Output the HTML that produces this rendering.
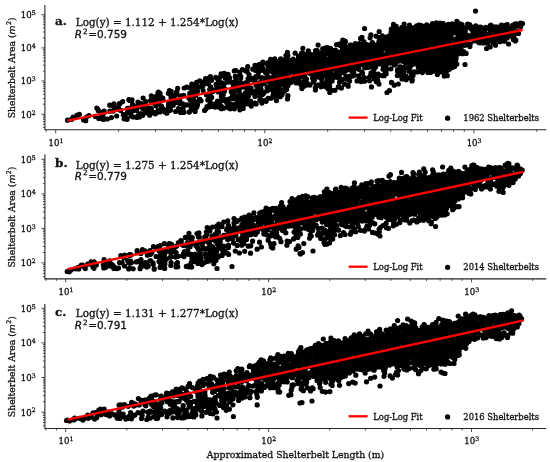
<!DOCTYPE html>
<html><head><meta charset="utf-8"><title>Shelterbelt scatter</title><style>
html,body{margin:0;padding:0;background:#fff;width:550px;height:462px;overflow:hidden}
svg{display:block;filter:blur(0.35px)}
text{font-family:"DejaVu Serif","Liberation Serif",serif;fill:#111;stroke:#111;stroke-width:0.3px}
.tk{font-size:8.6px}
.sup{font-size:6.2px}
.yl{font-size:9.25px}
.mi{font-family:"DejaVu Sans",sans-serif;font-style:italic}
.ysup{font-size:6.3px;font-family:"DejaVu Sans",sans-serif}
.pl{font-size:11.9px;font-weight:bold;stroke-width:0.35px}
.eq{font-size:10.4px}
.r2{font-size:10.5px;font-family:"DejaVu Sans",sans-serif}
.rsup{font-size:7.3px}
.lg{font-size:8.4px}
.xl{font-size:9.3px}
</style></head><body>
<svg width="550" height="462" viewBox="0 0 550 462">
<rect width="550" height="462" fill="#fff"/>
<g><path d="M71.4 119.4h0M73.1 117.1h0M73.7 117.7h0M73.9 117.4h0M76.9 115.4h0M79.4 114.3h0M83.7 120.0h0M83.5 119.4h0M85.7 120.7h0M86.5 117.0h0M89.0 115.6h0M95.3 116.5h0M96.8 108.1h0M98.0 109.4h0M98.4 110.8h0M98.8 118.4h0M101.5 115.2h0M101.9 112.3h0M101.8 118.4h0M102.6 116.9h0M103.3 117.5h0M103.7 113.3h0M103.4 119.4h0M104.2 111.2h0M107.4 119.0h0M109.7 105.2h0M109.9 111.2h0M111.5 117.6h0M113.2 111.1h0M113.0 106.0h0M113.6 106.5h0M113.9 103.8h0M115.5 108.2h0M115.3 108.0h0M116.6 109.4h0M116.7 116.0h0M118.4 107.2h0M119.2 104.0h0M119.5 103.7h0M120.1 103.5h0M120.7 110.4h0M122.7 101.5h0M123.3 114.7h0M124.1 118.8h0M125.5 114.3h0M127.0 118.6h0M127.1 119.3h0M127.5 108.3h0M127.5 112.3h0M128.9 99.7h0M129.8 100.4h0M130.5 107.9h0M130.8 113.2h0M131.1 115.9h0M132.1 110.0h0M132.0 99.9h0M132.6 104.6h0M133.1 116.9h0M133.4 110.6h0M134.6 109.0h0M136.8 110.4h0M136.9 117.5h0M137.5 105.9h0M138.0 115.7h0M138.0 102.2h0M139.0 116.6h0M139.5 117.0h0M140.4 113.9h0M140.7 106.4h0M141.1 103.7h0M141.0 113.9h0M142.7 115.3h0M142.7 108.6h0M143.1 98.1h0M143.6 105.2h0M143.8 109.0h0M145.0 113.0h0M145.9 111.0h0M146.0 112.6h0M145.8 101.6h0M146.9 106.8h0M148.6 110.5h0M149.6 115.2h0M150.7 100.4h0M151.0 108.3h0M151.4 109.2h0M151.3 95.8h0M153.0 97.8h0M152.9 102.9h0M152.8 112.9h0M153.9 112.4h0M155.2 100.6h0M155.1 96.9h0M155.4 113.8h0M156.0 105.8h0M155.9 105.8h0M156.6 112.5h0M157.4 111.5h0M157.9 92.9h0M158.2 93.4h0M158.4 110.3h0M158.5 92.0h0M158.7 104.1h0M158.6 94.8h0M159.2 98.4h0M159.3 95.9h0M160.0 111.9h0M160.1 93.3h0M160.1 96.1h0M161.5 106.2h0M162.7 98.1h0M162.8 108.6h0M163.0 100.1h0M164.0 110.1h0M165.0 112.0h0M166.9 113.2h0M168.6 103.9h0M168.3 107.9h0M168.3 93.3h0M168.4 105.5h0M169.5 110.4h0M169.4 90.7h0M170.1 107.6h0M170.5 110.0h0M171.2 91.3h0M171.0 96.7h0M171.2 98.0h0M171.4 100.5h0M171.3 100.9h0M172.5 95.3h0M173.2 105.3h0M174.5 98.9h0M175.7 102.5h0M175.6 111.5h0M176.1 94.6h0M175.9 100.0h0M176.6 92.1h0M176.8 91.7h0M177.7 88.3h0M178.5 100.9h0M178.4 108.6h0M179.7 103.5h0M179.8 100.3h0M180.6 112.4h0M180.4 103.2h0M180.4 95.8h0M182.1 103.5h0M182.7 103.8h0M183.0 108.3h0M183.5 112.5h0M183.4 106.3h0M183.3 110.6h0M183.8 95.3h0M184.2 88.0h0M183.8 112.3h0M186.1 104.8h0M186.7 87.2h0M188.2 104.8h0M188.9 97.9h0M189.1 112.1h0M189.4 112.0h0M189.7 93.3h0M190.2 99.7h0M190.6 88.3h0M191.1 109.7h0M190.8 87.3h0M191.7 87.2h0M191.7 85.7h0M191.7 108.0h0M191.4 109.3h0M191.9 86.1h0M192.0 89.3h0M191.9 106.8h0M191.8 84.0h0M192.2 101.3h0M192.7 103.5h0M192.4 97.5h0M192.3 95.1h0M192.9 102.8h0M193.2 100.2h0M193.2 109.6h0M193.0 92.0h0M193.7 100.0h0M195.1 111.5h0M195.6 101.9h0M195.4 85.6h0M196.2 89.9h0M195.9 95.4h0M195.8 108.1h0M196.6 82.4h0M196.5 106.4h0M197.1 104.1h0M196.9 105.6h0M196.8 107.0h0M197.5 91.3h0M197.5 104.7h0M199.2 99.8h0M199.6 86.8h0M199.7 80.9h0M199.9 99.4h0M201.0 100.8h0M201.9 82.3h0M202.7 86.0h0M203.1 84.5h0M203.2 90.6h0M202.8 82.1h0M203.9 84.2h0M204.6 110.4h0M205.5 78.5h0M205.9 109.1h0M206.4 79.8h0M206.4 94.7h0M207.0 106.6h0M207.6 80.6h0M207.7 95.6h0M207.8 99.9h0M208.5 84.0h0M208.9 78.2h0M209.0 106.9h0M209.7 89.6h0M209.7 104.8h0M210.1 90.9h0M210.4 76.7h0M210.3 102.2h0M210.6 86.9h0M210.4 89.4h0M210.8 92.8h0M211.1 106.5h0M211.6 80.3h0M211.7 97.4h0M212.1 89.8h0M213.0 105.6h0M213.0 91.5h0M214.7 89.9h0M214.9 107.1h0M215.7 77.3h0M215.5 103.5h0M216.1 84.3h0M216.6 85.8h0M217.1 90.6h0M217.7 79.0h0M217.5 101.1h0M218.0 82.9h0M218.3 92.0h0M218.7 90.0h0M218.6 107.1h0M218.9 80.4h0M218.8 102.0h0M219.0 87.3h0M219.4 78.0h0M219.8 103.1h0M220.4 105.6h0M221.1 106.2h0M221.1 73.8h0M221.0 75.8h0M221.4 108.7h0M221.5 100.4h0M221.7 88.6h0M221.3 82.5h0M221.3 96.4h0M221.6 94.0h0M221.8 99.2h0M221.8 108.4h0M222.9 93.9h0M223.0 88.1h0M223.2 87.1h0M223.2 94.8h0M223.7 75.7h0M223.7 85.7h0M223.7 108.2h0M223.6 98.8h0M223.9 83.8h0M224.0 75.9h0M224.3 73.4h0M224.4 91.2h0M224.9 89.0h0M225.3 78.2h0M225.5 100.9h0M227.0 103.3h0M227.3 82.2h0M227.8 80.7h0M228.1 74.3h0M228.0 104.8h0M228.0 106.2h0M228.2 80.7h0M227.9 99.4h0M227.9 76.1h0M228.3 107.8h0M229.1 77.5h0M229.6 77.9h0M230.2 108.8h0M230.7 103.8h0M230.8 98.4h0M231.6 82.4h0M231.3 91.7h0M232.5 94.8h0M233.2 98.7h0M233.2 86.7h0M233.0 88.1h0M234.2 92.7h0M233.9 82.2h0M233.8 84.9h0M234.0 107.4h0M234.4 108.8h0M234.6 83.9h0M234.3 70.9h0M234.4 95.2h0M234.9 82.8h0M235.1 104.3h0M235.3 76.4h0M235.3 87.1h0M235.9 79.4h0M235.9 70.5h0M236.3 106.0h0M236.6 99.4h0M236.6 97.3h0M237.2 84.4h0M237.7 82.5h0M238.0 88.9h0M238.2 100.5h0M238.6 101.3h0M238.6 97.6h0M239.2 90.9h0M239.7 72.4h0M239.4 85.1h0M239.4 94.8h0M239.9 106.2h0M240.2 85.1h0M239.9 109.8h0M240.0 75.3h0M240.7 78.0h0M240.6 104.4h0M240.4 94.7h0M240.8 76.7h0M241.2 82.9h0M241.7 103.2h0M241.5 97.3h0M241.7 85.2h0M241.6 96.9h0M242.0 106.5h0M242.1 107.7h0M242.3 69.7h0M243.0 107.2h0M242.8 87.1h0M242.8 97.0h0M243.2 108.5h0M243.5 102.4h0M243.5 101.2h0M243.5 95.7h0M244.7 94.9h0M245.0 85.5h0M245.2 93.0h0M245.3 103.9h0M245.3 70.1h0M245.8 71.1h0M246.1 82.7h0M245.9 82.7h0M246.6 71.3h0M246.5 92.0h0M246.3 98.7h0M246.8 70.1h0M246.9 102.5h0M247.2 99.9h0M247.0 89.7h0M247.1 71.5h0M247.0 69.9h0M247.7 84.1h0M247.6 88.6h0M247.7 66.7h0M248.0 78.8h0M247.9 85.0h0M247.8 92.7h0M248.5 95.7h0M248.9 91.2h0M249.0 74.6h0M249.0 104.0h0M250.3 104.3h0M250.6 101.0h0M251.0 88.2h0M251.0 79.7h0M251.3 78.0h0M251.3 106.1h0M252.6 92.9h0M252.8 69.2h0M254.7 94.2h0M255.1 82.1h0M255.0 65.3h0M254.9 103.0h0M255.0 96.4h0M255.6 70.6h0M255.3 91.4h0M255.3 68.4h0M255.6 78.3h0M256.1 103.9h0M256.0 84.9h0M255.8 76.5h0M257.2 87.9h0M257.2 87.1h0M257.1 65.7h0M257.7 83.8h0M258.1 76.7h0M258.3 76.9h0M258.6 72.5h0M258.4 70.2h0M258.8 92.8h0M259.0 92.8h0M259.7 82.6h0M259.7 70.6h0M259.5 64.4h0M259.4 69.9h0M260.2 84.3h0M260.2 89.5h0M260.0 96.7h0M259.9 100.0h0M261.0 89.1h0M260.9 85.5h0M261.6 100.1h0M261.5 77.7h0M261.7 78.2h0M262.2 68.4h0M262.2 77.9h0M261.9 103.1h0M261.8 64.0h0M262.4 94.5h0M262.4 67.6h0M262.9 63.2h0M262.9 93.9h0M262.8 69.4h0M262.9 62.2h0M263.6 70.6h0M264.1 92.5h0M263.9 70.6h0M264.3 83.3h0M264.7 81.3h0M264.7 80.9h0M265.5 72.6h0M265.6 70.4h0M265.7 100.4h0M266.0 79.1h0M266.1 101.3h0M266.0 77.9h0M267.0 90.5h0M267.2 74.6h0M267.1 87.3h0M267.7 62.9h0M267.5 90.6h0M268.2 63.0h0M267.8 65.6h0M268.1 98.3h0M269.2 80.4h0M269.7 88.4h0M269.4 70.5h0M269.6 82.1h0M270.0 87.7h0M269.9 83.2h0M270.1 66.5h0M270.6 62.2h0M270.6 86.6h0M270.3 80.2h0M270.4 77.8h0M270.5 59.3h0M271.0 81.1h0M270.9 98.2h0M271.2 98.1h0M271.6 89.4h0M271.3 61.8h0M272.2 71.7h0M272.0 66.3h0M271.8 97.5h0M272.4 62.0h0M272.5 81.6h0M273.1 95.3h0M272.8 82.3h0M272.9 84.9h0M273.1 64.4h0M273.3 92.0h0M273.8 67.2h0M274.1 84.2h0M273.9 75.7h0M273.8 66.7h0M274.3 79.2h0M274.6 93.6h0M275.1 60.8h0M275.2 90.4h0M275.1 70.9h0M274.8 58.9h0M275.6 86.1h0M275.5 69.4h0M275.3 96.7h0M276.0 79.2h0M275.8 66.0h0M276.7 61.7h0M276.4 100.6h0M277.1 73.1h0M277.2 68.1h0M277.1 81.7h0M276.8 89.7h0M276.9 83.6h0M276.9 62.3h0M277.3 74.7h0M277.4 90.1h0M277.4 84.6h0M277.5 75.4h0M277.7 75.8h0M277.5 79.6h0M277.9 61.8h0M277.8 78.5h0M278.5 87.5h0M278.3 65.4h0M278.9 87.2h0M279.0 65.9h0M278.8 92.9h0M279.5 61.7h0M279.3 64.6h0M279.3 78.0h0M279.4 70.8h0M280.1 96.7h0M280.2 89.3h0M280.4 62.5h0M280.5 84.6h0M280.7 58.8h0M280.9 60.7h0M280.8 73.4h0M280.9 84.5h0M280.8 83.6h0M281.2 67.0h0M281.7 62.7h0M281.6 80.4h0M281.9 63.5h0M282.1 60.7h0M281.8 94.9h0M283.1 61.7h0M283.0 64.8h0M283.0 72.5h0M283.2 80.5h0M282.8 92.9h0M283.6 69.0h0M283.7 73.6h0M284.0 78.5h0M284.0 65.5h0M284.2 83.6h0M283.8 77.7h0M284.5 60.4h0M284.5 91.1h0M284.8 60.1h0M284.9 77.7h0M285.0 69.3h0M285.0 87.8h0M285.3 61.6h0M285.5 65.2h0M285.6 76.8h0M285.3 67.0h0M285.4 59.4h0M286.0 81.1h0M286.1 63.2h0M285.8 70.6h0M285.8 80.0h0M285.9 55.5h0M286.3 78.7h0M286.3 59.1h0M286.4 75.4h0M286.5 71.9h0M286.6 89.4h0M287.0 74.3h0M287.6 61.3h0M287.4 81.0h0M287.7 80.5h0M287.4 52.4h0M287.5 98.9h0M287.8 68.1h0M288.1 82.3h0M287.9 55.7h0M287.9 95.7h0M288.0 85.4h0M288.7 72.8h0M288.9 79.9h0M289.2 80.0h0M289.2 69.7h0M289.0 73.0h0M289.0 61.0h0M289.2 81.1h0M289.4 66.1h0M289.7 71.1h0M289.3 64.2h0M289.7 62.4h0M289.6 70.9h0M289.7 72.5h0M289.8 61.6h0M289.9 72.0h0M289.9 61.7h0M290.5 69.6h0M290.5 60.6h0M290.5 67.8h0M290.7 81.1h0M290.7 71.1h0M291.1 82.3h0M291.6 70.6h0M292.1 68.9h0M292.0 69.1h0M292.3 69.7h0M292.6 69.7h0M292.3 65.6h0M292.7 64.2h0M293.2 59.2h0M292.8 69.6h0M293.1 78.2h0M293.0 80.1h0M292.8 61.2h0M293.8 63.8h0M294.5 66.5h0M294.6 74.9h0M295.2 70.9h0M295.0 71.3h0M295.1 70.7h0M294.8 74.1h0M295.1 53.2h0M295.3 75.0h0M295.8 74.3h0M296.2 82.9h0M296.5 72.2h0M296.6 60.8h0M296.7 74.7h0M296.4 70.3h0M296.9 67.0h0M297.4 77.8h0M297.4 65.5h0M298.2 61.2h0M297.8 77.3h0M298.5 57.1h0M298.7 57.2h0M298.3 65.6h0M298.3 75.0h0M298.8 56.1h0M298.9 71.0h0M299.2 64.3h0M298.8 80.6h0M299.6 76.3h0M299.7 64.8h0M299.4 59.8h0M300.2 57.8h0M300.0 64.8h0M300.2 56.3h0M299.8 65.2h0M299.8 60.3h0M300.0 57.9h0M300.5 61.5h0M300.6 76.7h0M300.5 65.5h0M300.7 60.4h0M300.5 84.1h0M301.0 72.7h0M301.5 69.2h0M301.4 70.3h0M301.6 53.0h0M301.4 85.6h0M302.0 68.9h0M301.9 73.3h0M301.9 88.6h0M302.2 84.6h0M302.3 59.3h0M302.4 63.5h0M302.6 57.1h0M302.5 73.4h0M302.5 73.2h0M302.5 61.1h0M302.4 71.6h0M302.4 74.4h0M302.6 82.9h0M303.1 67.6h0M303.1 72.8h0M302.8 72.0h0M302.9 62.8h0M302.9 53.2h0M302.9 48.3h0M303.5 70.2h0M303.7 64.8h0M303.7 82.5h0M303.9 62.5h0M304.0 66.5h0M303.8 75.0h0M304.2 55.2h0M304.1 57.0h0M303.8 74.4h0M304.1 81.1h0M304.4 86.1h0M305.2 73.5h0M305.0 56.8h0M305.0 71.8h0M304.8 68.0h0M304.9 77.2h0M305.0 54.7h0M305.5 61.6h0M305.7 71.4h0M305.4 85.0h0M305.8 68.5h0M306.7 70.8h0M306.6 57.9h0M306.7 61.3h0M306.3 72.0h0M306.4 65.5h0M306.5 79.0h0M306.9 71.6h0M307.0 65.2h0M307.4 64.8h0M307.3 83.4h0M307.7 85.0h0M308.1 62.9h0M308.1 64.1h0M307.8 69.3h0M307.9 58.1h0M307.9 71.3h0M307.8 68.2h0M307.8 66.6h0M307.9 66.6h0M308.1 53.0h0M308.7 71.0h0M308.6 61.5h0M308.3 69.9h0M308.5 59.8h0M308.3 67.8h0M308.4 50.9h0M308.4 53.8h0M309.0 68.4h0M309.2 61.9h0M309.2 64.3h0M309.2 71.2h0M309.1 54.5h0M309.6 56.7h0M309.4 58.0h0M309.3 55.2h0M309.4 72.2h0M309.3 65.1h0M309.4 67.6h0M309.6 54.0h0M310.0 70.9h0M310.0 85.1h0M310.3 73.7h0M311.7 56.5h0M311.6 54.7h0M311.9 62.3h0M311.9 65.4h0M312.2 64.5h0M312.2 62.7h0M312.4 57.0h0M312.5 65.3h0M312.5 67.5h0M312.7 72.5h0M312.6 55.8h0M312.6 78.0h0M313.2 55.5h0M312.9 70.0h0M313.4 68.1h0M313.4 74.2h0M313.7 58.7h0M313.4 72.5h0M313.3 56.2h0M313.3 81.9h0M314.1 64.5h0M313.9 63.4h0M313.8 70.8h0M314.0 63.2h0M313.9 64.8h0M314.6 54.2h0M314.7 68.8h0M314.3 80.3h0M314.8 73.0h0M315.2 57.7h0M315.2 63.9h0M315.2 67.6h0M315.5 72.3h0M315.6 74.7h0M315.3 63.8h0M315.6 50.5h0M315.6 77.3h0M315.4 90.0h0M315.4 87.8h0M316.1 70.4h0M316.1 72.9h0M316.0 53.3h0M316.2 85.5h0M316.3 62.7h0M316.3 65.6h0M316.8 65.8h0M316.9 62.2h0M317.1 73.4h0M316.9 68.1h0M317.0 63.6h0M317.2 50.6h0M317.4 68.4h0M317.4 57.9h0M317.6 67.8h0M317.3 57.8h0M317.6 85.1h0M317.8 73.2h0M317.9 55.3h0M317.9 66.7h0M318.1 45.1h0M318.1 85.0h0M318.3 61.5h0M318.3 64.1h0M318.7 62.3h0M318.4 72.3h0M319.2 58.0h0M319.2 62.1h0M319.7 67.1h0M319.3 61.4h0M319.7 61.5h0M319.3 74.2h0M319.3 55.9h0M320.1 61.7h0M320.2 60.5h0M320.1 57.5h0M319.9 56.5h0M320.0 76.2h0M320.1 77.8h0M320.5 64.3h0M320.7 64.5h0M320.4 62.6h0M320.4 66.8h0M320.4 74.4h0M320.5 66.5h0M320.6 67.7h0M320.6 64.2h0M320.9 54.3h0M320.8 61.8h0M321.1 58.6h0M321.0 66.8h0M321.2 65.3h0M321.0 86.8h0M321.3 77.1h0M321.5 78.6h0M321.5 76.9h0M321.8 61.0h0M322.2 67.1h0M322.2 74.2h0M322.1 52.5h0M322.1 57.0h0M322.0 82.0h0M322.3 74.1h0M322.5 72.0h0M322.4 58.0h0M322.4 70.8h0M322.7 64.5h0M322.6 54.3h0M322.7 48.8h0M323.0 57.2h0M323.1 56.7h0M323.1 67.6h0M323.1 86.2h0M323.6 71.2h0M323.4 66.8h0M324.1 71.6h0M324.1 69.3h0M324.5 57.2h0M324.7 48.4h0M324.7 75.9h0M324.9 65.2h0M325.1 71.9h0M325.0 72.0h0M325.2 68.7h0M325.0 83.3h0M325.6 70.4h0M325.3 69.6h0M325.6 63.5h0M325.9 63.2h0M325.8 61.6h0M325.8 47.8h0M326.4 53.1h0M326.6 60.2h0M326.6 66.7h0M326.5 87.3h0M326.9 52.2h0M327.0 72.9h0M327.0 77.4h0M327.0 79.8h0M327.7 68.1h0M327.7 71.9h0M327.5 47.5h0M327.6 76.5h0M327.6 79.6h0M327.4 85.0h0M328.0 63.9h0M327.9 53.7h0M328.0 69.9h0M327.8 71.7h0M328.1 88.7h0M328.7 61.5h0M328.4 66.4h0M328.4 77.1h0M328.5 84.7h0M329.5 58.3h0M329.5 53.4h0M329.7 86.0h0M329.6 82.8h0M330.2 62.8h0M330.1 69.2h0M330.1 69.4h0M329.8 50.7h0M330.2 50.4h0M329.8 92.5h0M329.8 91.4h0M330.5 63.7h0M330.3 56.8h0M330.5 48.4h0M330.9 72.4h0M330.8 65.7h0M331.2 61.8h0M330.9 64.5h0M331.1 74.0h0M331.2 74.8h0M331.7 57.8h0M331.5 55.7h0M331.5 80.0h0M331.6 74.2h0M332.0 68.4h0M332.1 52.4h0M331.8 65.8h0M332.1 81.0h0M331.9 90.3h0M332.4 68.5h0M332.6 50.4h0M332.5 75.1h0M333.2 56.4h0M333.2 67.3h0M333.4 58.6h0M333.9 64.4h0M334.0 76.0h0M334.0 76.5h0M334.5 66.1h0M334.6 77.2h0M334.8 52.0h0M335.1 56.6h0M334.9 52.0h0M335.0 65.0h0M334.9 66.3h0M334.9 90.3h0M335.3 50.0h0M335.5 54.0h0M335.9 61.7h0M336.2 55.0h0M335.9 50.7h0M336.2 69.2h0M336.1 52.7h0M336.3 60.6h0M336.3 71.0h0M336.6 55.1h0M336.6 44.6h0M336.4 74.2h0M337.2 70.6h0M337.0 71.9h0M337.0 59.7h0M337.2 77.3h0M337.4 66.6h0M337.5 59.1h0M338.2 57.5h0M338.1 64.0h0M337.8 66.5h0M338.2 60.2h0M338.1 60.0h0M338.3 71.2h0M338.7 57.9h0M338.5 61.3h0M338.3 55.0h0M338.3 86.9h0M338.7 75.8h0M339.0 52.3h0M339.0 63.1h0M339.2 59.6h0M338.9 69.5h0M339.0 55.6h0M339.1 76.4h0M338.9 73.7h0M339.7 59.2h0M339.7 69.6h0M339.4 53.7h0M339.7 63.7h0M339.7 56.9h0M339.7 87.3h0M339.5 82.2h0M339.7 74.6h0M339.9 71.8h0M340.0 54.8h0M339.9 61.6h0M339.8 43.9h0M340.2 73.3h0M340.3 68.1h0M340.3 45.4h0M340.9 66.6h0M340.8 63.2h0M340.9 59.4h0M341.2 63.5h0M340.9 55.7h0M340.8 62.1h0M341.1 79.9h0M341.4 59.1h0M341.3 69.6h0M341.6 53.7h0M341.4 88.1h0M342.0 68.8h0M342.0 69.1h0M342.0 61.9h0M342.2 51.4h0M342.2 62.9h0M342.0 69.8h0M342.2 50.6h0M342.1 79.6h0M342.6 48.6h0M342.3 57.5h0M342.7 57.2h0M342.3 43.4h0M343.0 52.1h0M342.9 61.1h0M342.8 66.2h0M343.1 46.5h0M342.8 40.0h0M343.5 59.5h0M343.3 54.0h0M343.4 50.0h0M343.7 50.6h0M343.5 55.5h0M343.6 60.4h0M343.7 58.9h0M343.3 72.5h0M343.9 59.6h0M343.9 52.0h0M343.9 50.6h0M344.0 62.4h0M344.1 55.4h0M343.8 60.0h0M344.6 68.6h0M344.5 51.6h0M344.6 84.1h0M344.8 52.0h0M345.1 59.9h0M345.2 68.7h0M345.1 59.1h0M345.0 69.9h0M344.9 64.3h0M345.1 41.1h0M345.4 49.2h0M345.5 70.9h0M345.4 51.7h0M345.3 51.9h0M345.6 66.7h0M345.4 41.8h0M345.4 46.3h0M346.2 61.3h0M346.1 54.6h0M345.9 76.4h0M346.7 79.1h0M347.0 58.7h0M347.0 66.4h0M346.9 50.5h0M346.8 65.0h0M347.5 67.4h0M347.4 48.3h0M347.7 64.6h0M347.6 57.3h0M348.2 86.2h0M348.0 85.3h0M348.5 49.6h0M348.5 56.4h0M348.3 66.9h0M348.5 56.8h0M349.2 52.4h0M349.5 52.1h0M349.4 49.3h0M349.4 62.7h0M349.6 81.1h0M349.7 76.2h0M349.8 62.4h0M350.2 69.2h0M349.9 69.7h0M350.2 56.5h0M350.2 45.1h0M350.7 59.1h0M350.6 49.0h0M350.7 57.3h0M350.7 57.5h0M350.3 50.4h0M350.9 64.8h0M351.0 64.6h0M351.0 58.3h0M351.1 46.3h0M350.9 45.0h0M351.2 76.3h0M351.4 58.0h0M351.5 57.5h0M351.3 56.8h0M351.4 67.9h0M351.5 67.2h0M351.5 65.0h0M351.6 70.8h0M352.0 64.1h0M351.8 47.0h0M352.4 61.9h0M352.4 75.7h0M353.2 68.6h0M353.2 51.9h0M353.0 60.5h0M352.9 53.4h0M353.0 54.8h0M353.2 58.9h0M353.4 69.7h0M353.4 63.6h0M353.7 46.6h0M353.4 75.8h0M353.8 58.7h0M353.8 65.6h0M354.2 60.5h0M354.0 68.8h0M354.0 66.4h0M354.1 67.0h0M353.8 46.3h0M353.8 73.1h0M354.4 51.2h0M354.4 68.3h0M354.7 68.3h0M354.6 51.3h0M354.6 68.9h0M355.7 52.4h0M355.3 50.2h0M355.7 52.6h0M355.7 60.0h0M355.6 65.4h0M355.5 54.0h0M355.5 57.3h0M355.3 43.7h0M355.8 65.5h0M356.2 55.5h0M355.9 62.0h0M355.8 65.3h0M356.6 67.6h0M356.3 68.0h0M356.3 56.1h0M356.5 57.6h0M357.1 80.9h0M357.6 68.3h0M357.4 49.5h0M357.6 62.5h0M357.4 59.7h0M357.4 59.2h0M358.2 47.1h0M358.0 62.2h0M358.0 48.7h0M358.2 58.0h0M358.0 67.6h0M358.5 56.1h0M358.4 61.6h0M358.4 75.8h0M358.9 69.3h0M359.0 54.0h0M358.9 54.9h0M358.9 49.2h0M359.4 55.4h0M359.3 43.6h0M359.9 65.0h0M359.9 49.8h0M360.0 78.4h0M360.5 56.8h0M360.7 46.1h0M360.6 38.4h0M360.9 57.2h0M360.9 55.6h0M360.9 60.6h0M361.1 61.8h0M360.9 54.9h0M361.0 81.6h0M361.3 59.8h0M361.7 54.4h0M362.1 55.9h0M361.9 56.9h0M361.9 53.2h0M362.2 53.7h0M361.8 63.7h0M362.2 58.5h0M362.1 52.6h0M362.0 37.3h0M361.9 72.3h0M362.7 64.2h0M362.7 58.5h0M362.4 44.3h0M362.6 73.3h0M363.2 46.7h0M363.1 55.4h0M362.9 57.2h0M363.2 51.0h0M362.8 44.5h0M363.4 45.1h0M363.5 48.4h0M363.9 48.7h0M364.1 46.7h0M364.1 55.9h0M364.1 55.9h0M363.9 64.0h0M363.9 41.5h0M364.6 65.3h0M364.7 67.8h0M364.4 57.2h0M364.4 56.9h0M364.6 60.6h0M364.3 77.5h0M364.5 81.2h0M365.1 46.1h0M365.1 65.6h0M365.1 58.5h0M365.0 60.6h0M365.4 55.4h0M365.7 51.4h0M365.4 63.0h0M365.6 65.0h0M365.4 46.8h0M365.7 62.2h0M365.8 61.1h0M366.1 67.2h0M366.4 52.7h0M366.3 56.8h0M366.7 50.3h0M366.9 58.0h0M367.0 50.6h0M367.1 52.3h0M366.8 44.5h0M367.3 65.3h0M367.5 63.8h0M367.5 67.4h0M367.7 61.6h0M367.4 65.5h0M367.7 60.2h0M367.7 62.0h0M367.8 64.7h0M368.0 63.3h0M367.9 45.8h0M367.9 45.2h0M368.2 57.1h0M368.0 63.6h0M368.3 60.7h0M368.7 47.5h0M369.1 51.5h0M368.8 60.9h0M368.9 49.3h0M368.9 66.3h0M369.2 77.4h0M369.6 53.5h0M369.6 63.6h0M369.6 48.9h0M369.7 60.8h0M369.6 80.8h0M369.8 64.3h0M370.2 56.0h0M369.8 64.2h0M370.1 37.8h0M370.6 47.6h0M370.7 64.2h0M370.4 55.5h0M370.7 44.8h0M370.5 75.7h0M370.9 66.9h0M371.2 54.7h0M371.1 47.3h0M370.9 34.9h0M371.0 72.8h0M371.7 65.7h0M371.5 86.9h0M372.0 44.0h0M371.9 61.7h0M372.7 55.6h0M372.6 57.1h0M372.5 66.7h0M372.6 52.4h0M372.4 42.6h0M372.4 55.3h0M373.2 58.1h0M372.9 45.7h0M373.4 48.9h0M373.6 63.6h0M373.3 50.3h0M373.6 50.5h0M373.5 61.3h0M373.3 53.5h0M373.6 51.4h0M374.2 60.0h0M374.1 63.4h0M373.9 69.6h0M374.1 74.5h0M374.5 44.9h0M374.4 46.5h0M374.5 54.1h0M374.5 57.3h0M374.5 79.1h0M374.5 67.6h0M375.2 49.8h0M375.2 54.2h0M375.0 66.2h0M375.2 65.5h0M375.3 60.1h0M375.5 57.7h0M375.4 67.2h0M375.5 74.1h0M375.8 47.4h0M376.1 55.8h0M376.2 46.0h0M376.0 55.1h0M375.8 48.7h0M376.1 65.5h0M376.2 58.8h0M375.8 48.4h0M375.9 59.9h0M376.2 36.2h0M376.7 48.9h0M376.4 81.7h0M376.8 54.8h0M377.2 56.6h0M377.2 61.3h0M376.9 54.9h0M377.1 55.7h0M377.0 45.3h0M377.1 51.7h0M377.1 55.6h0M377.7 57.8h0M377.3 50.5h0M377.4 62.3h0M378.0 57.6h0M378.2 74.0h0M377.8 76.6h0M377.8 80.6h0M378.6 59.0h0M378.7 44.2h0M378.8 58.1h0M379.1 42.3h0M378.8 42.0h0M378.8 57.7h0M379.0 37.7h0M379.2 31.5h0M379.0 84.1h0M379.3 56.1h0M379.6 48.3h0M379.7 54.6h0M379.4 48.4h0M379.3 60.5h0M379.8 48.5h0M379.8 55.4h0M379.9 55.5h0M380.0 57.0h0M379.9 50.4h0M380.1 37.7h0M380.0 39.2h0M380.5 64.0h0M380.6 47.7h0M380.3 52.1h0M380.3 57.1h0M381.1 57.2h0M381.2 52.2h0M380.8 57.4h0M380.9 42.4h0M381.5 46.8h0M381.7 49.8h0M381.3 53.6h0M381.6 63.4h0M382.1 54.8h0M382.1 63.3h0M382.0 55.1h0M382.5 57.2h0M382.6 42.4h0M382.5 57.8h0M382.7 63.2h0M382.7 47.8h0M382.3 35.8h0M382.5 75.7h0M383.0 38.3h0M383.1 60.1h0M383.2 45.3h0M383.1 48.3h0M383.0 69.2h0M383.5 39.6h0M383.7 54.9h0M383.6 55.0h0M383.7 47.2h0M383.6 67.4h0M384.0 38.9h0M383.9 60.2h0M384.1 75.7h0M384.5 62.4h0M384.6 44.6h0M384.6 54.7h0M384.7 57.9h0M384.4 62.1h0M384.6 56.8h0M384.4 48.6h0M384.9 57.4h0M384.8 40.2h0M385.1 43.0h0M384.8 56.4h0M385.2 73.0h0M385.1 70.2h0M385.4 56.4h0M385.6 57.0h0M385.7 54.3h0M385.7 58.6h0M386.1 54.1h0M386.2 61.4h0M386.2 47.3h0M386.2 37.2h0M386.2 73.7h0M386.0 66.4h0M386.5 41.5h0M386.5 47.5h0M386.5 45.1h0M386.5 42.4h0M386.7 69.5h0M386.8 54.1h0M386.9 46.6h0M386.9 58.2h0M387.1 62.1h0M386.8 38.1h0M387.1 63.5h0M387.4 51.0h0M387.4 62.2h0M387.4 40.1h0M387.5 47.9h0M387.3 55.3h0M387.3 62.3h0M387.6 37.3h0M387.5 63.5h0M388.0 62.8h0M387.8 41.7h0M388.2 52.2h0M388.4 46.7h0M388.6 62.6h0M388.7 43.8h0M388.9 55.7h0M388.9 36.2h0M389.1 49.8h0M389.0 57.6h0M389.0 43.4h0M389.5 42.6h0M389.6 47.2h0M390.0 63.0h0M389.8 61.6h0M389.9 61.2h0M390.1 41.1h0M389.9 56.0h0M390.5 55.6h0M391.0 32.5h0M391.1 45.8h0M390.8 39.7h0M390.9 68.8h0M391.7 49.8h0M391.5 55.2h0M391.7 63.1h0M391.3 29.2h0M391.5 82.4h0M392.1 55.8h0M392.1 41.2h0M392.2 41.6h0M392.2 33.3h0M391.9 62.3h0M392.2 28.7h0M392.4 33.6h0M392.3 35.2h0M392.7 42.0h0M392.7 58.1h0M392.3 35.7h0M393.1 59.0h0M393.1 33.6h0M393.0 56.4h0M393.0 41.2h0M392.8 36.8h0M392.9 52.9h0M393.2 47.2h0M392.9 51.9h0M393.0 63.2h0M393.6 41.1h0M393.5 35.0h0M393.3 53.3h0M393.7 51.3h0M393.5 24.4h0M394.2 52.6h0M394.1 52.4h0M394.2 32.6h0M394.0 59.0h0M393.9 53.4h0M394.2 39.4h0M394.2 41.7h0M394.0 49.4h0M394.2 85.2h0M394.6 35.3h0M394.6 45.2h0M394.3 36.4h0M394.4 61.8h0M394.5 26.1h0M394.5 64.9h0M394.8 50.9h0M395.2 46.3h0M395.1 52.0h0M395.0 61.9h0M394.9 41.7h0M394.9 39.1h0M394.8 37.4h0M395.7 32.6h0M395.7 47.3h0M395.5 48.2h0M395.7 52.7h0M395.6 63.5h0M396.0 53.2h0M396.1 58.5h0M396.2 58.2h0M396.0 55.0h0M396.2 26.4h0M396.5 42.2h0M396.4 42.0h0M397.1 30.8h0M396.8 41.2h0M397.1 59.0h0M397.2 46.8h0M397.1 32.5h0M397.4 31.8h0M397.6 55.0h0M397.5 71.1h0M397.3 75.6h0M397.6 69.7h0M397.9 46.7h0M397.8 60.5h0M397.8 35.7h0M398.1 60.1h0M398.1 30.1h0M397.9 32.5h0M398.2 42.8h0M398.6 49.9h0M398.5 39.1h0M398.7 42.4h0M398.3 44.4h0M398.5 44.3h0M398.3 30.8h0M398.6 36.2h0M398.3 84.0h0M399.1 50.2h0M399.1 33.8h0M398.8 36.4h0M399.1 42.1h0M399.0 32.9h0M398.8 61.1h0M399.2 54.2h0M398.9 54.7h0M398.9 36.1h0M398.9 41.1h0M399.6 30.5h0M399.5 54.7h0M399.6 39.8h0M400.1 42.2h0M399.9 60.3h0M400.0 39.5h0M400.0 38.4h0M400.0 75.2h0M399.9 66.9h0M400.3 55.4h0M400.6 39.0h0M400.5 55.1h0M400.4 74.8h0M400.5 66.8h0M400.8 56.7h0M401.1 57.2h0M401.1 46.4h0M400.9 46.2h0M401.0 52.5h0M400.8 34.0h0M401.3 28.6h0M401.6 33.9h0M401.4 45.8h0M401.4 70.7h0M401.8 55.2h0M402.0 56.1h0M402.0 61.1h0M401.8 49.8h0M402.2 27.5h0M401.9 27.4h0M402.0 79.0h0M402.5 49.8h0M402.7 69.8h0M402.8 40.8h0M402.8 37.3h0M403.1 31.3h0M403.2 42.1h0M402.9 33.7h0M402.9 42.8h0M403.0 47.4h0M403.2 47.9h0M403.1 69.7h0M402.9 74.2h0M403.7 52.3h0M403.6 60.2h0M403.7 61.1h0M403.4 33.5h0M403.7 59.0h0M403.7 37.4h0M403.7 72.4h0M403.4 67.3h0M403.9 58.2h0M404.1 38.1h0M404.1 60.0h0M404.1 40.0h0M404.1 37.1h0M404.1 61.6h0M404.0 47.8h0M403.8 34.5h0M404.1 24.1h0M403.8 75.0h0M404.7 58.8h0M404.5 33.6h0M404.3 60.4h0M404.4 35.1h0M404.3 57.5h0M404.4 36.7h0M404.3 39.3h0M404.5 34.2h0M404.4 35.1h0M404.5 39.2h0M405.2 30.2h0M404.9 52.3h0M405.2 42.8h0M405.1 47.0h0M405.0 37.8h0M405.2 34.8h0M405.6 37.3h0M405.3 54.5h0M405.3 30.3h0M405.7 45.5h0M405.4 62.8h0M406.1 39.7h0M405.9 46.8h0M405.9 34.9h0M406.0 76.2h0M406.1 79.7h0M406.0 67.9h0M406.3 40.1h0M406.3 43.5h0M406.5 28.6h0M406.5 29.7h0M406.3 53.7h0M406.3 38.1h0M406.9 29.0h0M406.8 52.9h0M406.8 51.3h0M407.7 38.5h0M407.7 32.5h0M407.4 42.6h0M408.0 30.5h0M408.2 54.7h0M408.1 47.2h0M408.1 46.9h0M408.1 28.4h0M407.9 60.9h0M408.3 55.8h0M408.7 40.1h0M408.5 39.8h0M408.4 35.5h0M408.5 59.2h0M408.7 54.2h0M409.2 40.1h0M409.1 33.0h0M409.0 71.2h0M409.6 39.9h0M409.5 61.0h0M409.7 33.2h0M409.5 32.5h0M409.5 25.1h0M409.7 66.1h0M409.9 42.2h0M410.0 60.5h0M410.0 48.4h0M409.9 43.0h0M410.1 32.0h0M409.9 63.5h0M409.9 77.8h0M410.2 66.8h0M410.1 66.2h0M410.6 38.2h0M410.3 37.1h0M410.6 59.4h0M410.6 53.8h0M410.3 57.3h0M410.7 47.6h0M410.4 71.7h0M410.8 32.3h0M410.8 46.4h0M411.2 59.6h0M410.8 42.0h0M411.2 39.7h0M411.6 46.4h0M411.6 40.6h0M411.3 33.7h0M411.6 74.6h0M411.9 28.2h0M411.8 28.0h0M412.2 30.4h0M411.9 30.7h0M412.1 31.4h0M412.2 33.1h0M412.2 64.4h0M412.0 81.0h0M412.6 40.0h0M412.6 33.9h0M412.4 58.9h0M412.4 51.2h0M412.5 72.2h0M412.3 80.1h0M412.8 56.5h0M413.0 27.9h0M412.9 31.4h0M413.0 49.6h0M413.2 28.4h0M413.0 54.1h0M413.2 58.4h0M412.9 51.3h0M413.2 55.7h0M412.9 33.3h0M412.8 39.6h0M413.0 75.4h0M413.0 75.4h0M413.6 31.6h0M413.4 43.4h0M413.4 30.4h0M413.4 39.3h0M413.6 33.5h0M413.6 45.8h0M413.5 55.0h0M413.3 55.9h0M413.5 48.6h0M413.7 31.2h0M413.6 48.7h0M414.1 27.8h0M413.8 53.7h0M413.8 62.6h0M414.1 62.0h0M414.0 42.5h0M414.1 54.6h0M414.0 31.0h0M414.5 29.9h0M414.7 38.9h0M414.6 54.3h0M415.1 43.7h0M414.9 54.6h0M415.0 32.4h0M414.9 39.2h0M414.9 36.0h0M415.2 60.2h0M415.1 58.8h0M414.8 71.9h0M415.5 36.4h0M415.5 42.7h0M415.3 52.1h0M416.2 39.0h0M415.9 40.8h0M416.1 63.9h0M415.8 27.5h0M416.1 55.1h0M416.0 36.4h0M416.0 39.2h0M416.0 61.2h0M416.7 25.9h0M416.7 44.5h0M416.5 37.0h0M416.3 36.7h0M416.3 57.6h0M416.4 55.2h0M417.1 51.7h0M417.1 50.6h0M417.1 46.9h0M416.8 52.2h0M416.8 29.7h0M417.1 72.0h0M417.5 35.0h0M417.4 56.1h0M417.6 57.8h0M417.3 43.8h0M417.3 27.4h0M417.3 47.9h0M418.1 62.3h0M418.2 32.9h0M417.8 55.9h0M418.0 64.4h0M418.0 57.0h0M417.8 58.2h0M418.3 58.6h0M418.6 60.8h0M418.4 57.7h0M418.3 37.4h0M418.4 67.5h0M419.0 25.9h0M418.9 49.9h0M419.2 37.1h0M418.9 25.1h0M418.9 59.6h0M419.0 35.3h0M418.9 71.3h0M419.7 41.2h0M419.4 31.5h0M419.8 60.2h0M419.8 33.9h0M419.8 36.3h0M419.9 46.2h0M419.8 65.9h0M420.2 58.3h0M419.9 29.7h0M420.3 54.3h0M420.4 44.8h0M420.5 25.5h0M420.5 36.1h0M420.4 25.3h0M420.8 50.6h0M420.9 32.7h0M420.8 29.1h0M421.2 39.2h0M421.2 64.4h0M420.8 55.4h0M421.7 47.2h0M421.3 45.8h0M421.3 39.8h0M421.7 30.6h0M421.3 31.6h0M422.2 43.1h0M421.8 45.5h0M422.0 41.3h0M422.0 56.5h0M422.2 35.8h0M422.1 64.7h0M422.1 60.3h0M422.2 49.3h0M422.1 62.9h0M422.2 71.6h0M422.6 36.9h0M422.6 53.1h0M422.4 45.8h0M422.5 33.6h0M422.4 33.2h0M422.3 44.4h0M422.5 44.2h0M422.7 63.8h0M422.3 59.0h0M422.3 54.3h0M422.5 59.8h0M422.4 65.0h0M422.5 26.1h0M422.5 36.5h0M422.6 53.7h0M422.4 72.6h0M422.9 36.0h0M422.8 62.8h0M423.2 62.4h0M422.8 52.2h0M422.9 68.3h0M422.8 60.8h0M423.2 70.2h0M423.4 52.0h0M423.7 27.8h0M423.3 63.0h0M423.7 50.0h0M423.4 51.7h0M423.6 64.4h0M424.2 39.8h0M424.0 35.5h0M424.2 61.1h0M424.0 37.6h0M424.1 43.1h0M424.6 54.4h0M424.3 61.6h0M425.2 52.5h0M425.0 43.5h0M425.3 44.4h0M425.5 28.6h0M425.6 44.8h0M425.4 30.1h0M425.3 59.6h0M425.6 44.4h0M425.7 50.7h0M425.4 32.5h0M426.0 32.7h0M426.0 61.2h0M426.2 67.7h0M426.2 69.6h0M426.0 69.9h0M425.8 32.9h0M425.9 69.1h0M425.9 27.1h0M425.8 32.1h0M426.1 44.7h0M426.7 24.9h0M426.6 52.3h0M426.7 66.7h0M426.6 63.9h0M426.7 46.7h0M426.7 68.4h0M426.3 58.3h0M426.7 45.9h0M426.6 66.0h0M426.6 50.0h0M426.6 68.4h0M427.0 48.6h0M426.8 59.6h0M426.8 28.3h0M427.2 51.8h0M427.1 50.5h0M426.9 61.2h0M427.0 56.3h0M426.9 52.1h0M427.4 43.7h0M427.4 67.3h0M427.4 43.5h0M427.5 32.7h0M427.6 55.5h0M427.5 64.1h0M427.5 50.1h0M427.9 32.1h0M428.1 47.2h0M428.0 29.0h0M427.9 65.5h0M428.0 43.4h0M427.8 41.4h0M428.1 70.4h0M427.9 43.1h0M427.9 44.2h0M428.0 35.6h0M428.1 37.6h0M427.9 72.4h0M428.5 62.6h0M428.5 68.2h0M428.3 65.1h0M428.5 37.0h0M428.4 53.0h0M428.3 50.2h0M428.5 26.0h0M428.4 35.9h0M428.6 28.9h0M428.5 68.1h0M429.1 59.7h0M429.1 71.7h0M428.9 54.1h0M428.9 55.7h0M429.3 48.3h0M429.5 52.9h0M429.5 58.9h0M429.6 47.2h0M429.5 48.5h0M429.5 41.3h0M429.4 31.3h0M429.7 31.9h0M430.1 42.2h0M429.8 49.9h0M430.2 65.3h0M429.8 39.2h0M430.0 41.2h0M430.0 26.2h0M430.1 39.1h0M430.7 63.4h0M430.3 51.9h0M430.6 49.4h0M430.4 62.4h0M430.6 48.1h0M430.7 43.0h0M430.4 48.5h0M430.4 39.2h0M430.3 45.8h0M430.3 51.1h0M430.6 37.7h0M430.6 48.5h0M430.6 72.5h0M431.1 27.0h0M430.8 39.1h0M430.8 38.2h0M431.2 35.1h0M431.1 70.9h0M431.2 30.7h0M431.2 49.0h0M430.9 66.6h0M430.9 62.1h0M431.3 72.0h0M431.7 40.4h0M431.5 32.5h0M431.4 27.2h0M431.4 51.4h0M431.6 48.0h0M431.6 63.3h0M431.6 29.3h0M431.7 27.9h0M431.6 55.8h0M431.9 63.2h0M432.0 30.8h0M432.0 63.9h0M431.9 66.1h0M432.4 48.2h0M432.4 34.6h0M432.3 40.3h0M432.6 25.2h0M432.4 40.5h0M432.4 51.2h0M432.7 34.6h0M432.4 23.7h0M432.9 27.1h0M433.2 31.0h0M432.9 46.8h0M433.1 57.8h0M432.9 31.5h0M433.1 43.1h0M433.2 58.4h0M432.9 43.6h0M433.0 69.3h0M433.2 60.2h0M433.2 58.9h0M432.8 66.8h0M433.3 65.7h0M433.7 69.6h0M433.3 60.0h0M433.4 71.0h0M433.7 52.6h0M433.6 30.2h0M433.3 34.4h0M434.0 38.2h0M433.9 27.9h0M434.2 38.9h0M433.9 61.8h0M434.1 56.6h0M433.8 67.1h0M434.0 66.5h0M434.2 69.9h0M434.0 66.3h0M434.4 42.5h0M434.5 62.8h0M434.7 47.5h0M434.3 58.8h0M435.0 30.7h0M435.1 61.4h0M435.2 59.7h0M435.2 33.2h0M434.9 24.3h0M435.1 27.2h0M435.1 60.6h0M435.1 49.1h0M435.5 50.7h0M435.5 45.7h0M435.3 57.5h0M435.3 24.9h0M435.5 54.9h0M435.5 63.9h0M435.4 27.5h0M436.2 40.4h0M436.0 68.7h0M435.8 42.1h0M435.8 54.8h0M436.0 59.7h0M435.9 60.9h0M436.3 24.5h0M436.7 29.5h0M436.6 40.2h0M436.4 59.5h0M436.7 27.4h0M436.3 56.2h0M436.7 23.6h0M436.3 22.9h0M437.1 43.0h0M437.2 48.4h0M436.8 35.5h0M437.2 64.1h0M437.1 68.4h0M436.8 46.2h0M436.9 67.3h0M437.1 41.0h0M437.2 60.8h0M437.1 68.0h0M436.9 59.9h0M436.8 59.0h0M437.0 65.6h0M437.1 55.5h0M436.8 45.9h0M436.8 54.8h0M436.8 67.9h0M437.1 29.7h0M437.2 45.0h0M437.1 72.8h0M437.3 25.5h0M437.4 31.3h0M437.3 35.0h0M437.7 59.5h0M437.5 35.3h0M437.6 39.3h0M437.4 74.5h0M438.1 35.7h0M438.0 55.3h0M437.8 26.1h0M438.2 48.4h0M437.9 64.5h0M437.8 51.3h0M438.1 71.4h0M437.9 61.3h0M438.1 53.6h0M438.7 58.5h0M438.3 59.7h0M438.4 59.8h0M438.7 36.4h0M438.7 52.3h0M438.5 30.8h0M438.5 48.8h0M438.3 33.0h0M438.6 68.2h0M438.3 27.2h0M439.1 55.7h0M438.8 69.1h0M438.9 39.7h0M438.8 48.0h0M438.8 45.2h0M439.1 51.6h0M439.0 36.5h0M439.2 24.5h0M439.2 31.4h0M439.4 71.6h0M439.4 70.9h0M439.4 37.1h0M439.5 26.3h0M439.7 26.0h0M439.6 60.8h0M439.6 71.2h0M439.5 36.6h0M439.5 58.6h0M440.0 38.9h0M439.8 69.5h0M440.2 59.8h0M439.9 62.2h0M439.9 23.0h0M440.7 25.5h0M440.4 66.8h0M440.4 24.6h0M440.7 60.7h0M440.5 29.7h0M440.6 58.4h0M440.5 63.1h0M440.3 65.6h0M440.5 50.4h0M441.1 33.5h0M440.8 38.3h0M441.1 39.5h0M440.9 64.8h0M441.0 28.4h0M440.8 56.0h0M441.1 28.2h0M440.9 35.3h0M441.2 64.8h0M441.5 29.7h0M441.7 65.9h0M441.6 39.2h0M441.7 60.0h0M441.4 63.2h0M441.5 54.0h0M441.3 61.8h0M441.7 29.6h0M441.5 37.5h0M441.6 72.1h0M441.7 59.3h0M442.1 61.4h0M442.1 69.7h0M441.8 60.2h0M442.1 42.0h0M441.8 63.0h0M442.0 53.2h0M442.0 68.4h0M441.9 27.6h0M442.1 68.8h0M442.1 53.1h0M441.9 29.0h0M441.8 71.8h0M442.3 59.9h0M442.3 65.7h0M442.3 42.0h0M442.7 55.7h0M442.5 57.9h0M442.4 27.1h0M443.2 59.6h0M442.9 68.9h0M443.1 38.7h0M443.0 42.5h0M443.0 61.2h0M442.9 40.1h0M443.2 23.4h0M443.4 24.7h0M443.3 36.5h0M443.5 46.0h0M443.7 31.2h0M443.7 39.5h0M443.3 38.3h0M443.5 28.9h0M443.6 71.5h0M444.2 27.0h0M443.8 45.0h0M443.8 63.8h0M444.0 27.3h0M444.1 37.9h0M444.1 64.2h0M444.4 34.8h0M444.7 38.5h0M444.3 26.8h0M444.6 52.5h0M444.3 64.5h0M444.4 66.3h0M444.7 65.9h0M444.6 46.6h0M444.5 31.9h0M444.4 52.7h0M444.3 76.1h0M445.0 57.7h0M444.8 57.0h0M444.8 49.5h0M444.9 30.4h0M444.9 47.7h0M445.1 45.2h0M444.9 71.1h0M444.9 48.8h0M444.9 34.0h0M444.9 50.1h0M445.1 57.8h0M445.3 51.0h0M445.6 56.5h0M445.4 48.9h0M445.4 73.9h0M446.2 68.7h0M446.0 70.7h0M446.1 57.0h0M446.0 45.9h0M445.8 52.9h0M445.8 29.8h0M446.2 66.3h0M445.9 29.4h0M446.1 72.4h0M445.8 71.8h0M445.9 29.0h0M445.9 42.8h0M446.0 63.2h0M445.9 64.0h0M446.2 67.0h0M446.0 51.1h0M445.9 71.1h0M445.8 42.0h0M445.9 49.7h0M446.7 61.0h0M446.3 43.9h0M446.4 35.5h0M446.4 44.4h0M446.7 26.7h0M446.5 70.1h0M446.3 51.1h0M446.3 65.3h0M446.4 61.4h0M446.5 75.7h0M447.0 53.6h0M447.0 65.6h0M447.1 34.3h0M447.6 46.5h0M447.7 34.5h0M447.3 54.7h0M447.3 64.0h0M447.7 55.0h0M447.4 29.6h0M447.4 30.0h0M447.3 75.7h0M447.8 38.3h0M448.1 45.2h0M448.1 61.4h0M448.0 30.5h0M448.0 36.3h0M448.1 49.7h0M448.2 52.3h0M448.1 27.4h0M448.7 61.6h0M448.7 43.3h0M448.6 25.6h0M448.4 24.3h0M448.7 41.7h0M448.3 64.6h0M448.3 58.5h0M448.7 48.7h0M448.6 66.0h0M448.4 52.0h0M448.4 66.4h0M448.6 69.7h0M448.3 62.6h0M448.7 58.4h0M448.7 44.9h0M448.6 66.4h0M449.1 66.9h0M449.6 46.2h0M449.6 44.5h0M449.6 69.0h0M449.4 33.0h0M449.3 45.6h0M449.5 46.4h0M449.7 38.1h0M449.3 47.9h0M449.5 47.4h0M450.1 46.4h0M450.2 26.2h0M450.2 29.0h0M450.0 66.1h0M450.0 39.6h0M449.8 34.3h0M449.9 58.9h0M450.1 61.0h0M449.8 56.5h0M450.5 38.4h0M450.6 37.1h0M450.4 63.3h0M450.4 31.7h0M450.6 30.6h0M450.6 38.5h0M450.8 47.2h0M451.2 35.2h0M450.8 44.0h0M450.8 41.3h0M450.9 46.4h0M451.2 28.9h0M451.1 49.6h0M451.3 31.5h0M451.6 44.6h0M451.4 40.3h0M451.3 42.9h0M451.7 52.0h0M452.2 28.3h0M451.8 53.5h0M452.1 25.8h0M452.1 60.6h0M451.8 40.2h0M452.2 28.7h0M452.1 23.8h0M452.2 24.7h0M452.2 64.2h0M452.0 51.0h0M452.0 67.7h0M452.4 27.7h0M452.3 66.0h0M452.6 47.8h0M452.6 52.0h0M452.9 58.7h0M453.0 54.5h0M453.0 32.2h0M453.0 60.3h0M453.0 24.3h0M453.2 47.1h0M453.4 63.7h0M453.4 26.4h0M453.4 47.6h0M453.6 56.6h0M453.6 41.8h0M453.4 25.2h0M453.3 31.9h0M453.6 42.5h0M454.0 30.1h0M453.9 32.8h0M454.2 28.3h0M454.0 58.8h0M454.2 62.7h0M454.2 51.4h0M454.5 48.4h0M454.3 47.6h0M454.6 25.9h0M454.5 32.6h0M454.6 66.5h0M454.9 49.4h0M455.2 32.2h0M454.8 45.6h0M454.9 42.9h0M454.8 31.0h0M455.6 31.1h0M455.4 39.0h0M455.7 50.4h0M455.7 59.8h0M455.7 24.8h0M455.4 49.8h0M455.7 48.8h0M456.1 58.2h0M456.1 24.1h0M456.2 51.2h0M455.9 46.8h0M456.5 46.1h0M456.4 44.0h0M456.3 51.5h0M457.2 53.6h0M457.2 29.6h0M457.0 44.6h0M456.9 21.4h0M456.9 64.0h0M457.4 26.0h0M457.6 24.9h0M457.4 41.1h0M457.4 39.1h0M457.3 48.6h0M457.9 42.5h0M457.9 28.0h0M458.0 36.4h0M457.9 37.9h0M457.9 41.0h0M457.9 26.1h0M458.2 30.5h0M458.1 52.7h0M458.3 31.9h0M458.5 40.3h0M458.5 53.8h0M458.4 52.1h0M458.6 39.7h0M459.1 39.7h0M459.0 45.5h0M459.2 28.2h0M459.2 28.7h0M459.2 28.2h0M459.0 36.4h0M459.3 28.8h0M459.4 25.1h0M459.3 30.1h0M460.1 40.6h0M460.0 40.5h0M460.2 24.8h0M460.3 23.9h0M460.7 29.6h0M460.3 43.3h0M460.7 33.8h0M460.4 48.4h0M461.0 36.3h0M461.0 48.2h0M461.5 39.0h0M461.4 33.0h0M461.9 26.8h0M461.8 29.1h0M461.8 32.0h0M462.0 24.7h0M462.0 42.5h0M461.9 31.5h0M462.1 27.2h0M462.0 29.2h0M461.9 26.3h0M462.1 40.1h0M462.6 39.9h0M462.7 44.8h0M462.5 28.7h0M462.5 53.7h0M462.9 29.8h0M463.5 35.2h0M463.7 27.9h0M463.5 38.4h0M463.7 30.0h0M463.3 41.0h0M463.5 51.6h0M463.8 28.1h0M463.8 36.6h0M464.6 41.9h0M464.7 37.0h0M464.3 40.0h0M464.8 44.5h0M465.1 45.3h0M464.9 31.8h0M465.2 37.1h0M465.2 31.2h0M465.5 28.7h0M465.8 42.5h0M465.8 38.6h0M466.2 35.1h0M466.1 53.4h0M467.0 43.4h0M467.7 27.2h0M467.6 43.6h0M467.6 24.2h0M467.9 35.3h0M467.8 38.8h0M469.6 24.5h0M470.1 37.8h0M470.2 44.0h0M469.9 46.6h0M471.2 27.9h0M471.1 28.8h0M471.9 36.9h0M472.7 33.5h0M472.6 30.4h0M473.5 30.0h0M473.7 26.9h0M474.1 40.9h0M474.9 26.5h0M474.9 36.7h0M475.2 30.5h0M475.2 34.3h0M475.4 27.3h0M475.8 25.8h0M476.2 32.5h0M476.2 32.2h0M476.1 26.7h0M476.7 30.1h0M476.3 40.6h0M476.3 33.3h0M476.9 31.8h0M476.8 38.0h0M476.9 31.9h0M477.7 34.9h0M477.3 39.9h0M478.0 41.3h0M478.8 42.6h0M478.8 34.9h0M478.9 40.5h0M479.7 30.2h0M479.9 27.0h0M480.4 42.8h0M481.2 27.3h0M480.8 38.3h0M481.4 34.9h0M481.3 30.4h0M482.1 38.8h0M481.9 31.2h0M482.6 38.8h0M483.1 32.6h0M483.0 31.3h0M483.2 30.1h0M483.3 43.1h0M483.8 39.5h0M484.6 30.2h0M484.4 38.7h0M485.0 28.2h0M485.7 28.7h0M485.4 28.8h0M485.9 27.4h0M486.0 37.2h0M486.6 34.7h0M486.8 36.4h0M487.3 34.2h0M487.3 43.2h0M488.3 38.8h0M488.7 28.1h0M490.1 38.2h0M490.2 46.9h0M490.4 34.0h0M490.5 26.0h0M490.4 25.4h0M490.7 28.6h0M490.6 31.6h0M491.1 28.8h0M490.8 25.1h0M491.6 39.1h0M491.3 29.0h0M491.5 37.6h0M492.0 41.0h0M492.2 41.6h0M491.9 26.1h0M492.4 37.0h0M492.7 42.1h0M493.6 27.5h0M493.7 37.8h0M493.5 42.5h0M493.8 32.2h0M494.1 30.9h0M494.4 41.4h0M494.3 37.5h0M494.8 33.4h0M495.1 38.9h0M495.6 31.0h0M495.5 33.5h0M495.6 37.2h0M495.5 45.2h0M495.9 27.2h0M495.8 30.7h0M496.0 26.8h0M496.5 39.9h0M496.9 39.7h0M497.4 31.4h0M498.2 27.7h0M498.7 32.1h0M498.5 37.0h0M498.7 36.8h0M499.1 40.4h0M499.7 28.4h0M500.2 26.6h0M499.9 41.7h0M500.4 29.8h0M500.7 26.6h0M500.4 28.8h0M500.8 36.0h0M501.1 32.6h0M500.8 31.3h0M501.4 25.2h0M501.6 37.6h0M501.6 35.3h0M501.5 28.8h0M502.3 37.4h0M502.9 39.3h0M503.0 27.4h0M503.7 38.7h0M503.6 33.8h0M503.5 28.9h0M504.2 39.9h0M503.8 41.1h0M504.5 26.4h0M504.7 41.2h0M505.0 25.4h0M504.8 29.1h0M504.8 38.3h0M505.5 33.1h0M505.6 33.1h0M506.0 36.4h0M506.1 33.5h0M506.4 36.6h0M506.8 25.3h0M507.1 32.0h0M507.4 30.3h0M507.3 24.7h0M507.5 37.2h0M507.3 37.8h0M508.1 35.2h0M508.3 32.3h0M508.6 44.0h0M509.1 30.1h0M508.9 28.5h0M509.3 29.9h0M509.6 35.4h0M509.6 36.0h0M509.6 35.6h0M509.8 33.1h0M509.8 30.6h0M510.1 32.5h0M511.2 28.6h0M511.5 34.0h0M512.0 36.3h0M512.4 34.6h0M512.5 31.5h0M512.4 28.1h0M512.7 25.3h0M513.3 39.6h0M513.9 36.6h0M514.2 31.6h0M514.1 26.1h0M514.7 24.1h0M514.9 26.5h0M515.3 40.9h0M515.8 40.2h0M516.5 23.9h0M516.5 32.3h0M517.5 31.4h0M518.2 26.0h0M518.5 33.4h0M518.3 24.7h0M519.4 25.0h0M519.9 26.0h0M519.9 25.8h0M520.7 26.6h0M520.6 23.0h0M520.9 24.2h0M521.0 24.7h0M521.0 23.7h0M522.5 23.5h0M67.5 120.2h0M475.5 11.1h0M364.5 28.5h0M389.5 90.5h0M387.0 92.5h0M465.0 64.5h0M486.5 48.5h0" stroke="#000" stroke-width="5.2" stroke-linecap="round" fill="none"/><line x1="67.5" y1="120.6" x2="522.7" y2="30.0" stroke="#f00" stroke-width="2.4"/><path d="M44.9 5.0V129.8H546.3" fill="none" stroke="#262626" stroke-width="1.1"/><path d="M46.1 129.8v2.0M55.7 129.8v3.5M118.6 129.8v2.0M155.5 129.8v2.0M181.6 129.8v2.0M201.9 129.8v2.0M218.4 129.8v2.0M232.4 129.8v2.0M244.5 129.8v2.0M255.2 129.8v2.0M264.8 129.8v3.5M327.7 129.8v2.0M364.6 129.8v2.0M390.7 129.8v2.0M411.0 129.8v2.0M427.5 129.8v2.0M441.5 129.8v2.0M453.6 129.8v2.0M464.3 129.8v2.0M473.9 129.8v3.5M536.8 129.8v2.0M44.9 127.4h-2.0M44.9 124.2h-2.0M44.9 121.6h-2.0M44.9 119.3h-2.0M44.9 117.4h-2.0M44.9 115.7h-2.0M44.9 114.2h-3.5M44.9 104.2h-2.0M44.9 98.4h-2.0M44.9 94.2h-2.0M44.9 91.0h-2.0M44.9 88.4h-2.0M44.9 86.2h-2.0M44.9 84.3h-2.0M44.9 82.6h-2.0M44.9 81.0h-3.5M44.9 71.1h-2.0M44.9 65.2h-2.0M44.9 61.1h-2.0M44.9 57.9h-2.0M44.9 55.2h-2.0M44.9 53.0h-2.0M44.9 51.1h-2.0M44.9 49.4h-2.0M44.9 47.9h-3.5M44.9 37.9h-2.0M44.9 32.0h-2.0M44.9 27.9h-2.0M44.9 24.7h-2.0M44.9 22.1h-2.0M44.9 19.8h-2.0M44.9 17.9h-2.0M44.9 16.2h-2.0M44.9 14.7h-3.5" stroke="#262626" stroke-width="0.8" fill="none"/><text x="55.9" y="145.7" text-anchor="middle" class="tk">10<tspan class="sup" dy="-3.1">1</tspan></text><text x="265.0" y="145.7" text-anchor="middle" class="tk">10<tspan class="sup" dy="-3.1">2</tspan></text><text x="474.1" y="145.7" text-anchor="middle" class="tk">10<tspan class="sup" dy="-3.1">3</tspan></text><text x="35.7" y="117.6" text-anchor="end" class="tk">10<tspan class="sup" dy="-3.1">2</tspan></text><text x="35.7" y="84.4" text-anchor="end" class="tk">10<tspan class="sup" dy="-3.1">3</tspan></text><text x="35.7" y="51.3" text-anchor="end" class="tk">10<tspan class="sup" dy="-3.1">4</tspan></text><text x="35.7" y="18.1" text-anchor="end" class="tk">10<tspan class="sup" dy="-3.1">5</tspan></text><text transform="translate(15.3 67.9) rotate(-90)" text-anchor="middle" class="yl">Shelterbelt Area (<tspan class="mi">m</tspan><tspan class="ysup" dx="0.3" dy="-4.1">2</tspan><tspan dy="4.1">)</tspan></text><text x="55.1" y="24.6" class="pl">a.</text><text x="75.8" y="26.0" class="eq">Log(y) = 1.112 + 1.254*Log(x)</text><text x="74.8" y="37.8" class="r2"><tspan font-style="italic">R</tspan><tspan class="rsup" dx="0.9" dy="-4.2">2</tspan><tspan dx="0.5" dy="4.2">=0.759</tspan></text><line x1="348.6" y1="117.6" x2="367.6" y2="117.6" stroke="#f00" stroke-width="2.3"/><text x="373.3" y="120.8" class="lg">Log-Log Fit</text><circle cx="447.6" cy="118.2" r="2.6" fill="#000"/><text x="463.3" y="120.9" class="lg">1962 Shelterbelts</text></g>
<g><path d="M69.3 271.8h0M75.5 268.8h0M78.0 267.3h0M78.8 269.0h0M79.8 266.6h0M81.4 265.1h0M82.6 265.0h0M83.4 266.2h0M85.3 268.6h0M87.7 264.2h0M90.4 263.9h0M91.0 264.3h0M91.1 261.8h0M93.0 267.1h0M94.1 261.8h0M94.0 268.3h0M94.3 263.8h0M95.4 263.6h0M96.3 264.9h0M103.3 265.0h0M103.8 268.0h0M104.1 259.7h0M105.7 267.3h0M106.3 262.5h0M109.6 260.8h0M110.0 265.9h0M111.4 264.1h0M113.2 266.9h0M112.9 265.3h0M113.8 268.6h0M114.5 267.2h0M117.0 268.6h0M116.8 268.5h0M118.5 268.1h0M119.5 262.6h0M120.8 255.5h0M122.2 262.9h0M123.9 258.0h0M124.5 266.0h0M124.7 255.0h0M127.8 260.7h0M128.7 269.0h0M128.8 262.7h0M129.5 254.5h0M129.7 267.9h0M129.9 255.5h0M130.6 261.2h0M131.0 254.9h0M131.3 262.7h0M133.2 268.8h0M136.3 261.9h0M137.1 250.7h0M137.3 252.7h0M138.3 261.3h0M140.1 268.7h0M140.4 267.3h0M140.8 253.4h0M141.0 263.2h0M141.0 259.7h0M142.4 266.0h0M142.4 249.6h0M144.4 250.7h0M145.4 262.7h0M146.3 251.9h0M146.6 263.2h0M146.8 267.1h0M147.4 255.2h0M148.2 266.2h0M149.8 260.9h0M150.1 250.5h0M150.5 254.3h0M150.6 260.7h0M151.9 252.4h0M153.2 264.2h0M153.0 262.8h0M153.4 246.7h0M154.2 269.2h0M154.2 268.7h0M156.1 256.5h0M156.5 247.8h0M158.3 246.4h0M159.2 250.8h0M159.0 261.6h0M159.1 251.0h0M160.2 255.8h0M159.8 257.8h0M160.0 261.9h0M160.1 245.6h0M160.1 267.5h0M160.7 255.4h0M160.7 252.5h0M160.6 265.7h0M160.8 258.2h0M161.2 261.6h0M162.1 251.0h0M162.8 250.9h0M163.3 266.6h0M164.7 253.6h0M164.4 256.4h0M164.3 243.7h0M164.4 258.9h0M164.6 268.4h0M164.7 268.0h0M164.8 263.2h0M164.9 264.0h0M165.9 251.0h0M166.5 258.9h0M168.8 244.5h0M168.9 246.6h0M169.3 243.6h0M169.5 251.8h0M170.7 244.6h0M170.3 257.3h0M171.1 249.9h0M170.9 245.7h0M170.8 265.4h0M171.1 262.5h0M170.9 253.1h0M171.6 244.7h0M171.5 244.3h0M171.5 256.5h0M171.4 251.1h0M171.8 249.0h0M172.4 248.7h0M172.6 249.6h0M172.7 251.3h0M173.2 250.2h0M174.2 248.2h0M175.7 257.1h0M176.1 267.0h0M176.1 252.7h0M176.5 266.0h0M176.4 263.9h0M176.5 246.2h0M177.4 262.5h0M177.8 266.7h0M178.1 256.3h0M178.4 242.7h0M181.2 241.0h0M180.9 240.5h0M181.3 241.0h0M182.1 244.8h0M182.5 255.7h0M183.7 245.5h0M183.5 253.9h0M184.1 254.9h0M184.0 256.6h0M184.3 251.6h0M185.4 237.4h0M186.3 266.4h0M187.0 246.3h0M187.6 243.2h0M187.3 242.7h0M187.8 254.1h0M187.8 251.4h0M188.4 265.8h0M188.9 237.5h0M189.0 233.4h0M189.5 266.9h0M189.3 243.2h0M190.1 246.8h0M189.8 254.6h0M190.0 243.3h0M190.4 265.4h0M191.2 262.6h0M191.6 254.4h0M191.7 243.4h0M191.7 239.8h0M191.7 267.1h0M191.8 240.7h0M192.2 260.3h0M192.0 258.7h0M192.2 242.5h0M192.3 237.5h0M194.7 257.9h0M194.8 261.7h0M195.0 254.1h0M195.4 256.9h0M195.9 245.4h0M196.7 259.5h0M197.0 233.5h0M197.5 247.7h0M197.7 257.3h0M197.9 263.4h0M198.2 242.9h0M198.6 254.6h0M198.6 249.5h0M198.5 237.1h0M199.2 255.7h0M198.8 257.4h0M198.9 232.8h0M199.4 237.0h0M200.1 242.4h0M200.2 252.8h0M200.8 256.5h0M201.2 261.6h0M201.0 259.2h0M202.0 264.6h0M201.9 243.4h0M202.5 243.1h0M202.4 245.5h0M203.2 248.8h0M202.9 263.3h0M203.9 240.5h0M204.4 262.5h0M204.5 241.0h0M204.9 248.7h0M204.9 237.7h0M204.8 237.2h0M205.4 253.9h0M206.1 257.3h0M206.0 235.9h0M206.5 261.5h0M206.3 232.1h0M206.8 234.2h0M207.2 227.5h0M207.4 248.8h0M208.1 248.0h0M207.9 241.9h0M207.9 258.5h0M208.6 257.8h0M209.0 261.1h0M208.9 254.5h0M209.5 259.9h0M209.6 244.0h0M209.9 231.0h0M210.1 256.6h0M209.8 228.3h0M210.7 258.2h0M210.3 252.0h0M210.6 259.2h0M210.9 239.9h0M211.3 239.8h0M211.7 249.3h0M211.6 248.3h0M211.8 259.4h0M211.9 236.2h0M211.8 248.6h0M211.8 254.8h0M211.9 252.7h0M212.2 250.7h0M212.3 257.6h0M212.6 227.0h0M212.5 246.7h0M212.9 237.1h0M213.2 249.1h0M213.6 256.4h0M213.9 252.2h0M213.8 263.8h0M214.6 252.1h0M215.1 234.4h0M215.7 236.8h0M215.6 241.3h0M216.1 249.4h0M216.2 238.6h0M215.9 260.5h0M216.7 251.1h0M216.6 234.0h0M217.1 255.0h0M217.0 225.9h0M217.0 231.9h0M217.3 233.4h0M217.5 244.2h0M217.4 227.5h0M217.4 229.6h0M218.0 242.8h0M217.8 257.2h0M218.5 231.9h0M218.4 240.0h0M218.8 224.1h0M219.2 224.9h0M219.3 245.6h0M219.3 243.2h0M219.6 226.8h0M219.8 244.1h0M220.3 241.5h0M220.6 248.6h0M221.6 237.6h0M221.3 255.6h0M222.0 226.7h0M222.2 236.7h0M222.0 247.7h0M222.1 255.5h0M222.9 252.9h0M223.7 222.1h0M223.7 235.3h0M223.4 237.1h0M223.4 250.0h0M223.7 246.2h0M224.7 251.2h0M224.9 235.4h0M225.6 253.0h0M226.6 229.8h0M226.4 235.8h0M226.9 252.9h0M227.7 239.5h0M227.3 228.5h0M227.8 220.9h0M228.6 228.8h0M228.5 245.2h0M228.4 225.3h0M228.7 234.2h0M228.3 229.7h0M228.4 247.5h0M228.6 254.4h0M229.7 234.7h0M229.6 233.6h0M230.4 238.0h0M231.0 229.0h0M231.1 234.6h0M231.6 230.1h0M231.3 233.2h0M232.3 239.1h0M233.2 229.8h0M233.6 243.1h0M233.7 228.4h0M234.0 223.1h0M234.1 226.7h0M234.0 218.6h0M233.9 236.1h0M234.6 235.1h0M235.2 228.2h0M235.3 251.1h0M236.0 235.6h0M236.1 230.6h0M236.0 220.8h0M236.7 221.6h0M237.2 245.4h0M237.7 220.6h0M238.1 239.7h0M239.0 227.9h0M239.6 230.8h0M239.4 253.0h0M240.4 228.1h0M240.3 229.1h0M240.5 240.6h0M241.0 228.4h0M241.7 226.0h0M241.7 245.2h0M242.1 232.6h0M241.8 218.0h0M241.9 237.4h0M241.9 224.6h0M242.2 219.8h0M242.8 237.5h0M243.4 230.1h0M243.4 227.5h0M244.1 232.6h0M244.1 240.5h0M243.9 227.0h0M244.1 221.3h0M243.9 243.6h0M244.5 240.1h0M244.5 239.9h0M244.6 217.0h0M244.7 251.3h0M244.9 220.7h0M245.6 221.2h0M246.0 230.1h0M246.3 237.1h0M246.7 231.7h0M246.5 239.5h0M247.2 227.7h0M247.1 225.1h0M247.5 234.8h0M248.1 225.6h0M248.2 234.7h0M248.0 217.8h0M248.3 246.2h0M249.2 234.8h0M249.0 215.2h0M248.9 217.6h0M249.6 221.6h0M249.3 221.4h0M249.8 222.3h0M250.6 216.5h0M250.6 234.7h0M250.6 216.7h0M250.5 253.2h0M250.9 230.6h0M250.8 222.7h0M250.8 245.8h0M252.0 232.7h0M252.3 226.9h0M252.6 241.2h0M253.5 220.1h0M253.5 227.2h0M253.9 212.8h0M254.6 225.7h0M254.4 218.3h0M254.4 228.7h0M255.7 226.3h0M255.7 233.6h0M255.4 234.4h0M256.0 217.7h0M256.6 226.7h0M257.2 229.3h0M257.1 249.2h0M257.4 231.9h0M258.3 220.0h0M258.5 222.0h0M259.1 228.8h0M259.1 221.6h0M259.7 213.0h0M259.3 223.1h0M259.5 216.0h0M259.5 242.2h0M259.9 225.8h0M260.2 228.1h0M260.4 228.4h0M260.9 217.3h0M260.8 225.9h0M261.3 222.3h0M261.5 212.2h0M261.4 247.0h0M262.0 221.8h0M262.6 212.0h0M263.6 230.8h0M263.4 212.9h0M263.8 218.0h0M264.0 214.9h0M263.9 233.9h0M264.6 222.5h0M264.7 211.0h0M264.9 213.5h0M265.0 219.7h0M265.6 227.3h0M265.4 211.9h0M265.7 233.9h0M266.2 215.6h0M265.9 215.2h0M266.1 208.1h0M266.7 211.6h0M266.3 234.3h0M266.9 224.0h0M267.2 220.9h0M266.8 213.5h0M266.9 235.0h0M266.9 234.6h0M267.7 222.2h0M267.3 218.8h0M268.0 229.4h0M268.1 240.2h0M268.5 209.9h0M268.7 219.1h0M268.9 220.5h0M269.2 209.4h0M269.1 227.1h0M269.3 225.9h0M269.5 214.9h0M269.8 214.7h0M269.9 211.9h0M270.5 220.8h0M270.6 217.7h0M270.6 243.8h0M270.6 235.9h0M271.1 224.7h0M271.3 225.3h0M271.7 220.5h0M271.7 223.4h0M271.3 247.0h0M272.2 232.8h0M272.4 224.4h0M272.3 224.9h0M272.7 210.2h0M272.6 208.4h0M273.0 217.4h0M272.8 248.0h0M273.5 228.2h0M274.0 243.7h0M275.1 215.8h0M275.0 236.3h0M275.4 224.5h0M275.3 228.7h0M275.6 215.8h0M275.9 208.3h0M275.8 236.9h0M276.5 212.5h0M276.7 219.4h0M276.6 232.3h0M276.8 217.0h0M277.2 226.5h0M277.0 235.7h0M277.6 224.3h0M277.3 220.5h0M277.3 225.1h0M277.6 227.3h0M278.2 210.5h0M278.5 209.8h0M278.8 228.3h0M278.9 215.1h0M279.7 211.8h0M279.6 218.7h0M279.6 213.7h0M279.7 238.3h0M280.1 213.8h0M280.2 211.0h0M280.5 206.8h0M280.4 206.2h0M280.6 225.8h0M281.1 206.8h0M280.9 209.3h0M281.0 209.7h0M280.8 215.3h0M281.0 241.7h0M281.6 202.5h0M282.2 210.7h0M281.8 219.1h0M282.2 206.8h0M281.8 220.5h0M282.4 213.0h0M282.6 211.9h0M282.6 230.6h0M282.9 206.6h0M282.9 218.4h0M282.9 208.1h0M282.9 224.2h0M283.3 223.9h0M283.8 220.4h0M284.5 209.2h0M284.4 228.9h0M285.0 210.8h0M285.0 221.8h0M284.8 216.9h0M285.0 213.0h0M285.2 212.2h0M285.7 219.4h0M285.9 214.4h0M286.1 213.7h0M285.8 216.1h0M285.8 209.3h0M285.8 232.8h0M287.1 225.5h0M287.1 225.9h0M286.9 245.2h0M287.2 241.1h0M288.2 226.2h0M287.8 225.7h0M288.4 212.2h0M288.3 212.1h0M289.1 221.8h0M289.2 212.3h0M289.2 216.2h0M289.3 206.6h0M289.5 214.0h0M289.7 216.8h0M289.3 210.0h0M289.5 241.6h0M290.1 218.2h0M290.0 201.5h0M290.3 211.1h0M290.5 206.8h0M291.2 223.1h0M290.9 202.7h0M291.0 206.5h0M291.5 223.5h0M291.4 214.4h0M291.4 218.4h0M292.0 217.1h0M291.8 226.0h0M292.1 220.3h0M292.2 216.0h0M292.2 211.1h0M292.0 198.5h0M292.4 206.3h0M292.3 216.1h0M292.3 218.2h0M292.7 224.1h0M293.1 212.9h0M293.4 222.9h0M293.3 211.4h0M293.6 238.9h0M293.5 225.8h0M294.1 202.8h0M294.2 213.3h0M293.9 202.5h0M294.2 221.7h0M293.8 220.2h0M293.8 218.4h0M294.1 232.1h0M294.4 208.5h0M294.6 224.8h0M294.4 217.3h0M294.5 222.7h0M294.3 216.5h0M294.7 224.8h0M294.8 202.3h0M294.8 203.8h0M294.9 208.4h0M295.2 220.8h0M295.6 201.7h0M295.3 205.9h0M295.5 215.4h0M295.7 222.7h0M295.7 209.4h0M295.4 225.5h0M295.7 229.8h0M296.1 215.2h0M295.9 219.7h0M295.8 207.5h0M295.9 213.9h0M296.2 209.9h0M296.1 211.8h0M296.2 249.2h0M296.0 234.7h0M296.6 219.8h0M296.6 199.7h0M297.1 223.6h0M297.6 218.1h0M297.4 224.7h0M297.6 214.8h0M298.0 203.8h0M297.9 209.0h0M298.1 213.6h0M297.8 207.9h0M297.9 209.7h0M297.8 237.5h0M298.0 232.7h0M298.1 245.9h0M298.3 218.8h0M298.3 212.8h0M298.7 228.2h0M298.8 197.7h0M298.9 247.4h0M299.2 228.0h0M299.7 203.6h0M299.3 206.0h0M299.5 217.1h0M299.5 228.2h0M299.9 204.3h0M300.2 201.0h0M299.9 209.9h0M299.8 222.8h0M300.1 213.5h0M300.4 221.3h0M300.6 204.3h0M300.3 201.0h0M300.4 200.1h0M300.7 229.1h0M300.4 234.0h0M300.4 229.1h0M301.2 205.9h0M301.0 222.2h0M301.1 220.9h0M301.1 209.5h0M301.1 208.7h0M301.0 205.4h0M301.0 211.2h0M301.3 201.8h0M301.7 207.1h0M301.7 212.9h0M301.5 213.3h0M302.2 213.1h0M301.9 219.0h0M301.9 217.6h0M302.1 207.2h0M302.6 196.4h0M303.1 200.8h0M302.9 203.7h0M303.0 215.1h0M302.9 223.0h0M302.9 200.2h0M303.1 202.6h0M303.4 219.2h0M303.4 214.0h0M303.4 202.8h0M303.9 219.7h0M303.9 207.8h0M304.1 205.8h0M304.0 199.6h0M303.8 243.5h0M304.6 208.9h0M304.7 225.2h0M304.8 216.9h0M305.2 208.2h0M305.0 207.1h0M305.1 211.6h0M304.9 221.5h0M304.8 220.0h0M305.2 201.8h0M304.8 228.1h0M305.7 215.0h0M305.3 200.9h0M305.4 205.3h0M305.4 206.1h0M305.6 195.8h0M305.8 219.3h0M306.2 217.6h0M306.5 201.1h0M306.3 220.5h0M306.5 215.7h0M306.4 211.1h0M306.3 224.5h0M307.1 210.3h0M307.3 203.2h0M307.5 210.8h0M307.6 223.3h0M307.6 196.7h0M307.6 224.8h0M308.2 211.7h0M308.0 223.0h0M308.0 212.5h0M307.8 203.1h0M308.5 207.8h0M308.3 217.6h0M308.7 217.2h0M308.3 229.3h0M308.4 228.1h0M309.0 202.2h0M309.0 215.0h0M308.8 213.2h0M309.2 211.7h0M308.9 203.8h0M309.0 208.4h0M308.9 229.3h0M308.8 225.2h0M309.5 204.8h0M309.7 222.1h0M309.3 216.3h0M309.6 238.2h0M309.3 224.0h0M309.9 219.0h0M309.8 205.0h0M309.8 208.9h0M310.1 222.1h0M310.6 213.1h0M310.5 213.9h0M310.3 234.7h0M310.9 218.9h0M311.1 207.3h0M311.1 202.5h0M310.8 230.1h0M311.3 202.1h0M311.3 218.0h0M311.4 207.8h0M311.6 222.2h0M311.3 212.8h0M311.5 202.7h0M311.3 236.0h0M312.0 212.3h0M312.1 221.5h0M312.0 218.5h0M312.0 209.4h0M312.2 205.2h0M311.9 211.7h0M311.8 202.2h0M312.0 214.0h0M312.2 197.9h0M312.6 212.7h0M312.4 215.9h0M312.7 212.4h0M312.6 208.2h0M312.7 207.6h0M312.6 212.8h0M312.6 230.5h0M312.6 226.1h0M312.8 218.2h0M313.1 203.8h0M312.9 210.0h0M313.1 216.9h0M313.0 204.1h0M313.1 201.1h0M312.8 207.2h0M313.5 202.2h0M313.7 220.8h0M313.6 200.1h0M313.6 226.2h0M313.9 209.7h0M314.0 204.1h0M314.0 200.5h0M314.7 208.3h0M314.3 208.2h0M314.4 218.0h0M314.4 197.3h0M314.8 201.8h0M314.8 211.3h0M315.1 219.9h0M314.8 209.9h0M315.1 207.9h0M315.8 206.0h0M316.0 210.1h0M315.8 218.1h0M315.8 208.9h0M316.0 208.3h0M316.2 225.4h0M316.4 219.8h0M316.5 204.6h0M316.4 217.4h0M316.6 217.9h0M316.9 205.9h0M316.8 200.9h0M317.6 212.8h0M317.5 204.0h0M317.5 198.0h0M317.6 216.6h0M317.6 235.2h0M318.2 201.9h0M317.9 217.2h0M318.2 207.1h0M318.1 228.4h0M318.5 211.6h0M318.5 206.9h0M318.6 202.1h0M318.7 206.6h0M318.5 233.1h0M319.2 198.6h0M319.2 217.3h0M319.1 201.6h0M319.2 211.7h0M318.9 213.0h0M318.8 214.5h0M319.6 213.3h0M319.8 205.9h0M320.0 197.8h0M319.8 217.5h0M320.2 207.7h0M320.1 214.4h0M320.7 217.4h0M320.6 218.8h0M320.6 201.1h0M320.4 196.5h0M320.7 238.5h0M321.0 214.8h0M321.1 201.8h0M321.0 214.8h0M321.2 202.2h0M321.0 198.1h0M320.8 206.0h0M321.5 206.5h0M321.6 206.5h0M321.5 206.6h0M322.1 217.3h0M321.9 205.8h0M321.9 207.3h0M322.2 214.0h0M322.1 228.1h0M322.2 222.1h0M321.8 234.2h0M322.7 211.7h0M322.4 212.8h0M322.3 209.4h0M322.5 197.8h0M323.0 196.4h0M322.8 220.1h0M323.1 200.6h0M323.1 219.8h0M323.2 212.5h0M323.0 230.2h0M323.3 205.2h0M323.4 211.5h0M323.4 204.0h0M323.3 212.9h0M323.4 201.1h0M323.7 205.7h0M323.4 198.1h0M323.8 219.9h0M324.1 206.6h0M323.8 212.9h0M324.2 231.3h0M324.0 242.4h0M324.4 214.3h0M324.4 207.0h0M324.7 207.0h0M324.3 191.8h0M324.6 192.4h0M325.0 197.5h0M324.8 221.1h0M324.9 209.4h0M325.2 212.2h0M324.9 230.2h0M324.8 244.3h0M325.7 220.1h0M325.4 203.1h0M325.5 238.6h0M326.2 216.0h0M326.1 202.3h0M326.1 211.7h0M325.9 221.0h0M326.0 194.1h0M325.9 232.4h0M326.0 233.3h0M326.7 210.5h0M326.6 207.5h0M326.5 204.4h0M326.6 224.5h0M327.2 220.0h0M326.8 212.7h0M326.8 219.6h0M326.9 189.1h0M327.0 244.1h0M327.7 201.8h0M327.7 195.1h0M327.4 211.4h0M327.6 207.0h0M327.7 204.7h0M328.0 199.3h0M327.9 195.6h0M328.1 201.5h0M328.0 220.2h0M328.5 210.6h0M328.7 210.0h0M328.5 235.4h0M328.4 232.5h0M328.8 221.0h0M328.8 211.0h0M328.9 212.8h0M329.2 206.2h0M329.0 237.6h0M329.2 224.3h0M329.5 202.0h0M329.4 218.8h0M329.6 201.3h0M329.3 217.8h0M329.3 211.1h0M329.6 205.8h0M329.7 211.7h0M329.7 212.9h0M329.5 196.7h0M329.6 192.6h0M329.4 238.1h0M329.5 243.0h0M329.7 225.4h0M329.4 231.4h0M329.8 195.8h0M329.9 201.3h0M329.9 217.9h0M329.9 198.7h0M330.0 235.7h0M330.4 203.0h0M330.5 212.7h0M330.3 226.8h0M330.7 234.7h0M330.8 206.8h0M331.0 217.3h0M331.0 233.1h0M331.5 202.1h0M331.6 194.6h0M331.5 203.4h0M331.5 205.8h0M331.7 212.5h0M332.0 217.4h0M332.1 197.9h0M332.0 207.5h0M331.8 205.3h0M332.0 219.8h0M332.0 208.2h0M331.8 195.1h0M332.0 210.9h0M331.9 227.3h0M332.6 197.0h0M332.6 214.0h0M332.4 204.2h0M332.6 211.6h0M332.6 214.0h0M332.7 206.6h0M332.7 239.1h0M333.2 206.1h0M333.1 202.9h0M333.0 202.6h0M332.9 212.6h0M333.1 220.9h0M333.6 201.8h0M333.6 214.5h0M333.7 201.6h0M333.7 200.4h0M333.6 194.0h0M333.6 193.3h0M333.6 230.8h0M333.4 225.2h0M334.2 199.9h0M334.2 199.1h0M334.0 201.5h0M334.1 195.8h0M333.8 206.1h0M334.2 206.2h0M333.8 220.4h0M334.7 217.9h0M334.4 200.0h0M334.7 204.7h0M334.4 209.4h0M334.5 215.5h0M334.5 234.7h0M334.9 201.2h0M335.0 211.9h0M335.1 223.8h0M334.8 230.0h0M335.7 194.4h0M335.4 218.6h0M335.3 194.4h0M335.4 189.5h0M336.0 209.3h0M336.0 196.1h0M336.1 203.2h0M336.1 201.7h0M336.0 220.3h0M335.8 210.7h0M335.8 219.2h0M335.9 189.1h0M336.3 213.3h0M336.4 217.2h0M336.7 210.3h0M336.7 194.6h0M336.3 206.7h0M336.3 193.8h0M336.7 204.6h0M336.7 201.0h0M336.6 195.1h0M336.6 212.4h0M336.4 225.8h0M337.1 202.8h0M337.0 195.0h0M336.8 211.3h0M336.9 192.2h0M337.3 195.2h0M337.3 217.3h0M337.6 198.0h0M337.5 205.3h0M337.7 219.6h0M337.3 193.7h0M338.0 197.1h0M338.2 199.8h0M338.2 198.3h0M338.0 215.4h0M338.5 199.0h0M338.7 192.8h0M338.6 217.9h0M338.4 213.8h0M338.6 214.2h0M338.6 230.2h0M338.9 198.1h0M338.8 214.0h0M339.4 219.3h0M339.5 218.6h0M339.4 197.1h0M339.6 211.0h0M339.5 206.9h0M339.7 211.4h0M339.5 200.3h0M339.3 203.1h0M339.4 212.1h0M339.7 216.4h0M339.4 200.9h0M339.5 216.1h0M339.4 200.3h0M339.5 213.9h0M340.0 206.2h0M339.8 200.4h0M340.0 206.4h0M340.2 212.4h0M340.3 219.5h0M340.5 208.3h0M340.6 210.0h0M340.6 191.8h0M340.3 235.5h0M341.0 213.0h0M340.9 197.6h0M341.2 187.4h0M340.8 224.0h0M341.5 201.3h0M342.2 198.1h0M342.1 194.5h0M341.8 224.7h0M342.5 216.2h0M342.7 206.0h0M342.5 213.6h0M342.6 201.2h0M342.7 206.1h0M342.9 202.5h0M342.9 198.1h0M343.0 203.6h0M342.8 206.5h0M343.0 218.7h0M343.2 210.0h0M343.4 195.0h0M343.4 219.3h0M343.6 211.6h0M343.3 206.1h0M343.5 217.9h0M343.6 200.3h0M343.4 194.7h0M343.6 232.5h0M343.9 199.0h0M343.9 205.2h0M343.9 212.4h0M343.9 211.9h0M344.2 205.8h0M344.0 189.4h0M344.6 218.2h0M344.3 212.5h0M344.3 224.6h0M344.9 207.7h0M345.2 219.3h0M345.0 196.9h0M344.9 208.9h0M345.2 225.7h0M344.9 220.2h0M344.9 222.7h0M345.0 234.5h0M345.5 213.6h0M345.6 204.7h0M345.3 216.1h0M345.7 214.0h0M345.6 216.6h0M345.3 188.0h0M345.9 196.5h0M345.9 204.0h0M345.9 217.2h0M345.8 203.8h0M345.8 201.5h0M346.1 194.1h0M346.0 207.6h0M346.0 205.6h0M346.5 205.8h0M346.6 218.2h0M346.5 197.0h0M346.4 218.4h0M346.4 198.4h0M346.3 208.7h0M346.4 226.4h0M346.4 220.2h0M346.9 193.0h0M347.1 204.1h0M347.0 216.2h0M347.2 207.7h0M347.2 206.7h0M346.8 188.7h0M347.5 207.4h0M347.7 219.8h0M348.1 197.1h0M348.0 215.3h0M348.2 197.2h0M348.2 194.6h0M347.9 197.1h0M348.2 193.9h0M348.2 206.0h0M348.1 193.3h0M348.0 206.9h0M347.9 221.6h0M348.6 214.5h0M348.7 206.1h0M348.7 201.8h0M348.4 212.1h0M348.7 193.0h0M348.5 203.7h0M348.3 193.9h0M348.7 218.2h0M348.9 197.2h0M349.1 199.7h0M349.1 217.3h0M349.2 191.6h0M349.1 192.1h0M348.9 199.3h0M349.4 204.8h0M349.3 199.0h0M349.9 211.4h0M350.2 203.9h0M350.1 204.7h0M349.8 193.0h0M349.8 227.0h0M350.3 217.5h0M350.5 216.6h0M350.7 195.1h0M350.4 234.2h0M351.2 192.8h0M350.9 201.6h0M350.8 212.2h0M351.1 232.4h0M351.3 198.7h0M351.3 219.2h0M351.4 194.7h0M351.5 218.3h0M351.7 215.9h0M351.3 198.0h0M351.3 210.7h0M351.4 209.7h0M351.3 212.0h0M351.3 219.3h0M352.1 199.1h0M352.2 199.7h0M352.1 206.0h0M351.8 210.2h0M352.2 191.7h0M352.0 209.1h0M352.2 199.4h0M352.0 188.2h0M352.7 205.2h0M352.7 211.2h0M352.5 218.6h0M352.5 194.2h0M352.7 227.2h0M352.5 223.9h0M353.0 204.8h0M353.1 211.7h0M352.9 203.2h0M353.4 213.6h0M353.5 217.9h0M353.5 190.5h0M353.4 201.7h0M353.3 206.4h0M353.3 196.9h0M353.3 193.2h0M353.6 204.7h0M353.7 193.6h0M353.8 200.9h0M353.8 214.2h0M354.0 204.8h0M353.9 231.4h0M354.1 221.5h0M354.6 193.4h0M354.3 193.1h0M354.5 193.0h0M354.4 202.2h0M354.4 182.9h0M354.3 186.9h0M354.3 229.2h0M354.8 200.4h0M355.0 194.8h0M355.2 198.6h0M355.1 195.9h0M355.0 200.8h0M355.1 200.3h0M354.9 214.5h0M355.1 194.4h0M355.5 219.3h0M355.4 211.4h0M355.4 208.3h0M355.6 189.2h0M355.6 215.4h0M355.7 215.6h0M355.4 193.7h0M355.4 215.8h0M355.8 231.8h0M356.5 203.0h0M356.3 213.9h0M356.6 192.5h0M356.6 215.1h0M356.6 220.6h0M357.2 209.3h0M357.1 207.4h0M356.8 212.0h0M357.1 211.1h0M357.4 207.3h0M357.7 195.6h0M357.4 197.8h0M357.3 189.9h0M357.7 198.9h0M357.7 224.6h0M358.1 192.4h0M357.9 206.6h0M358.1 209.6h0M357.8 191.5h0M357.8 207.6h0M357.8 216.7h0M358.1 197.9h0M358.1 191.0h0M358.3 214.3h0M358.7 206.3h0M358.3 206.9h0M358.4 193.9h0M358.6 215.1h0M358.3 226.5h0M358.5 219.8h0M359.0 212.3h0M359.0 216.1h0M359.1 205.8h0M359.2 187.8h0M359.3 210.7h0M359.4 206.4h0M359.3 206.1h0M359.8 188.5h0M360.1 210.0h0M359.8 205.9h0M360.0 204.1h0M360.2 189.7h0M359.8 190.9h0M359.8 219.7h0M360.4 190.9h0M360.5 206.9h0M360.6 218.2h0M360.4 191.0h0M360.7 193.7h0M360.4 192.7h0M360.6 230.3h0M360.9 194.3h0M360.9 214.4h0M361.2 217.9h0M360.8 194.5h0M360.9 206.4h0M361.1 187.9h0M361.3 215.2h0M361.5 214.8h0M361.5 190.4h0M361.3 193.5h0M361.4 193.4h0M361.6 220.5h0M362.1 196.6h0M362.0 201.5h0M361.8 184.9h0M362.1 221.1h0M362.5 210.9h0M363.2 209.0h0M362.9 213.5h0M363.7 199.8h0M363.7 205.0h0M363.3 200.3h0M363.6 201.3h0M364.1 194.6h0M364.1 186.5h0M364.0 219.4h0M364.2 219.1h0M364.6 198.8h0M364.6 206.6h0M364.4 231.1h0M365.0 193.4h0M364.9 201.2h0M364.9 206.9h0M365.5 205.9h0M365.4 190.9h0M365.5 194.7h0M365.4 191.8h0M365.7 229.1h0M365.9 202.0h0M365.9 194.3h0M365.9 192.6h0M366.2 215.6h0M366.1 205.3h0M366.2 203.0h0M365.8 183.5h0M365.9 220.9h0M366.1 219.4h0M366.5 202.5h0M366.7 202.4h0M366.4 207.1h0M366.6 206.3h0M366.7 218.1h0M366.6 215.2h0M366.3 205.5h0M367.2 188.1h0M366.9 188.4h0M366.9 213.7h0M367.2 200.5h0M366.9 197.3h0M367.2 193.2h0M367.1 196.9h0M366.8 226.4h0M367.3 188.0h0M367.7 213.3h0M367.7 196.4h0M367.7 217.9h0M367.7 183.6h0M368.0 202.0h0M367.8 189.6h0M368.1 194.6h0M368.3 198.1h0M368.3 208.0h0M368.6 208.4h0M368.7 204.3h0M368.4 194.8h0M368.5 200.7h0M368.5 195.3h0M368.5 229.0h0M368.4 219.9h0M369.0 200.4h0M369.2 196.0h0M368.8 214.4h0M369.1 203.1h0M369.1 215.5h0M369.4 205.6h0M369.7 207.7h0M369.6 210.4h0M369.5 212.5h0M369.6 189.6h0M369.3 220.6h0M369.6 225.3h0M370.0 209.0h0M369.8 199.9h0M370.1 193.1h0M370.1 207.3h0M370.2 224.0h0M370.1 218.9h0M370.2 222.3h0M370.4 190.7h0M370.3 211.0h0M370.4 215.1h0M370.3 196.7h0M371.0 194.0h0M371.1 203.6h0M371.1 188.8h0M371.0 202.8h0M371.0 198.3h0M370.8 202.3h0M370.9 183.6h0M371.6 191.7h0M371.4 213.8h0M371.6 209.1h0M371.7 214.9h0M371.7 209.6h0M371.3 181.9h0M372.1 208.3h0M372.2 217.2h0M372.0 194.5h0M372.0 195.7h0M372.0 210.5h0M372.7 192.3h0M372.6 195.5h0M372.7 198.9h0M372.5 197.8h0M372.5 232.4h0M372.5 222.6h0M373.0 215.1h0M373.0 187.0h0M373.2 201.1h0M372.8 208.4h0M372.8 205.6h0M373.0 194.0h0M373.7 213.4h0M373.5 210.7h0M373.3 208.8h0M373.3 188.5h0M374.2 189.5h0M374.2 188.0h0M373.9 208.7h0M374.5 209.9h0M374.3 207.5h0M374.7 196.5h0M374.9 186.6h0M375.2 206.8h0M374.8 211.1h0M374.8 200.4h0M374.8 223.8h0M375.1 233.0h0M375.4 189.3h0M375.7 205.3h0M375.9 205.3h0M375.9 213.4h0M376.1 207.8h0M376.2 199.3h0M375.8 195.6h0M375.9 191.2h0M377.2 210.6h0M377.2 200.3h0M376.9 186.1h0M377.0 181.2h0M377.7 215.3h0M377.6 187.3h0M377.7 191.1h0M377.6 190.8h0M377.7 234.0h0M378.1 201.9h0M377.8 209.1h0M378.0 190.6h0M378.2 205.2h0M378.7 193.5h0M378.5 193.0h0M378.4 195.6h0M378.3 185.3h0M378.3 208.6h0M378.4 199.4h0M379.1 186.0h0M379.1 203.5h0M379.0 193.7h0M379.0 194.4h0M378.9 217.2h0M378.9 213.2h0M379.0 213.1h0M379.1 212.9h0M379.1 205.1h0M379.2 206.6h0M378.9 180.6h0M379.1 229.2h0M379.7 198.3h0M379.5 200.7h0M379.5 212.3h0M379.3 231.9h0M379.8 201.2h0M379.8 206.6h0M380.0 204.0h0M380.0 203.3h0M380.0 194.5h0M380.2 202.0h0M380.6 198.5h0M380.5 197.5h0M380.6 200.5h0M380.6 188.0h0M380.3 192.5h0M380.4 193.0h0M380.5 206.4h0M380.7 217.0h0M380.3 227.5h0M380.8 212.7h0M380.8 212.4h0M381.1 193.3h0M380.9 203.8h0M381.1 217.7h0M381.3 203.8h0M381.3 201.5h0M381.4 206.9h0M381.5 195.2h0M381.6 216.1h0M381.4 186.7h0M381.3 214.3h0M381.9 199.0h0M382.0 212.6h0M382.0 215.5h0M382.0 199.6h0M382.5 204.4h0M382.3 186.4h0M382.4 193.5h0M382.6 212.8h0M382.5 210.1h0M382.4 180.3h0M383.1 215.5h0M383.1 207.7h0M383.2 197.4h0M382.9 191.7h0M382.8 186.7h0M383.2 214.4h0M383.0 183.8h0M383.0 225.5h0M383.6 210.4h0M383.4 208.2h0M383.5 194.2h0M384.2 188.5h0M383.8 214.0h0M384.0 187.0h0M383.9 191.8h0M384.0 186.6h0M384.0 194.5h0M384.7 206.1h0M384.6 186.6h0M384.7 185.8h0M384.7 190.7h0M384.4 199.2h0M384.4 187.9h0M384.3 215.7h0M385.2 191.9h0M384.8 202.0h0M385.2 185.1h0M385.1 198.4h0M385.7 191.1h0M385.6 189.0h0M385.3 206.5h0M385.4 198.7h0M385.4 213.9h0M385.6 191.9h0M386.0 185.1h0M385.9 190.5h0M385.8 195.0h0M385.9 205.4h0M385.8 211.0h0M386.2 215.0h0M385.8 186.0h0M386.1 182.4h0M386.2 223.0h0M386.5 209.2h0M386.5 198.1h0M386.6 185.7h0M386.3 186.7h0M386.4 196.9h0M386.4 195.0h0M386.5 217.4h0M386.5 227.7h0M387.1 203.1h0M387.2 207.3h0M386.8 199.8h0M387.2 188.0h0M387.1 195.4h0M387.0 213.6h0M387.2 195.1h0M387.3 210.7h0M387.6 205.3h0M387.7 206.6h0M387.3 185.7h0M388.0 207.6h0M388.0 216.1h0M388.1 183.3h0M388.6 186.8h0M388.7 193.4h0M388.6 193.2h0M388.6 198.3h0M388.4 185.6h0M388.7 198.7h0M388.4 208.6h0M388.5 219.3h0M388.5 228.3h0M388.9 195.2h0M388.8 192.9h0M389.2 196.0h0M389.0 199.9h0M389.0 176.2h0M389.6 194.4h0M389.4 213.0h0M389.5 214.3h0M389.7 183.9h0M389.5 182.5h0M389.5 218.4h0M390.2 187.7h0M389.8 202.0h0M390.2 210.9h0M390.0 195.5h0M390.1 186.4h0M390.4 210.4h0M390.6 191.7h0M390.3 205.7h0M390.3 181.5h0M390.4 174.7h0M391.1 199.1h0M391.2 195.5h0M391.0 219.4h0M391.5 194.6h0M391.6 197.0h0M391.4 182.9h0M391.7 211.7h0M391.5 204.1h0M391.5 194.4h0M392.1 206.7h0M392.2 188.5h0M392.0 203.2h0M392.1 198.2h0M392.1 220.0h0M392.3 184.5h0M392.3 194.9h0M392.3 188.3h0M392.6 186.7h0M392.5 201.7h0M392.7 193.3h0M392.3 209.2h0M392.6 215.9h0M393.2 185.8h0M393.0 188.3h0M393.0 188.1h0M393.3 185.4h0M393.4 183.0h0M393.3 195.4h0M393.3 214.7h0M393.7 206.4h0M393.4 203.1h0M393.7 223.0h0M393.3 225.8h0M394.0 213.1h0M394.1 189.3h0M393.9 210.6h0M394.1 190.7h0M394.0 193.3h0M394.2 184.1h0M393.8 215.4h0M394.3 182.6h0M394.5 201.2h0M394.3 182.5h0M394.3 185.3h0M394.3 190.4h0M395.0 183.9h0M395.0 218.8h0M395.5 188.3h0M395.6 186.5h0M395.8 200.6h0M396.0 201.0h0M396.0 201.7h0M395.9 214.5h0M395.9 189.9h0M396.7 193.2h0M396.7 202.1h0M396.5 190.6h0M396.6 188.5h0M396.3 192.0h0M396.6 205.7h0M396.3 212.4h0M396.4 211.1h0M396.3 224.3h0M397.2 208.1h0M396.8 201.6h0M396.8 214.6h0M397.2 193.4h0M396.9 184.9h0M397.0 203.1h0M397.1 186.0h0M396.9 215.2h0M397.3 192.9h0M397.4 213.3h0M397.5 210.9h0M397.6 207.0h0M397.4 193.9h0M397.7 205.0h0M397.7 207.4h0M397.6 203.8h0M397.4 185.9h0M397.8 211.9h0M397.8 212.3h0M398.2 183.0h0M398.0 191.1h0M398.1 212.5h0M397.9 185.7h0M398.2 207.1h0M398.1 216.4h0M398.6 187.5h0M398.5 208.3h0M398.6 183.5h0M398.3 207.0h0M398.3 186.1h0M399.0 199.2h0M399.1 202.3h0M398.8 181.2h0M399.6 187.7h0M399.7 196.8h0M399.4 209.4h0M399.6 193.3h0M399.6 196.6h0M399.6 210.3h0M399.3 206.2h0M399.7 208.7h0M399.3 178.0h0M399.7 222.7h0M400.0 214.2h0M400.5 191.6h0M400.6 213.2h0M400.6 200.2h0M400.3 190.6h0M400.7 178.6h0M400.4 220.4h0M400.8 211.4h0M401.1 201.0h0M401.1 182.2h0M400.8 191.3h0M401.4 192.8h0M401.4 204.4h0M401.4 184.6h0M401.6 207.8h0M401.7 188.0h0M401.3 198.7h0M401.5 172.4h0M401.9 183.6h0M401.9 211.3h0M402.2 190.2h0M402.0 189.6h0M401.9 196.8h0M402.2 211.5h0M401.9 178.5h0M401.8 179.5h0M402.6 191.7h0M402.4 193.0h0M402.7 187.8h0M402.6 187.2h0M402.6 200.0h0M402.3 200.9h0M402.3 199.6h0M402.6 189.3h0M402.9 213.9h0M403.0 196.6h0M403.0 198.8h0M403.1 181.9h0M403.5 210.2h0M403.7 197.0h0M403.4 199.0h0M403.7 215.3h0M403.3 218.6h0M404.1 206.8h0M404.0 195.3h0M404.2 210.2h0M404.1 202.5h0M403.8 187.0h0M404.1 205.7h0M403.9 198.8h0M403.9 218.3h0M404.3 187.4h0M404.6 198.9h0M404.4 203.7h0M404.4 192.0h0M404.6 214.1h0M404.7 189.6h0M404.9 191.5h0M405.2 193.7h0M404.9 209.3h0M404.8 212.8h0M405.0 207.5h0M405.0 220.0h0M405.7 213.8h0M405.5 193.0h0M405.5 183.2h0M405.6 188.2h0M405.4 195.9h0M405.7 182.1h0M405.5 212.3h0M405.6 176.8h0M406.2 184.3h0M405.9 194.2h0M406.1 214.8h0M406.1 184.3h0M405.8 196.7h0M405.8 193.5h0M406.7 206.1h0M406.3 180.8h0M406.3 183.0h0M406.6 180.8h0M406.6 200.2h0M406.7 190.0h0M406.7 212.7h0M406.5 193.3h0M406.7 217.8h0M406.6 220.1h0M407.2 186.7h0M406.9 181.1h0M406.9 209.8h0M406.9 205.9h0M406.8 176.7h0M407.7 208.6h0M407.4 200.0h0M407.5 197.8h0M407.5 195.8h0M407.3 184.5h0M407.4 213.4h0M407.7 203.3h0M407.7 207.4h0M407.6 188.9h0M408.2 206.6h0M407.9 214.3h0M408.1 189.2h0M408.2 187.9h0M408.2 209.5h0M408.1 198.1h0M408.6 192.5h0M408.3 211.1h0M408.3 181.2h0M408.4 209.7h0M408.6 183.3h0M408.6 210.5h0M408.4 178.8h0M409.2 182.7h0M408.9 209.0h0M409.1 202.8h0M409.0 214.7h0M409.1 190.5h0M408.8 194.6h0M409.2 185.2h0M409.2 206.4h0M408.8 179.5h0M409.4 186.2h0M409.6 213.5h0M409.5 181.1h0M409.4 189.5h0M409.5 214.2h0M409.7 199.1h0M409.6 179.8h0M410.1 183.6h0M410.0 199.3h0M409.8 191.1h0M410.0 186.9h0M409.9 193.5h0M409.8 190.2h0M409.9 188.2h0M409.9 194.2h0M410.1 181.0h0M409.9 189.2h0M410.0 182.4h0M409.8 223.0h0M410.4 213.9h0M410.3 178.9h0M411.2 209.9h0M410.8 209.5h0M411.1 207.3h0M411.1 190.4h0M411.2 180.3h0M411.2 180.7h0M411.4 211.8h0M411.5 204.0h0M411.4 209.1h0M411.6 187.9h0M411.3 207.1h0M411.3 206.7h0M411.3 208.4h0M411.8 213.8h0M411.9 198.8h0M411.8 188.6h0M412.2 185.6h0M412.1 220.5h0M412.4 201.0h0M412.6 208.0h0M412.4 203.3h0M413.1 188.5h0M413.0 209.2h0M413.1 191.2h0M413.2 176.2h0M413.0 172.6h0M413.4 185.9h0M413.5 180.8h0M413.4 209.6h0M413.5 211.9h0M413.5 200.1h0M413.5 173.7h0M413.8 196.8h0M414.1 194.1h0M413.8 182.2h0M414.2 178.0h0M413.8 220.2h0M414.0 220.2h0M414.6 199.1h0M414.5 207.0h0M414.7 208.9h0M414.3 211.2h0M414.3 198.8h0M414.7 186.2h0M414.6 190.7h0M414.3 210.4h0M414.6 212.4h0M414.3 185.8h0M414.9 214.2h0M414.9 207.0h0M414.8 185.7h0M415.1 199.5h0M415.5 187.7h0M415.7 188.8h0M415.5 190.5h0M415.3 211.5h0M415.6 212.7h0M415.7 200.8h0M415.5 204.4h0M415.4 205.4h0M416.1 189.8h0M415.8 204.5h0M416.1 188.6h0M416.7 197.8h0M416.8 201.6h0M417.2 179.0h0M417.2 210.3h0M416.9 205.1h0M417.1 204.3h0M417.1 208.7h0M417.2 187.0h0M416.9 221.9h0M417.7 199.1h0M417.4 202.5h0M417.7 205.4h0M417.3 199.1h0M417.3 188.4h0M417.5 202.2h0M417.4 203.7h0M418.2 207.0h0M418.0 183.7h0M418.0 188.0h0M417.9 184.4h0M418.2 209.2h0M418.2 190.9h0M418.3 185.9h0M418.4 194.7h0M418.6 206.4h0M418.7 174.3h0M418.7 218.1h0M419.2 200.6h0M418.8 180.2h0M419.0 206.8h0M419.3 210.4h0M419.7 206.0h0M419.3 183.9h0M419.4 172.0h0M419.6 218.1h0M419.4 220.3h0M420.2 203.7h0M420.0 200.2h0M420.1 205.0h0M420.2 193.3h0M420.0 206.2h0M420.2 209.0h0M420.1 200.1h0M419.8 179.7h0M419.8 206.9h0M420.5 213.2h0M420.3 195.9h0M420.4 216.0h0M420.3 179.8h0M420.5 195.6h0M421.1 198.3h0M420.9 192.4h0M421.0 201.6h0M421.2 199.7h0M421.2 200.0h0M421.0 182.7h0M421.0 217.0h0M421.7 184.1h0M421.4 211.2h0M421.5 211.2h0M421.5 200.0h0M421.7 175.9h0M422.2 196.5h0M421.9 185.9h0M422.2 209.9h0M421.8 215.3h0M421.8 215.0h0M422.1 197.2h0M422.1 210.0h0M422.1 217.9h0M421.9 217.3h0M422.3 215.2h0M422.5 187.6h0M422.6 177.1h0M422.7 198.6h0M422.3 199.3h0M422.3 176.5h0M422.8 179.9h0M423.1 189.4h0M423.1 201.7h0M423.2 181.0h0M423.0 179.0h0M423.1 195.3h0M423.2 218.0h0M423.6 210.4h0M423.6 178.6h0M423.7 189.9h0M423.3 215.1h0M423.4 182.2h0M423.7 202.4h0M423.3 177.8h0M423.7 214.7h0M423.7 209.2h0M423.4 220.3h0M423.9 180.1h0M424.2 182.3h0M424.1 207.4h0M424.1 184.2h0M423.8 168.8h0M424.5 197.4h0M424.4 205.2h0M424.5 176.6h0M425.1 181.2h0M425.1 188.1h0M425.1 210.0h0M424.9 209.5h0M424.9 194.6h0M424.8 193.9h0M425.1 172.2h0M425.4 201.1h0M425.4 207.6h0M425.6 183.4h0M425.6 214.6h0M425.6 209.2h0M425.4 180.4h0M425.6 206.4h0M425.6 211.9h0M425.3 197.7h0M425.5 217.6h0M426.2 211.1h0M426.1 193.8h0M426.1 198.4h0M426.1 179.3h0M425.9 197.8h0M426.1 189.1h0M425.9 179.5h0M426.2 213.0h0M425.9 187.4h0M426.6 189.2h0M426.7 183.4h0M426.4 181.2h0M426.7 211.7h0M426.6 215.8h0M426.8 209.1h0M426.9 206.8h0M426.8 192.2h0M427.1 203.6h0M427.1 206.6h0M427.1 215.3h0M427.1 187.9h0M427.1 192.9h0M427.5 199.9h0M427.5 205.6h0M427.7 198.3h0M427.3 198.7h0M427.7 191.9h0M428.2 179.0h0M427.8 209.5h0M427.8 203.4h0M428.0 186.7h0M427.9 183.2h0M428.6 213.2h0M428.7 183.7h0M428.5 214.9h0M428.6 220.7h0M429.0 202.5h0M428.8 199.6h0M429.2 202.4h0M429.2 208.0h0M428.9 193.9h0M429.1 193.6h0M429.2 213.5h0M428.9 177.7h0M429.3 206.9h0M429.6 182.6h0M429.4 202.1h0M429.4 194.2h0M429.5 193.2h0M429.4 190.0h0M429.6 206.8h0M429.7 204.5h0M429.7 213.1h0M429.7 196.2h0M429.7 202.6h0M429.5 188.8h0M429.9 186.9h0M430.2 216.3h0M430.0 180.7h0M429.8 195.5h0M430.0 179.3h0M430.1 177.1h0M430.1 177.7h0M430.1 206.9h0M430.3 184.5h0M430.4 215.5h0M430.7 195.9h0M430.7 214.1h0M430.3 184.6h0M430.7 186.2h0M431.0 190.4h0M431.2 182.6h0M430.8 214.3h0M430.9 188.8h0M430.9 205.7h0M431.2 223.7h0M431.3 177.4h0M431.7 199.3h0M431.7 183.5h0M431.4 206.2h0M431.5 203.7h0M431.7 183.7h0M431.3 210.2h0M431.5 207.0h0M431.7 180.4h0M431.3 222.0h0M431.9 205.4h0M432.2 207.6h0M431.8 192.6h0M431.8 177.7h0M431.9 188.9h0M432.1 197.3h0M431.9 197.3h0M431.9 188.3h0M432.4 195.0h0M432.6 169.8h0M432.5 175.4h0M433.0 191.0h0M432.9 187.6h0M433.2 201.0h0M432.8 185.5h0M433.0 185.3h0M433.0 195.3h0M433.6 194.2h0M433.5 204.6h0M433.7 188.4h0M433.7 199.8h0M433.3 193.2h0M433.7 184.7h0M433.6 209.3h0M433.6 198.2h0M433.7 178.4h0M433.4 216.5h0M433.3 171.6h0M434.2 181.7h0M434.1 207.9h0M434.2 183.8h0M434.5 191.2h0M434.7 199.9h0M434.5 186.2h0M434.5 196.5h0M434.5 190.4h0M434.5 195.0h0M434.3 182.1h0M434.3 193.4h0M434.7 213.6h0M434.5 215.3h0M434.8 197.9h0M435.1 206.4h0M434.9 188.6h0M434.9 204.1h0M435.2 202.4h0M435.1 183.0h0M435.0 191.6h0M435.7 183.4h0M435.5 179.4h0M435.7 186.6h0M435.3 197.5h0M435.4 193.9h0M435.7 178.3h0M435.3 193.5h0M435.4 211.2h0M435.3 218.4h0M436.2 208.2h0M435.8 187.9h0M435.9 203.2h0M436.1 177.5h0M436.1 175.2h0M436.5 175.4h0M436.7 198.6h0M436.5 187.8h0M436.6 178.4h0M436.6 213.7h0M436.8 203.3h0M436.9 193.7h0M437.1 207.5h0M437.2 177.9h0M436.9 210.8h0M436.8 208.0h0M436.9 217.0h0M437.3 203.0h0M437.5 207.7h0M437.7 179.2h0M437.4 194.7h0M437.4 216.1h0M437.5 201.7h0M437.3 213.0h0M437.9 194.9h0M438.0 180.9h0M437.8 199.6h0M437.8 211.5h0M438.2 197.2h0M437.8 202.5h0M438.5 185.0h0M438.3 188.3h0M438.5 187.1h0M438.5 212.5h0M438.4 184.8h0M439.2 205.2h0M439.1 183.7h0M438.8 204.1h0M439.1 213.1h0M438.8 184.1h0M439.2 190.0h0M439.1 212.1h0M439.0 174.8h0M439.2 214.8h0M439.3 177.5h0M439.6 191.6h0M439.4 213.4h0M439.5 195.4h0M439.3 208.6h0M439.3 202.0h0M439.4 191.5h0M439.6 208.5h0M440.0 205.5h0M440.1 188.6h0M440.0 212.7h0M440.1 202.5h0M440.0 175.7h0M439.9 196.2h0M439.8 199.9h0M440.2 200.5h0M440.0 200.3h0M440.6 210.2h0M440.3 207.9h0M440.6 206.1h0M440.3 189.4h0M440.6 183.1h0M440.5 200.8h0M440.9 195.0h0M441.1 207.1h0M441.5 215.1h0M441.7 191.8h0M441.3 190.9h0M441.6 178.2h0M442.1 191.3h0M441.8 188.0h0M442.2 181.4h0M442.0 182.6h0M442.2 178.8h0M442.6 207.9h0M442.6 186.6h0M442.7 176.8h0M442.6 201.0h0M442.5 193.4h0M442.6 209.0h0M442.6 214.8h0M442.6 167.0h0M443.1 206.1h0M443.2 174.2h0M442.9 210.5h0M443.0 180.0h0M442.8 201.7h0M442.8 192.9h0M443.0 190.2h0M443.0 199.4h0M443.1 211.2h0M443.0 214.0h0M443.3 182.0h0M443.3 181.8h0M443.4 183.1h0M443.5 175.6h0M444.2 198.7h0M443.8 193.9h0M444.2 178.8h0M443.8 176.0h0M444.1 184.7h0M444.0 195.0h0M443.9 182.0h0M444.0 200.0h0M443.9 207.6h0M444.0 178.8h0M444.1 188.9h0M444.1 206.2h0M444.3 184.8h0M444.4 200.4h0M444.6 188.7h0M444.6 184.2h0M445.2 181.6h0M445.0 200.8h0M444.8 190.2h0M445.1 207.6h0M444.8 185.3h0M444.8 197.3h0M444.8 214.9h0M445.4 211.5h0M445.6 206.3h0M445.6 176.9h0M445.5 186.4h0M446.1 207.3h0M445.8 183.5h0M446.0 200.9h0M446.7 208.2h0M446.3 205.2h0M446.6 188.0h0M446.4 187.1h0M446.7 189.5h0M446.5 197.3h0M446.3 174.0h0M447.0 196.9h0M447.2 186.5h0M447.2 202.5h0M447.2 190.6h0M447.1 175.4h0M447.1 187.3h0M447.2 213.8h0M447.7 175.2h0M447.5 182.8h0M447.4 180.6h0M447.4 205.4h0M447.7 202.9h0M447.7 178.9h0M447.7 181.8h0M448.2 173.9h0M448.2 190.4h0M447.8 205.7h0M448.2 183.9h0M448.0 184.4h0M447.9 198.1h0M448.2 179.8h0M447.8 179.8h0M448.2 177.7h0M448.6 185.8h0M448.4 174.9h0M448.4 202.5h0M448.4 181.0h0M449.1 178.1h0M449.1 194.0h0M448.8 170.3h0M449.6 204.9h0M449.5 176.9h0M449.5 202.1h0M449.5 193.4h0M449.8 200.8h0M449.9 185.6h0M450.3 180.2h0M450.4 181.2h0M450.4 188.4h0M450.6 176.7h0M450.6 183.9h0M450.9 204.4h0M451.0 187.8h0M450.8 168.2h0M451.5 180.8h0M451.3 194.3h0M452.0 175.0h0M451.9 178.2h0M451.9 197.3h0M451.9 193.7h0M452.1 204.1h0M451.9 206.2h0M452.7 185.0h0M452.6 202.0h0M452.6 203.1h0M452.7 183.4h0M452.3 181.1h0M452.3 175.5h0M452.7 209.7h0M452.7 205.7h0M452.9 190.7h0M452.8 173.0h0M452.9 199.9h0M453.1 171.0h0M453.4 184.3h0M453.6 194.7h0M453.6 176.4h0M453.7 185.9h0M453.3 197.0h0M453.3 203.2h0M453.8 199.1h0M453.9 175.1h0M453.9 198.0h0M453.9 208.3h0M454.5 185.8h0M454.5 192.2h0M454.7 175.7h0M455.1 180.4h0M454.9 172.1h0M454.8 199.4h0M454.9 177.7h0M455.0 191.3h0M455.1 195.0h0M454.9 201.0h0M455.7 174.1h0M455.3 197.5h0M455.7 172.3h0M455.4 192.8h0M455.6 176.8h0M455.6 189.1h0M455.8 188.9h0M455.8 189.6h0M455.8 196.0h0M455.9 194.5h0M456.1 181.4h0M455.9 197.6h0M455.8 190.9h0M455.8 190.3h0M456.3 196.9h0M456.4 185.7h0M456.3 191.0h0M456.9 191.3h0M457.2 195.1h0M457.2 177.5h0M457.2 183.1h0M457.0 172.9h0M457.0 187.4h0M457.1 185.0h0M456.8 197.1h0M457.1 206.6h0M457.6 176.7h0M457.7 178.6h0M457.3 190.6h0M458.2 196.1h0M457.8 189.9h0M457.8 196.8h0M458.1 171.6h0M458.2 187.5h0M458.4 198.9h0M458.6 171.7h0M458.7 191.3h0M458.6 175.6h0M458.7 176.0h0M458.7 171.4h0M459.0 176.0h0M458.8 173.7h0M458.9 175.6h0M458.8 194.2h0M459.0 195.3h0M459.1 176.4h0M459.1 206.6h0M459.4 173.6h0M459.3 177.7h0M459.5 196.9h0M459.6 192.5h0M459.6 185.3h0M459.4 174.9h0M459.9 172.7h0M460.2 182.9h0M459.9 178.9h0M460.2 193.3h0M460.2 181.1h0M460.3 191.1h0M460.6 192.5h0M460.6 196.2h0M460.7 176.5h0M460.7 189.3h0M460.5 194.6h0M461.0 191.6h0M460.8 175.7h0M461.2 176.5h0M461.7 187.0h0M461.8 176.6h0M462.1 177.6h0M462.6 191.5h0M462.4 191.2h0M462.6 197.7h0M463.0 193.8h0M462.9 188.5h0M463.5 173.6h0M463.6 182.5h0M464.1 177.9h0M464.6 181.1h0M464.7 183.8h0M464.6 184.8h0M464.6 180.3h0M464.6 173.8h0M464.7 173.6h0M464.9 183.6h0M465.0 181.8h0M464.9 167.1h0M465.7 180.6h0M465.7 174.5h0M465.4 175.6h0M465.6 190.6h0M465.3 183.2h0M466.2 186.2h0M467.0 184.6h0M467.0 174.1h0M467.1 181.3h0M467.0 191.2h0M467.2 170.1h0M467.3 170.4h0M467.5 176.8h0M467.7 177.5h0M467.4 191.0h0M467.5 186.9h0M468.0 186.5h0M467.9 176.2h0M468.7 171.5h0M468.5 189.6h0M468.7 193.3h0M469.4 182.5h0M469.4 175.2h0M470.2 174.3h0M469.9 169.3h0M470.2 190.3h0M470.5 188.7h0M470.6 172.5h0M470.6 173.7h0M470.9 183.0h0M470.9 169.2h0M470.8 193.9h0M471.4 174.9h0M471.8 165.6h0M471.9 177.6h0M471.9 182.4h0M471.9 179.8h0M472.7 179.3h0M472.7 181.8h0M473.1 165.1h0M473.0 178.5h0M473.5 173.1h0M473.5 171.7h0M473.9 165.0h0M473.8 184.6h0M474.2 167.6h0M474.5 167.8h0M474.4 172.3h0M474.6 177.6h0M475.2 183.3h0M474.8 184.7h0M475.1 188.2h0M475.5 179.9h0M475.3 183.4h0M475.3 189.4h0M476.3 177.5h0M476.6 168.0h0M476.6 173.5h0M477.2 167.7h0M476.8 175.2h0M477.5 167.8h0M478.1 182.0h0M477.9 182.1h0M478.3 185.7h0M478.6 171.1h0M478.3 169.8h0M478.8 173.7h0M478.8 178.6h0M479.6 173.6h0M479.5 183.7h0M479.8 184.7h0M480.4 185.6h0M481.1 168.8h0M480.9 173.6h0M481.2 187.4h0M481.1 180.3h0M481.6 177.8h0M481.6 189.0h0M482.4 177.4h0M482.6 177.4h0M483.0 186.4h0M482.8 174.8h0M483.2 186.8h0M483.4 187.3h0M483.7 169.3h0M484.0 170.0h0M483.9 174.1h0M485.1 185.6h0M485.5 171.4h0M485.9 178.0h0M486.0 185.5h0M485.8 185.3h0M486.0 173.5h0M486.5 170.6h0M486.3 169.2h0M486.5 177.4h0M487.1 178.3h0M487.4 172.7h0M487.4 186.9h0M487.4 184.1h0M488.1 171.6h0M488.0 182.3h0M487.8 179.8h0M488.1 173.7h0M488.6 167.2h0M488.3 179.0h0M488.7 169.3h0M489.2 181.6h0M489.3 186.5h0M489.3 186.8h0M490.1 184.2h0M490.7 184.8h0M490.7 181.6h0M490.4 189.1h0M491.0 167.8h0M491.1 185.0h0M491.0 178.5h0M492.0 170.7h0M492.7 173.6h0M493.7 170.4h0M494.2 168.5h0M493.8 172.4h0M494.6 176.3h0M494.3 184.5h0M494.8 184.5h0M495.1 172.2h0M495.7 174.1h0M495.5 167.7h0M495.3 177.3h0M495.5 183.7h0M496.0 177.7h0M496.8 186.2h0M497.2 171.3h0M497.6 178.0h0M498.2 179.7h0M498.0 180.7h0M498.1 169.7h0M498.7 186.7h0M499.2 178.9h0M499.0 183.4h0M499.1 167.7h0M499.2 185.4h0M498.9 191.3h0M499.6 170.2h0M499.3 187.7h0M500.0 172.0h0M500.4 182.4h0M500.4 167.8h0M500.4 173.7h0M501.4 183.8h0M501.6 184.4h0M501.3 168.1h0M501.9 177.9h0M502.6 183.0h0M503.0 175.6h0M503.1 172.8h0M503.2 185.0h0M503.2 192.4h0M503.1 187.5h0M503.9 180.9h0M505.0 184.8h0M505.2 174.7h0M505.1 182.2h0M505.2 172.6h0M504.8 178.3h0M505.1 176.0h0M505.1 176.7h0M505.1 178.0h0M505.2 165.0h0M505.4 172.2h0M505.8 170.9h0M506.2 170.6h0M506.3 176.8h0M506.3 173.5h0M507.1 169.6h0M506.9 167.7h0M506.9 169.1h0M507.7 182.8h0M507.3 179.2h0M507.7 174.5h0M507.8 172.6h0M507.9 169.3h0M507.9 163.3h0M507.9 179.4h0M508.5 179.8h0M508.6 178.2h0M508.9 166.3h0M508.9 163.6h0M508.9 185.3h0M509.7 176.9h0M509.7 167.2h0M509.4 169.9h0M509.3 180.4h0M510.1 175.9h0M510.4 178.4h0M510.6 169.0h0M510.8 169.1h0M511.0 180.6h0M511.2 173.5h0M512.9 167.8h0M512.9 174.1h0M513.2 177.9h0M513.1 182.6h0M513.4 175.2h0M514.0 168.3h0M514.0 174.7h0M514.7 175.4h0M515.2 178.9h0M515.8 175.9h0M516.6 170.9h0M517.1 165.0h0M517.7 166.3h0M517.6 165.5h0M517.4 176.2h0M518.6 176.0h0M518.6 173.4h0M520.6 169.1h0M520.4 173.4h0M521.8 170.8h0M522.2 170.1h0M67.2 271.5h0M71.0 270.0h0M191.0 266.5h0M217.0 268.5h0M232.0 266.5h0M300.0 253.5h0M302.5 252.5h0M300.5 254.0h0M313.0 251.0h0M380.0 236.0h0M435.6 226.5h0" stroke="#000" stroke-width="5.2" stroke-linecap="round" fill="none"/><line x1="67.5" y1="269.2" x2="523.5" y2="171.8" stroke="#f00" stroke-width="2.4"/><path d="M44.9 154.3V278.9H546.3" fill="none" stroke="#262626" stroke-width="1.1"/><path d="M46.0 278.9v2.0M56.4 278.9v2.0M65.7 278.9v3.5M126.8 278.9v2.0M162.5 278.9v2.0M187.9 278.9v2.0M207.5 278.9v2.0M223.6 278.9v2.0M237.2 278.9v2.0M248.9 278.9v2.0M259.3 278.9v2.0M268.6 278.9v3.5M329.7 278.9v2.0M365.4 278.9v2.0M390.8 278.9v2.0M410.4 278.9v2.0M426.5 278.9v2.0M440.1 278.9v2.0M451.8 278.9v2.0M462.2 278.9v2.0M471.5 278.9v3.5M532.6 278.9v2.0M44.9 276.7h-2.0M44.9 273.4h-2.0M44.9 270.6h-2.0M44.9 268.3h-2.0M44.9 266.3h-2.0M44.9 264.5h-2.0M44.9 262.9h-3.5M44.9 252.5h-2.0M44.9 246.5h-2.0M44.9 242.1h-2.0M44.9 238.8h-2.0M44.9 236.1h-2.0M44.9 233.8h-2.0M44.9 231.7h-2.0M44.9 230.0h-2.0M44.9 228.4h-3.5M44.9 218.0h-2.0M44.9 211.9h-2.0M44.9 207.6h-2.0M44.9 204.3h-2.0M44.9 201.5h-2.0M44.9 199.2h-2.0M44.9 197.2h-2.0M44.9 195.4h-2.0M44.9 193.9h-3.5M44.9 183.4h-2.0M44.9 177.4h-2.0M44.9 173.0h-2.0M44.9 169.7h-2.0M44.9 167.0h-2.0M44.9 164.7h-2.0M44.9 162.6h-2.0M44.9 160.9h-2.0M44.9 159.3h-3.5" stroke="#262626" stroke-width="0.8" fill="none"/><text x="65.9" y="294.8" text-anchor="middle" class="tk">10<tspan class="sup" dy="-3.1">1</tspan></text><text x="268.8" y="294.8" text-anchor="middle" class="tk">10<tspan class="sup" dy="-3.1">2</tspan></text><text x="471.7" y="294.8" text-anchor="middle" class="tk">10<tspan class="sup" dy="-3.1">3</tspan></text><text x="35.7" y="266.3" text-anchor="end" class="tk">10<tspan class="sup" dy="-3.1">2</tspan></text><text x="35.7" y="231.8" text-anchor="end" class="tk">10<tspan class="sup" dy="-3.1">3</tspan></text><text x="35.7" y="197.3" text-anchor="end" class="tk">10<tspan class="sup" dy="-3.1">4</tspan></text><text x="35.7" y="162.7" text-anchor="end" class="tk">10<tspan class="sup" dy="-3.1">5</tspan></text><text transform="translate(15.3 217.1) rotate(-90)" text-anchor="middle" class="yl">Shelterbelt Area (<tspan class="mi">m</tspan><tspan class="ysup" dx="0.3" dy="-4.1">2</tspan><tspan dy="4.1">)</tspan></text><text x="55.1" y="167.2" class="pl">b.</text><text x="75.8" y="168.6" class="eq">Log(y) = 1.275 + 1.254*Log(x)</text><text x="74.8" y="179.6" class="r2"><tspan font-style="italic">R</tspan><tspan class="rsup" dx="0.9" dy="-4.2">2</tspan><tspan dx="0.5" dy="4.2">=0.779</tspan></text><line x1="348.6" y1="266.7" x2="367.6" y2="266.7" stroke="#f00" stroke-width="2.3"/><text x="373.3" y="269.9" class="lg">Log-Log Fit</text><circle cx="447.6" cy="267.3" r="2.6" fill="#000"/><text x="463.3" y="270.0" class="lg">2014 Shelterbelts</text></g>
<g><path d="M67.3 420.1h0M73.8 419.9h0M74.7 418.1h0M75.2 419.0h0M79.6 418.3h0M81.6 419.1h0M82.9 420.1h0M83.7 419.1h0M84.2 417.8h0M86.8 416.6h0M88.2 418.3h0M87.8 415.1h0M91.6 417.2h0M93.0 412.9h0M94.6 419.1h0M95.3 412.7h0M96.8 417.6h0M97.5 415.1h0M98.1 412.0h0M98.8 410.2h0M100.5 409.2h0M101.2 414.7h0M102.3 413.3h0M104.2 409.1h0M105.1 413.1h0M106.0 414.6h0M108.4 412.2h0M109.6 415.9h0M112.0 413.9h0M114.7 414.9h0M117.2 414.9h0M117.2 416.9h0M117.2 418.2h0M119.1 405.2h0M118.9 416.4h0M119.0 411.5h0M120.0 418.5h0M120.8 404.9h0M121.5 414.3h0M122.0 416.2h0M122.2 407.2h0M123.2 414.2h0M123.2 416.1h0M124.5 404.5h0M125.2 417.8h0M125.8 419.1h0M127.7 418.4h0M128.2 406.3h0M128.7 416.6h0M129.5 417.1h0M129.8 416.1h0M130.6 412.6h0M131.6 402.4h0M131.4 418.8h0M132.0 404.7h0M132.4 416.6h0M133.0 403.1h0M133.6 405.5h0M133.7 406.1h0M133.3 403.4h0M134.4 404.8h0M134.8 415.2h0M135.6 404.0h0M136.0 404.9h0M138.0 412.7h0M138.4 398.6h0M139.2 405.0h0M141.0 400.4h0M141.5 418.5h0M142.0 414.2h0M142.1 415.4h0M143.1 400.8h0M142.9 411.0h0M143.0 400.7h0M143.6 400.7h0M144.7 401.4h0M144.4 402.7h0M144.8 400.0h0M144.9 404.8h0M145.7 399.9h0M145.8 405.8h0M147.7 412.1h0M148.3 417.0h0M149.6 397.8h0M149.6 412.5h0M149.6 402.0h0M150.0 400.7h0M150.2 411.0h0M150.3 418.1h0M150.4 412.2h0M151.1 396.0h0M151.4 398.3h0M151.7 404.4h0M153.2 401.9h0M153.5 406.4h0M153.7 403.4h0M153.9 416.6h0M153.8 405.8h0M154.2 411.7h0M153.9 401.6h0M154.8 395.1h0M155.6 404.9h0M156.2 394.8h0M156.2 406.2h0M156.2 418.6h0M156.7 413.3h0M156.3 409.6h0M157.1 409.2h0M157.3 408.2h0M157.7 404.1h0M157.6 418.3h0M158.2 405.2h0M159.5 408.1h0M160.1 414.8h0M160.7 407.6h0M160.5 399.2h0M160.6 412.5h0M161.1 396.0h0M161.3 396.2h0M161.6 414.4h0M161.8 402.9h0M164.7 411.1h0M165.2 398.5h0M165.6 399.0h0M166.3 397.9h0M166.5 394.6h0M166.6 393.2h0M167.1 413.7h0M167.0 416.8h0M167.2 401.7h0M168.0 396.1h0M168.8 393.6h0M169.2 400.2h0M169.6 410.5h0M169.5 413.3h0M169.5 395.2h0M169.9 400.9h0M170.3 404.2h0M172.0 404.3h0M172.4 401.5h0M172.5 391.9h0M172.9 417.9h0M172.9 407.7h0M172.8 411.8h0M173.6 396.0h0M174.0 393.1h0M174.6 404.3h0M175.3 403.0h0M175.3 411.8h0M175.7 391.2h0M176.2 389.1h0M176.2 401.5h0M177.3 408.6h0M177.6 414.0h0M177.6 417.6h0M178.2 395.4h0M178.3 414.4h0M178.7 391.2h0M179.1 389.6h0M178.9 401.4h0M178.8 412.7h0M179.1 401.6h0M179.7 391.1h0M180.3 396.4h0M180.5 410.7h0M181.2 394.2h0M181.8 394.2h0M182.1 397.2h0M181.8 417.9h0M181.9 387.9h0M182.1 409.5h0M182.6 388.1h0M183.2 405.6h0M182.9 407.8h0M182.9 398.0h0M183.8 415.4h0M183.9 417.8h0M185.3 411.1h0M185.7 399.3h0M185.3 395.2h0M185.9 389.5h0M186.5 413.4h0M186.3 410.7h0M186.4 392.0h0M186.3 400.1h0M186.6 393.9h0M187.1 399.6h0M188.0 402.5h0M188.0 386.4h0M189.0 407.2h0M188.9 415.7h0M189.0 394.2h0M189.4 416.4h0M189.6 383.6h0M190.0 405.9h0M190.5 404.6h0M190.7 396.5h0M190.3 402.4h0M190.5 402.3h0M192.1 413.2h0M192.2 412.3h0M192.0 416.3h0M192.3 387.6h0M192.6 413.3h0M193.4 408.9h0M194.1 408.7h0M193.9 416.9h0M194.1 401.3h0M195.6 410.9h0M195.6 389.0h0M195.9 414.8h0M196.9 392.2h0M197.4 386.2h0M197.5 409.3h0M197.3 400.5h0M197.3 405.3h0M197.9 390.5h0M198.1 383.0h0M198.0 392.4h0M198.0 396.2h0M197.9 386.4h0M198.2 385.4h0M198.4 400.0h0M199.2 396.2h0M199.7 381.3h0M199.5 381.4h0M200.1 392.3h0M200.0 395.6h0M200.1 409.0h0M199.9 394.0h0M200.0 381.0h0M200.1 386.4h0M199.9 398.8h0M200.1 391.2h0M200.3 396.0h0M200.8 384.3h0M201.0 400.1h0M201.4 409.1h0M201.6 405.8h0M201.5 403.0h0M201.5 411.2h0M201.8 406.3h0M201.9 381.4h0M201.9 415.9h0M203.2 385.4h0M203.1 379.3h0M203.9 396.7h0M204.9 401.2h0M204.9 392.0h0M204.9 406.3h0M205.1 383.5h0M205.1 395.5h0M205.7 398.8h0M206.0 412.3h0M207.1 399.4h0M207.0 403.4h0M207.1 401.7h0M206.9 378.5h0M208.4 410.8h0M208.4 410.0h0M208.9 385.8h0M209.2 382.9h0M209.6 406.5h0M210.0 381.1h0M210.0 399.8h0M210.4 413.5h0M210.3 376.3h0M210.6 400.2h0M211.2 408.6h0M211.4 402.9h0M211.3 384.2h0M211.8 405.1h0M211.8 384.2h0M212.6 392.3h0M212.4 388.5h0M212.8 407.1h0M213.1 389.9h0M213.0 413.8h0M213.5 404.8h0M213.3 377.0h0M213.5 407.9h0M213.9 378.0h0M214.4 391.5h0M214.7 408.7h0M214.6 386.8h0M215.0 409.4h0M214.9 397.7h0M215.3 401.1h0M215.3 397.9h0M216.4 403.6h0M216.5 412.0h0M217.0 380.1h0M217.7 388.1h0M217.5 384.3h0M218.5 382.8h0M218.5 389.6h0M218.3 395.3h0M219.7 405.4h0M219.9 385.2h0M220.5 375.2h0M220.7 393.4h0M221.2 386.8h0M221.1 393.2h0M221.1 386.7h0M220.9 378.8h0M221.3 397.8h0M221.7 401.0h0M221.3 379.2h0M222.1 391.4h0M222.7 382.9h0M223.1 374.5h0M223.2 378.6h0M223.5 407.6h0M223.7 395.6h0M223.4 401.4h0M223.6 404.0h0M224.2 374.0h0M223.9 401.2h0M224.2 388.5h0M224.5 400.3h0M224.4 404.0h0M225.5 393.3h0M225.6 379.2h0M226.2 410.3h0M226.6 397.2h0M226.4 405.1h0M226.6 379.8h0M227.0 379.8h0M227.6 374.4h0M227.8 398.8h0M228.5 383.7h0M228.8 393.0h0M229.2 395.3h0M229.2 395.1h0M229.3 387.8h0M229.3 372.0h0M229.5 379.5h0M229.3 399.8h0M229.4 409.2h0M229.8 401.9h0M230.0 395.3h0M229.8 388.0h0M229.9 377.1h0M230.2 376.0h0M230.4 383.2h0M230.7 383.3h0M231.1 388.2h0M231.3 399.6h0M231.6 388.0h0M232.2 384.0h0M232.5 393.1h0M232.7 383.2h0M232.4 394.4h0M232.9 378.0h0M233.1 398.8h0M232.9 404.8h0M233.7 395.3h0M233.5 380.2h0M233.4 391.8h0M233.7 381.7h0M234.5 395.1h0M234.7 392.7h0M235.7 392.5h0M236.2 375.6h0M236.2 370.8h0M236.4 386.8h0M236.4 387.0h0M237.2 377.5h0M237.5 394.0h0M238.2 386.1h0M237.8 368.6h0M238.7 380.4h0M238.7 398.2h0M238.6 400.5h0M238.8 378.1h0M239.5 375.4h0M240.1 398.2h0M240.0 392.1h0M240.3 394.7h0M240.6 381.7h0M240.6 381.7h0M241.0 389.6h0M240.9 381.2h0M241.1 388.2h0M241.1 371.7h0M241.0 370.3h0M240.8 390.4h0M241.5 382.1h0M241.4 387.8h0M241.8 393.4h0M242.2 398.1h0M242.2 398.0h0M241.9 369.4h0M241.8 369.1h0M241.9 376.8h0M242.4 380.4h0M242.6 375.3h0M242.7 373.8h0M242.6 387.2h0M243.0 378.5h0M242.8 380.2h0M243.1 378.9h0M245.2 389.1h0M244.9 396.9h0M245.7 389.9h0M246.2 393.0h0M245.9 377.3h0M246.3 389.6h0M246.3 393.0h0M246.6 380.9h0M247.1 392.4h0M247.2 389.7h0M246.9 372.5h0M247.5 374.1h0M247.7 376.6h0M248.4 386.4h0M248.7 378.3h0M249.0 385.5h0M249.3 366.7h0M249.9 365.7h0M249.9 397.7h0M250.3 392.9h0M251.1 391.4h0M251.7 377.3h0M252.3 374.5h0M252.9 366.5h0M253.1 373.1h0M252.9 386.1h0M253.4 369.4h0M253.5 377.3h0M253.9 370.8h0M254.7 365.8h0M254.5 374.1h0M255.5 375.1h0M255.8 384.3h0M255.8 379.5h0M256.0 391.7h0M256.5 369.3h0M256.3 378.8h0M256.8 382.2h0M257.2 378.5h0M256.8 383.8h0M257.0 381.8h0M257.0 386.2h0M256.9 376.0h0M257.2 404.9h0M256.9 394.5h0M257.3 369.7h0M257.4 366.3h0M257.6 373.1h0M257.7 387.6h0M257.6 373.2h0M257.3 397.3h0M257.9 364.1h0M258.1 389.9h0M258.0 370.3h0M258.1 373.1h0M258.3 371.6h0M258.4 372.7h0M258.3 382.7h0M258.3 364.6h0M258.9 374.3h0M259.5 377.2h0M259.5 366.9h0M259.7 388.6h0M259.5 386.8h0M259.5 361.9h0M259.7 390.2h0M260.1 372.2h0M260.2 377.7h0M260.3 372.4h0M261.2 373.5h0M261.0 378.1h0M261.1 359.8h0M261.5 383.5h0M261.7 365.0h0M261.6 377.3h0M261.4 386.7h0M261.4 390.9h0M261.9 366.0h0M261.9 362.0h0M262.3 376.4h0M262.9 386.7h0M263.6 386.5h0M263.7 363.4h0M263.7 369.8h0M263.5 360.8h0M263.8 372.4h0M263.8 366.1h0M264.2 367.6h0M264.2 386.0h0M264.6 367.3h0M264.4 387.4h0M265.0 373.2h0M265.0 363.3h0M265.0 371.7h0M265.4 365.1h0M265.5 370.4h0M265.6 377.5h0M265.3 379.8h0M265.9 369.1h0M266.7 376.7h0M267.1 372.4h0M267.0 385.7h0M267.2 363.5h0M267.4 372.1h0M267.5 370.9h0M267.5 376.5h0M267.9 379.3h0M267.9 383.2h0M268.6 369.8h0M269.4 363.8h0M270.1 368.8h0M270.0 365.5h0M269.9 359.9h0M269.9 368.3h0M269.8 367.0h0M270.2 387.8h0M270.4 374.2h0M270.7 364.3h0M270.4 376.8h0M270.4 363.2h0M270.5 368.8h0M270.7 357.9h0M271.2 368.5h0M271.8 358.8h0M272.0 377.4h0M271.8 378.6h0M272.7 381.8h0M272.4 383.5h0M272.3 386.1h0M273.2 380.0h0M272.9 378.5h0M273.0 364.5h0M273.1 372.2h0M273.7 371.6h0M273.4 367.4h0M274.0 364.0h0M274.0 387.7h0M274.4 371.8h0M275.1 376.0h0M275.1 368.0h0M275.1 365.5h0M275.4 369.9h0M275.4 375.5h0M275.5 358.2h0M275.9 375.7h0M276.4 372.9h0M276.5 372.1h0M276.3 377.1h0M277.2 386.5h0M277.7 363.3h0M277.5 370.9h0M277.3 384.4h0M278.2 374.9h0M277.9 362.4h0M277.8 367.8h0M277.8 354.5h0M277.8 355.8h0M278.2 391.9h0M277.8 387.2h0M278.0 389.0h0M278.3 357.0h0M278.6 382.5h0M278.7 371.6h0M278.3 391.1h0M279.0 374.9h0M279.0 376.5h0M279.0 374.9h0M279.2 385.1h0M279.5 382.0h0M279.5 378.8h0M279.6 375.9h0M279.7 392.1h0M279.9 368.6h0M280.0 359.9h0M280.7 358.5h0M280.6 361.7h0M280.9 378.5h0M281.2 372.4h0M280.9 357.1h0M280.9 356.3h0M281.6 360.4h0M281.3 358.9h0M281.3 357.1h0M282.1 367.9h0M282.2 373.1h0M282.7 368.0h0M282.3 376.0h0M283.0 380.7h0M282.9 363.4h0M283.4 371.4h0M283.3 363.0h0M283.5 367.6h0M283.5 362.9h0M284.1 380.9h0M283.9 368.1h0M284.2 379.8h0M283.8 381.8h0M284.3 356.0h0M284.5 367.3h0M284.4 374.3h0M284.7 376.4h0M285.1 365.6h0M285.1 362.2h0M285.2 376.5h0M285.5 357.7h0M285.3 370.7h0M285.6 371.4h0M285.6 377.9h0M285.4 357.0h0M286.2 357.0h0M286.2 376.9h0M286.3 367.6h0M286.6 372.5h0M286.6 375.8h0M286.7 360.5h0M286.3 362.7h0M286.3 379.9h0M286.4 365.1h0M286.3 379.1h0M286.9 362.3h0M287.0 375.2h0M287.2 381.9h0M287.3 359.0h0M287.5 376.2h0M288.2 354.2h0M288.1 374.0h0M287.9 372.9h0M288.3 374.5h0M288.3 373.8h0M288.3 353.3h0M289.0 357.5h0M288.8 370.1h0M288.8 395.3h0M289.6 359.6h0M289.4 354.3h0M289.5 357.2h0M289.3 358.8h0M290.0 376.6h0M290.1 371.2h0M290.0 373.8h0M290.1 355.4h0M290.6 367.9h0M290.5 365.1h0M290.7 359.1h0M290.7 394.2h0M290.9 370.8h0M291.2 390.2h0M290.9 394.7h0M291.3 353.7h0M291.5 368.0h0M292.1 375.3h0M291.9 387.7h0M292.1 385.1h0M292.6 374.7h0M292.7 363.7h0M292.4 359.5h0M292.3 377.7h0M293.1 369.4h0M293.7 372.8h0M293.5 356.5h0M293.4 367.2h0M293.7 362.8h0M293.4 384.9h0M293.9 360.6h0M294.1 375.3h0M293.9 371.2h0M294.9 362.4h0M295.7 360.9h0M295.6 360.2h0M296.2 364.5h0M296.1 357.8h0M296.5 357.6h0M296.3 374.6h0M296.6 374.2h0M296.5 365.4h0M297.1 380.3h0M297.5 364.3h0M297.7 356.3h0M298.1 370.6h0M297.8 355.2h0M298.2 376.7h0M297.8 362.4h0M298.0 355.2h0M298.2 383.7h0M298.3 374.4h0M298.5 351.6h0M298.3 379.2h0M298.3 358.1h0M298.3 372.4h0M298.7 365.0h0M298.9 362.5h0M298.9 354.0h0M299.1 353.4h0M298.9 363.4h0M299.1 358.9h0M299.2 381.9h0M298.8 379.5h0M299.6 357.1h0M299.4 365.5h0M300.2 375.8h0M299.8 368.3h0M300.0 367.1h0M299.9 352.8h0M299.8 349.5h0M300.3 367.1h0M300.3 368.7h0M300.3 377.5h0M300.7 370.5h0M301.2 372.8h0M301.2 366.9h0M300.9 347.6h0M301.1 388.9h0M301.4 374.3h0M301.4 375.5h0M301.6 372.4h0M301.4 352.1h0M301.4 358.6h0M301.6 363.5h0M302.1 374.7h0M302.1 389.5h0M302.1 386.1h0M302.6 373.5h0M302.4 355.8h0M302.3 359.7h0M302.4 375.3h0M302.5 362.2h0M302.3 361.3h0M302.6 366.8h0M302.5 352.8h0M302.5 354.2h0M303.2 354.0h0M303.0 354.1h0M303.4 377.2h0M303.3 357.8h0M303.5 359.8h0M303.6 372.6h0M303.6 372.6h0M303.6 352.1h0M303.4 390.7h0M304.0 370.8h0M304.1 363.3h0M304.1 370.8h0M304.0 377.6h0M304.0 374.0h0M304.0 365.5h0M304.0 382.6h0M304.7 370.9h0M304.6 358.1h0M304.5 378.7h0M305.1 369.3h0M305.1 351.9h0M305.0 375.1h0M305.1 359.3h0M305.0 354.9h0M305.0 377.6h0M305.1 361.2h0M305.3 376.4h0M305.6 363.7h0M305.7 368.7h0M305.5 373.5h0M305.3 352.0h0M305.3 374.2h0M305.6 376.0h0M306.1 367.4h0M305.9 374.5h0M306.1 374.0h0M305.9 363.5h0M305.9 359.4h0M306.1 383.5h0M306.4 356.2h0M306.5 377.0h0M306.7 359.6h0M306.4 350.3h0M306.6 381.9h0M307.2 365.9h0M307.1 358.8h0M306.8 350.0h0M307.4 356.2h0M307.6 349.5h0M307.3 373.9h0M307.5 355.6h0M307.5 387.8h0M307.9 375.0h0M308.1 363.8h0M308.1 350.9h0M308.3 355.8h0M309.2 364.7h0M309.0 375.8h0M309.2 357.4h0M308.9 377.7h0M309.7 359.2h0M309.9 353.6h0M310.2 353.6h0M310.7 360.2h0M310.5 359.6h0M310.5 348.7h0M310.3 372.7h0M310.7 366.5h0M310.5 354.6h0M310.5 391.0h0M310.9 349.0h0M311.2 350.3h0M311.1 375.6h0M311.2 373.7h0M310.8 361.0h0M311.4 358.9h0M311.6 360.9h0M311.5 352.1h0M311.3 349.2h0M311.3 389.1h0M312.2 350.8h0M311.9 348.7h0M312.1 374.1h0M312.2 387.9h0M312.4 373.2h0M312.4 368.1h0M312.7 373.9h0M312.7 348.6h0M312.4 367.0h0M313.0 368.2h0M313.2 358.0h0M313.2 351.2h0M313.1 349.6h0M312.9 362.4h0M312.9 371.1h0M313.1 388.7h0M313.6 369.2h0M313.9 374.4h0M314.2 348.6h0M314.2 362.1h0M314.0 376.0h0M313.8 376.5h0M314.5 361.4h0M314.4 357.5h0M314.5 359.0h0M314.3 351.5h0M314.6 370.8h0M314.6 347.2h0M314.8 368.3h0M315.2 360.7h0M314.9 366.3h0M315.1 368.7h0M315.0 358.7h0M315.0 361.8h0M315.2 349.7h0M314.8 357.9h0M315.7 350.8h0M315.3 375.4h0M315.5 348.1h0M315.7 354.5h0M315.3 361.1h0M315.7 364.0h0M315.7 364.0h0M315.3 345.4h0M315.8 364.8h0M315.9 355.3h0M316.2 362.6h0M316.7 347.7h0M316.6 361.3h0M317.1 364.5h0M317.2 359.1h0M317.0 354.5h0M317.0 363.8h0M317.0 369.0h0M317.0 380.5h0M317.2 378.6h0M317.3 359.0h0M317.4 370.3h0M317.3 347.8h0M317.7 352.3h0M317.8 374.6h0M317.8 372.0h0M318.1 366.3h0M318.2 367.1h0M317.8 370.0h0M317.9 366.8h0M318.2 344.2h0M318.4 348.2h0M318.6 369.2h0M318.7 354.9h0M318.4 360.0h0M318.5 343.5h0M319.1 362.5h0M319.2 348.9h0M319.0 351.9h0M318.9 358.2h0M319.2 350.1h0M319.2 352.4h0M318.9 365.2h0M318.9 354.0h0M319.2 350.3h0M319.5 357.9h0M319.6 347.7h0M319.5 365.3h0M319.5 383.6h0M320.2 364.8h0M319.9 367.5h0M319.9 352.2h0M319.8 350.6h0M320.0 356.8h0M319.8 365.6h0M320.1 358.2h0M320.1 346.7h0M320.0 382.4h0M320.2 379.1h0M320.2 387.5h0M319.9 374.6h0M320.3 365.7h0M320.5 374.0h0M320.7 351.0h0M320.4 359.1h0M320.9 373.1h0M321.0 348.2h0M321.0 350.4h0M320.8 358.2h0M320.8 346.7h0M321.2 364.1h0M321.2 345.4h0M320.9 376.1h0M321.6 371.2h0M321.7 347.9h0M321.6 361.1h0M321.9 354.1h0M321.9 371.6h0M322.2 360.6h0M322.2 349.2h0M321.9 346.7h0M322.4 359.0h0M322.5 347.0h0M322.7 370.1h0M322.3 391.3h0M323.0 348.4h0M323.2 368.2h0M323.2 356.4h0M323.2 374.1h0M323.6 350.2h0M323.5 353.6h0M323.3 371.7h0M323.6 372.9h0M323.3 339.0h0M324.0 372.4h0M323.9 368.5h0M324.2 370.8h0M324.1 359.0h0M324.0 355.5h0M324.1 361.6h0M323.8 355.3h0M324.2 357.3h0M324.2 359.9h0M323.9 351.9h0M324.6 368.6h0M324.5 360.9h0M324.4 362.0h0M324.3 356.4h0M324.7 365.8h0M324.3 364.5h0M324.5 371.4h0M324.4 379.2h0M324.5 377.9h0M324.8 347.0h0M324.9 365.3h0M324.8 344.9h0M325.3 361.0h0M325.6 365.6h0M325.6 392.1h0M325.7 382.3h0M325.9 349.2h0M326.1 355.3h0M326.1 359.1h0M325.9 370.5h0M326.2 369.4h0M326.1 358.5h0M325.9 354.7h0M326.0 362.4h0M325.8 370.0h0M326.1 343.7h0M326.4 362.8h0M326.3 365.7h0M326.4 368.6h0M326.3 347.5h0M326.7 361.7h0M326.5 358.8h0M326.4 361.7h0M326.5 355.5h0M326.4 353.9h0M326.5 351.3h0M326.3 375.5h0M326.7 373.6h0M327.0 359.4h0M327.0 358.7h0M326.9 373.1h0M327.2 375.3h0M327.7 348.5h0M327.3 347.9h0M327.3 346.4h0M327.5 370.7h0M327.9 345.8h0M328.0 357.9h0M328.0 367.4h0M328.2 372.3h0M328.0 370.8h0M328.0 356.7h0M328.0 377.6h0M328.7 351.6h0M328.6 366.3h0M328.3 361.5h0M328.7 374.0h0M328.8 356.8h0M328.8 363.3h0M328.9 362.9h0M328.9 352.1h0M329.2 363.4h0M328.8 358.7h0M329.1 355.1h0M328.9 368.3h0M328.8 350.6h0M329.7 345.7h0M329.4 353.0h0M329.7 343.3h0M329.6 342.7h0M329.4 372.7h0M330.0 346.3h0M329.8 357.5h0M330.0 354.4h0M329.9 351.9h0M329.9 356.5h0M330.2 365.4h0M329.9 391.6h0M330.7 358.3h0M330.5 368.7h0M330.5 363.2h0M330.4 344.2h0M330.3 375.3h0M331.2 348.2h0M331.1 344.6h0M330.8 349.1h0M331.2 346.0h0M331.2 346.9h0M330.9 338.1h0M331.0 379.5h0M330.9 384.3h0M331.6 354.3h0M331.5 364.5h0M331.7 372.1h0M331.5 341.4h0M331.8 378.3h0M332.2 385.5h0M332.7 353.7h0M332.5 346.0h0M332.5 347.8h0M332.3 372.7h0M332.7 381.0h0M333.0 365.3h0M332.8 353.6h0M333.0 370.0h0M333.2 356.6h0M333.4 364.2h0M333.4 355.6h0M333.5 351.1h0M333.6 352.6h0M333.5 358.5h0M333.4 371.0h0M333.7 342.9h0M333.5 373.4h0M333.8 353.3h0M334.0 344.7h0M333.8 355.5h0M333.8 344.7h0M334.1 340.6h0M334.4 344.9h0M334.7 356.3h0M334.3 355.3h0M334.5 357.2h0M334.8 360.7h0M334.9 371.1h0M335.1 362.7h0M334.9 365.2h0M334.9 347.5h0M335.1 344.0h0M334.8 354.8h0M334.8 352.7h0M335.2 377.2h0M335.1 373.9h0M335.6 365.0h0M335.7 346.6h0M335.5 345.1h0M335.7 354.6h0M335.7 359.8h0M335.5 362.8h0M335.7 367.2h0M335.6 341.8h0M335.8 348.1h0M336.0 353.4h0M336.0 371.1h0M336.0 357.7h0M335.8 360.6h0M336.2 346.8h0M336.2 346.4h0M336.3 353.3h0M336.8 357.3h0M337.1 368.9h0M337.2 344.2h0M337.1 358.1h0M337.2 343.1h0M337.7 368.6h0M337.7 358.4h0M337.4 359.5h0M337.6 346.6h0M337.4 358.6h0M337.6 376.8h0M337.3 379.0h0M338.1 351.7h0M338.1 368.9h0M338.0 351.8h0M338.2 353.5h0M338.1 343.3h0M338.1 353.8h0M337.8 355.0h0M338.5 370.5h0M338.4 359.2h0M338.3 347.0h0M338.5 363.2h0M338.6 344.4h0M338.7 349.7h0M338.5 367.7h0M338.5 340.9h0M338.7 374.6h0M339.0 342.8h0M339.0 358.0h0M338.8 380.7h0M339.5 362.6h0M339.6 349.1h0M339.5 343.5h0M339.3 363.5h0M339.3 361.2h0M339.5 385.3h0M340.0 359.8h0M340.1 362.4h0M340.0 360.6h0M340.0 364.7h0M339.9 370.7h0M339.8 373.7h0M340.4 367.6h0M340.7 345.0h0M340.6 360.4h0M340.7 368.0h0M340.7 371.4h0M340.9 361.3h0M341.1 347.4h0M341.0 358.6h0M340.9 369.2h0M341.1 377.4h0M341.5 355.1h0M341.7 343.6h0M341.5 368.2h0M341.3 344.7h0M341.6 355.3h0M341.3 347.6h0M342.2 368.5h0M342.0 363.9h0M341.8 347.1h0M342.1 358.0h0M342.0 350.8h0M342.2 353.0h0M342.2 344.8h0M341.9 373.2h0M342.3 352.2h0M342.4 357.6h0M342.6 355.0h0M342.3 342.8h0M342.6 364.6h0M342.5 373.9h0M342.9 358.0h0M343.1 369.3h0M343.1 369.5h0M342.8 351.2h0M343.5 346.7h0M343.6 346.3h0M343.6 346.8h0M343.5 367.1h0M343.4 367.5h0M343.6 349.7h0M343.6 342.8h0M343.4 356.5h0M343.3 358.8h0M343.3 376.5h0M343.8 368.4h0M343.9 367.4h0M343.8 368.1h0M344.1 345.0h0M344.0 368.7h0M344.1 361.9h0M344.3 343.8h0M344.4 362.9h0M344.7 366.6h0M344.4 371.3h0M344.9 366.9h0M344.9 348.1h0M344.9 354.0h0M344.9 357.6h0M345.1 338.6h0M345.5 345.2h0M345.3 364.3h0M345.4 356.6h0M345.4 359.3h0M345.5 365.4h0M345.3 353.2h0M345.3 375.9h0M346.1 345.0h0M345.8 343.6h0M345.8 347.2h0M346.0 342.9h0M346.2 366.3h0M345.8 371.1h0M346.5 344.7h0M346.5 343.9h0M346.3 360.1h0M347.2 349.5h0M347.1 368.0h0M347.1 359.2h0M346.8 369.2h0M347.0 343.1h0M347.2 349.5h0M347.0 340.5h0M347.5 357.6h0M347.3 365.9h0M348.0 359.4h0M348.2 352.2h0M348.0 362.9h0M347.9 361.2h0M348.3 348.2h0M348.4 342.1h0M348.4 345.4h0M348.4 357.3h0M348.4 341.2h0M348.6 360.2h0M348.7 383.6h0M349.0 360.9h0M349.2 351.6h0M349.1 364.6h0M349.2 353.1h0M349.1 360.5h0M349.1 350.7h0M349.4 346.7h0M349.6 343.8h0M349.3 359.9h0M349.6 351.5h0M349.3 372.9h0M350.2 363.7h0M350.2 340.9h0M350.0 343.8h0M350.2 369.3h0M350.5 348.9h0M350.7 349.7h0M350.5 362.4h0M350.4 368.0h0M350.4 342.2h0M350.6 347.1h0M350.7 351.6h0M350.5 341.5h0M351.0 341.2h0M350.9 365.9h0M351.2 337.9h0M351.7 345.5h0M351.7 346.5h0M351.6 360.5h0M351.4 349.1h0M351.4 342.1h0M351.9 346.7h0M351.8 359.2h0M352.2 359.0h0M352.0 342.9h0M352.1 343.9h0M351.9 339.6h0M352.5 342.3h0M352.7 382.1h0M353.1 358.0h0M353.2 363.7h0M352.9 370.0h0M353.0 370.8h0M353.4 362.9h0M353.3 354.9h0M353.3 351.9h0M353.4 347.4h0M353.7 342.4h0M354.0 359.6h0M353.8 364.6h0M354.2 334.9h0M353.9 369.6h0M354.3 361.6h0M354.6 358.3h0M354.4 340.0h0M354.6 365.3h0M354.7 347.3h0M354.6 338.2h0M355.1 353.3h0M355.0 344.7h0M354.8 363.1h0M355.1 358.2h0M355.2 346.3h0M355.2 353.3h0M355.1 383.1h0M355.5 347.8h0M355.5 366.7h0M355.7 352.1h0M355.4 352.8h0M355.6 341.3h0M355.5 361.6h0M356.0 353.0h0M356.0 352.2h0M356.1 343.1h0M355.8 375.2h0M356.3 366.9h0M356.6 361.2h0M356.3 341.2h0M356.7 357.1h0M356.8 353.8h0M356.8 344.1h0M357.0 351.7h0M357.0 345.1h0M356.8 349.8h0M357.2 351.7h0M357.2 355.1h0M357.4 355.3h0M357.7 360.8h0M357.5 355.3h0M357.6 363.8h0M357.5 362.8h0M357.3 369.1h0M357.6 354.3h0M357.4 336.2h0M357.6 336.3h0M358.2 366.8h0M358.0 353.7h0M357.8 363.8h0M358.6 362.7h0M358.7 349.7h0M358.6 368.5h0M358.4 352.2h0M359.1 362.3h0M359.0 365.0h0M359.0 355.8h0M359.6 339.5h0M359.5 346.3h0M359.5 340.7h0M359.7 351.7h0M359.6 362.8h0M359.6 343.6h0M359.4 352.2h0M359.7 361.5h0M359.7 360.8h0M359.5 333.9h0M360.2 350.2h0M360.2 354.4h0M359.8 346.8h0M360.0 358.6h0M359.8 361.1h0M360.6 354.8h0M360.4 346.2h0M360.3 359.9h0M360.5 345.7h0M360.5 356.0h0M360.5 363.8h0M360.5 360.1h0M360.4 369.3h0M360.9 354.9h0M360.9 353.7h0M361.0 354.1h0M361.1 364.9h0M360.8 351.0h0M360.8 354.9h0M361.2 337.3h0M361.7 343.7h0M361.3 348.2h0M361.4 366.7h0M361.6 353.6h0M361.7 338.9h0M361.5 365.6h0M361.7 336.8h0M361.8 350.6h0M361.9 362.8h0M362.1 346.0h0M362.1 361.4h0M362.3 342.3h0M362.7 343.6h0M362.6 356.4h0M362.5 342.7h0M363.2 359.4h0M362.8 362.4h0M362.9 350.8h0M362.9 363.0h0M363.1 347.4h0M363.0 345.2h0M362.9 336.4h0M363.3 354.8h0M363.3 358.3h0M363.7 344.1h0M363.3 339.1h0M363.3 350.6h0M363.4 368.7h0M363.4 370.3h0M363.8 349.3h0M364.1 356.4h0M363.8 348.7h0M364.2 356.5h0M364.4 355.6h0M364.4 352.1h0M364.6 350.7h0M364.7 352.0h0M364.7 347.5h0M364.4 365.8h0M364.9 361.1h0M365.1 364.4h0M365.2 341.7h0M365.0 343.7h0M365.1 341.7h0M365.2 346.3h0M364.9 359.0h0M365.2 373.1h0M365.4 362.1h0M365.3 350.8h0M365.3 357.9h0M365.4 340.5h0M365.5 345.1h0M366.1 347.0h0M365.9 361.8h0M366.0 348.1h0M365.9 342.3h0M365.9 351.1h0M365.8 333.9h0M366.6 345.9h0M366.5 339.5h0M366.7 343.2h0M366.7 355.5h0M366.7 352.0h0M366.7 355.0h0M366.7 350.2h0M366.5 381.8h0M367.1 365.3h0M366.8 350.1h0M367.1 344.7h0M367.2 369.5h0M367.5 347.9h0M367.4 340.3h0M367.4 343.9h0M367.7 344.3h0M367.7 366.9h0M367.3 353.8h0M367.8 353.5h0M368.2 346.7h0M368.2 351.5h0M368.1 358.2h0M368.1 331.1h0M368.6 339.1h0M369.1 362.7h0M368.8 360.3h0M369.1 365.7h0M369.2 351.7h0M368.9 353.3h0M369.1 340.9h0M369.2 358.4h0M369.6 344.4h0M369.4 354.5h0M369.7 362.8h0M370.1 365.9h0M369.8 354.2h0M370.2 348.3h0M370.6 343.3h0M370.4 362.0h0M370.7 342.4h0M370.5 358.8h0M370.6 349.1h0M370.6 334.2h0M370.3 368.9h0M370.6 378.3h0M371.0 357.1h0M371.1 364.2h0M371.0 338.8h0M370.9 358.6h0M371.0 337.5h0M371.2 366.6h0M371.4 359.8h0M371.4 338.8h0M371.3 357.9h0M371.3 359.5h0M371.4 339.4h0M372.2 339.2h0M371.8 353.0h0M372.5 346.1h0M372.6 355.6h0M372.5 348.5h0M372.3 364.5h0M372.3 365.8h0M372.5 367.2h0M372.5 343.4h0M372.9 357.3h0M373.1 357.6h0M373.3 363.9h0M373.6 341.1h0M373.9 356.3h0M373.9 360.1h0M374.0 341.5h0M373.8 342.5h0M373.8 342.7h0M373.8 364.7h0M374.0 338.7h0M374.1 365.8h0M374.1 370.2h0M374.6 347.5h0M374.3 354.4h0M374.4 364.9h0M374.3 337.0h0M374.4 363.1h0M374.7 377.1h0M374.8 338.6h0M375.1 343.3h0M375.2 345.5h0M375.2 340.6h0M374.8 356.1h0M374.9 338.0h0M375.0 356.9h0M375.3 348.3h0M375.5 338.5h0M375.4 367.7h0M375.9 360.1h0M376.2 357.1h0M376.2 361.8h0M375.9 349.6h0M375.9 360.5h0M376.0 364.9h0M376.0 341.6h0M376.0 335.0h0M376.7 363.5h0M376.6 337.8h0M376.7 353.2h0M376.7 351.1h0M376.5 367.1h0M376.5 331.8h0M376.8 337.2h0M377.1 342.8h0M377.2 353.1h0M377.5 363.4h0M377.3 349.7h0M377.5 350.0h0M378.1 349.8h0M377.8 346.5h0M377.8 332.4h0M378.3 367.0h0M378.5 363.4h0M378.6 344.1h0M379.1 361.8h0M379.2 343.5h0M378.8 361.1h0M378.8 347.4h0M379.2 342.9h0M379.2 352.9h0M378.9 356.8h0M379.6 341.4h0M379.3 357.3h0M379.5 343.7h0M379.3 332.0h0M379.7 329.3h0M380.0 352.3h0M380.2 352.0h0M379.9 354.1h0M380.1 339.8h0M380.2 363.5h0M379.8 343.9h0M380.0 336.0h0M380.4 347.8h0M380.4 347.0h0M380.5 341.7h0M380.3 355.4h0M380.8 342.7h0M381.0 367.1h0M380.9 363.9h0M381.2 352.5h0M380.8 342.8h0M381.3 345.4h0M381.7 352.4h0M381.4 346.3h0M381.3 343.0h0M381.5 359.2h0M381.4 365.9h0M381.3 350.8h0M381.3 351.9h0M382.2 360.3h0M382.1 337.7h0M382.2 344.3h0M381.9 344.1h0M382.2 336.8h0M382.0 344.6h0M381.8 346.8h0M382.1 339.6h0M382.2 333.8h0M382.6 343.8h0M382.7 358.6h0M382.4 347.7h0M382.3 362.3h0M383.2 360.1h0M382.8 349.3h0M383.2 337.5h0M383.2 351.7h0M383.2 337.7h0M382.8 346.0h0M383.7 362.0h0M383.7 350.4h0M383.4 355.2h0M383.4 358.8h0M383.6 365.5h0M383.7 370.8h0M383.8 355.3h0M383.9 351.1h0M384.0 346.0h0M383.8 369.2h0M384.0 376.3h0M384.7 365.4h0M384.5 361.8h0M384.3 335.3h0M384.4 347.4h0M384.4 336.5h0M384.6 358.0h0M384.7 361.7h0M384.4 349.1h0M384.7 372.9h0M385.0 335.3h0M385.1 358.1h0M384.8 360.7h0M385.0 342.1h0M385.1 365.1h0M384.8 344.9h0M385.2 348.7h0M385.0 369.0h0M385.3 339.6h0M385.7 366.5h0M385.5 347.9h0M385.4 362.1h0M385.7 349.4h0M385.5 341.5h0M386.0 344.7h0M385.8 346.6h0M386.1 356.5h0M386.2 342.0h0M386.2 330.0h0M386.4 342.7h0M386.5 351.7h0M386.6 337.3h0M386.7 356.4h0M386.5 335.6h0M386.5 345.5h0M387.2 361.9h0M386.9 357.4h0M387.1 345.9h0M387.0 358.2h0M387.0 342.8h0M387.2 360.8h0M386.9 330.8h0M387.6 347.4h0M387.6 359.8h0M387.4 339.0h0M387.4 358.2h0M387.7 363.7h0M387.6 356.0h0M387.3 339.2h0M387.7 337.5h0M387.6 350.1h0M387.6 336.8h0M387.5 350.9h0M387.3 344.8h0M388.2 357.2h0M387.8 341.2h0M388.0 358.8h0M388.7 356.1h0M388.6 335.7h0M388.7 337.3h0M388.6 338.2h0M389.0 363.4h0M388.8 338.5h0M388.8 359.1h0M388.8 344.8h0M388.8 364.3h0M389.6 363.6h0M389.6 340.4h0M389.7 358.9h0M389.4 347.6h0M389.7 365.1h0M389.3 348.1h0M389.4 351.5h0M389.9 354.6h0M390.1 345.0h0M390.0 343.5h0M390.0 342.0h0M390.1 339.0h0M390.1 335.4h0M390.0 350.6h0M389.8 330.3h0M390.2 375.9h0M390.5 351.1h0M390.4 354.4h0M390.4 356.2h0M390.7 357.6h0M390.6 354.7h0M390.3 328.9h0M390.4 330.0h0M391.1 361.2h0M391.2 363.0h0M391.0 347.4h0M391.1 343.2h0M391.2 357.8h0M391.1 353.4h0M391.4 351.1h0M391.5 357.2h0M391.7 344.6h0M391.6 362.0h0M391.9 343.3h0M392.0 345.9h0M392.1 358.6h0M392.2 339.9h0M392.1 329.7h0M392.1 329.2h0M392.3 350.4h0M392.4 344.4h0M392.7 348.2h0M392.4 335.4h0M392.6 363.8h0M392.4 348.6h0M392.4 378.1h0M393.2 362.6h0M393.0 335.1h0M393.1 350.7h0M393.5 350.6h0M393.6 355.8h0M393.3 361.4h0M393.7 344.0h0M393.4 338.2h0M393.4 330.1h0M394.1 333.0h0M393.9 356.5h0M393.8 331.9h0M394.5 335.9h0M394.5 354.1h0M394.4 344.8h0M394.5 350.1h0M394.6 350.2h0M394.4 339.2h0M394.3 325.5h0M394.3 328.3h0M395.2 348.9h0M395.2 353.8h0M395.0 356.7h0M395.1 352.5h0M394.8 331.5h0M395.6 363.7h0M395.7 335.2h0M395.3 343.5h0M395.6 374.4h0M396.0 340.5h0M395.9 334.7h0M396.2 349.7h0M395.8 334.0h0M396.6 359.2h0M396.3 348.4h0M396.6 358.3h0M396.4 355.5h0M396.6 341.9h0M396.6 372.0h0M396.9 361.1h0M396.8 359.8h0M396.9 354.6h0M396.9 360.6h0M397.2 361.3h0M397.1 340.1h0M396.8 330.6h0M397.1 367.1h0M397.7 336.3h0M397.5 354.3h0M397.7 363.3h0M397.3 355.5h0M397.5 341.9h0M397.4 354.1h0M397.4 363.1h0M397.6 336.3h0M397.6 320.5h0M397.6 374.9h0M398.2 364.4h0M398.1 335.0h0M398.2 351.8h0M398.2 340.1h0M398.1 333.2h0M398.0 349.2h0M398.2 332.0h0M397.8 328.6h0M398.3 364.5h0M398.6 363.9h0M398.7 352.5h0M398.6 343.7h0M398.7 360.1h0M398.5 370.6h0M399.0 332.2h0M398.8 354.9h0M398.9 334.3h0M399.1 339.7h0M399.0 351.3h0M399.2 348.8h0M399.1 333.2h0M398.9 351.6h0M398.8 328.2h0M399.6 351.0h0M399.4 343.2h0M399.3 357.7h0M399.9 339.8h0M400.2 341.0h0M399.9 338.1h0M399.8 329.1h0M400.6 341.2h0M400.6 339.0h0M400.4 360.1h0M400.6 355.9h0M400.7 353.7h0M400.8 363.2h0M401.1 353.9h0M401.2 350.6h0M400.9 327.0h0M401.2 365.5h0M401.5 353.6h0M402.0 348.5h0M401.8 353.9h0M402.1 341.2h0M401.8 336.9h0M402.2 356.8h0M401.9 348.7h0M402.3 334.6h0M402.5 334.5h0M402.5 348.1h0M402.4 353.0h0M402.6 348.5h0M402.9 354.7h0M403.0 364.3h0M402.9 361.7h0M403.1 350.3h0M403.1 324.9h0M403.5 354.0h0M403.5 354.4h0M403.5 352.1h0M403.7 354.8h0M403.4 343.9h0M403.4 336.5h0M403.4 340.1h0M403.5 362.6h0M403.6 335.9h0M403.3 341.4h0M403.7 338.2h0M404.0 345.9h0M404.1 364.0h0M404.2 331.3h0M404.0 361.8h0M404.0 354.7h0M404.1 348.4h0M403.9 363.5h0M404.0 327.1h0M404.2 327.6h0M403.9 368.7h0M404.7 340.5h0M404.3 361.0h0M404.3 340.3h0M404.5 341.6h0M404.4 338.7h0M404.5 339.6h0M404.5 342.6h0M404.4 342.1h0M404.3 354.1h0M404.6 362.3h0M404.7 361.1h0M404.8 355.4h0M404.9 356.3h0M405.2 343.2h0M405.0 369.5h0M405.4 357.2h0M405.6 363.2h0M405.3 334.7h0M405.6 345.0h0M405.6 360.1h0M405.3 360.0h0M405.9 338.8h0M406.0 335.3h0M406.0 332.2h0M406.2 345.7h0M405.8 346.1h0M406.2 327.7h0M406.3 330.4h0M406.3 336.2h0M406.4 336.5h0M406.5 342.2h0M406.3 325.7h0M406.4 364.7h0M406.9 338.2h0M407.0 330.1h0M407.2 362.2h0M407.0 362.8h0M407.1 364.1h0M406.8 369.9h0M407.3 363.6h0M407.4 360.0h0M407.6 356.2h0M407.6 334.7h0M407.6 319.0h0M407.9 363.5h0M408.6 333.9h0M408.4 350.7h0M408.5 354.3h0M408.3 356.6h0M408.5 357.4h0M408.7 334.8h0M409.1 336.0h0M409.0 346.8h0M409.2 355.2h0M409.0 351.4h0M409.0 331.0h0M409.2 348.8h0M409.1 353.2h0M409.5 335.3h0M409.7 353.0h0M409.3 357.3h0M409.6 363.1h0M409.3 350.9h0M409.7 356.9h0M409.7 333.5h0M409.5 337.4h0M409.3 368.6h0M410.0 330.4h0M410.2 335.5h0M410.0 333.8h0M410.2 338.9h0M409.9 350.4h0M410.0 333.6h0M410.1 326.5h0M410.7 330.4h0M410.5 332.7h0M410.6 336.6h0M410.5 337.3h0M410.6 347.2h0M410.5 344.5h0M410.9 348.6h0M410.8 337.0h0M411.1 338.9h0M411.1 346.3h0M411.2 321.0h0M411.5 342.7h0M411.3 337.1h0M411.5 354.2h0M411.5 340.8h0M411.7 332.4h0M411.7 345.6h0M411.4 327.6h0M412.2 335.1h0M411.8 346.5h0M411.8 355.9h0M412.1 322.2h0M411.9 326.7h0M412.3 340.4h0M412.3 340.7h0M412.4 337.6h0M412.4 336.0h0M412.4 362.4h0M412.6 357.0h0M412.7 328.3h0M412.8 357.0h0M413.0 359.6h0M413.5 358.0h0M413.3 333.3h0M413.3 337.4h0M413.7 351.6h0M413.5 336.2h0M413.3 323.0h0M413.6 367.5h0M414.0 335.8h0M414.1 359.7h0M413.8 362.9h0M414.2 339.6h0M414.3 341.2h0M414.5 349.8h0M414.7 328.9h0M414.5 348.6h0M414.4 355.1h0M414.6 356.2h0M414.5 335.0h0M414.5 328.9h0M414.7 322.8h0M414.6 325.0h0M414.3 325.6h0M414.3 368.0h0M415.2 349.4h0M414.8 334.2h0M414.9 366.1h0M415.4 351.9h0M415.5 329.2h0M415.7 341.4h0M415.7 351.2h0M415.6 348.0h0M415.5 342.2h0M415.5 369.6h0M415.6 364.7h0M416.2 338.1h0M415.9 353.0h0M416.1 351.1h0M415.9 362.7h0M416.1 362.7h0M415.9 337.0h0M416.1 335.4h0M415.9 328.2h0M416.3 354.6h0M416.3 362.2h0M416.3 338.1h0M416.6 346.6h0M416.9 346.3h0M417.2 338.3h0M417.1 352.3h0M417.0 341.0h0M417.0 362.6h0M417.7 339.0h0M417.4 331.5h0M417.3 352.0h0M417.7 345.1h0M417.6 337.0h0M417.9 354.9h0M418.2 363.0h0M418.0 330.4h0M417.9 345.4h0M417.8 332.1h0M418.0 352.8h0M418.2 338.5h0M418.1 337.9h0M418.4 355.4h0M418.5 342.5h0M418.4 356.7h0M418.3 363.3h0M418.4 339.2h0M418.7 359.5h0M418.5 349.5h0M418.5 373.7h0M418.8 340.1h0M419.0 355.1h0M419.2 360.0h0M418.9 340.5h0M419.5 362.0h0M419.7 334.8h0M419.3 336.9h0M419.6 355.0h0M419.6 364.0h0M419.6 365.3h0M419.9 360.1h0M420.1 347.4h0M420.1 344.7h0M420.2 342.7h0M419.9 349.6h0M419.9 342.4h0M420.2 355.9h0M420.2 345.4h0M420.3 343.6h0M420.7 343.7h0M420.4 350.6h0M420.6 370.8h0M420.8 331.1h0M420.9 332.6h0M420.8 341.9h0M420.9 345.9h0M420.9 338.8h0M420.9 333.0h0M421.1 333.2h0M421.6 357.9h0M421.6 349.1h0M421.7 342.8h0M421.6 346.5h0M422.1 327.2h0M422.1 343.9h0M422.1 335.9h0M421.9 363.3h0M421.9 343.3h0M422.2 350.8h0M422.1 329.6h0M422.2 354.4h0M421.8 348.4h0M421.9 335.3h0M421.9 360.9h0M422.1 364.7h0M422.5 355.0h0M422.4 334.7h0M422.6 342.4h0M422.5 331.4h0M422.6 353.7h0M422.4 363.0h0M422.4 327.8h0M422.4 339.2h0M422.6 356.2h0M422.6 354.7h0M422.5 354.0h0M422.6 337.9h0M423.1 338.3h0M422.9 345.7h0M423.2 361.4h0M423.1 352.7h0M422.8 348.5h0M423.2 368.6h0M423.7 354.4h0M423.5 352.1h0M423.3 329.6h0M423.8 346.9h0M424.0 345.5h0M424.1 354.1h0M424.1 359.8h0M423.9 359.0h0M423.8 356.5h0M423.8 346.8h0M424.0 342.9h0M424.2 344.0h0M424.2 324.6h0M424.0 324.6h0M424.4 336.2h0M424.7 331.6h0M424.7 336.0h0M424.6 349.0h0M424.7 337.4h0M424.7 357.3h0M425.2 331.4h0M425.1 362.8h0M425.6 355.5h0M425.4 334.9h0M425.6 339.2h0M425.7 352.5h0M426.1 340.9h0M426.2 351.1h0M425.8 353.3h0M426.0 342.9h0M426.2 358.8h0M426.0 353.4h0M426.2 368.8h0M426.3 326.8h0M426.6 349.4h0M426.6 349.9h0M426.3 352.6h0M426.5 346.4h0M426.3 340.4h0M426.7 342.9h0M426.6 329.7h0M427.1 360.5h0M426.9 329.4h0M427.2 362.4h0M426.9 344.2h0M427.2 350.5h0M426.9 337.5h0M427.0 336.2h0M427.0 328.5h0M427.4 327.4h0M427.3 347.7h0M427.5 342.1h0M427.5 335.0h0M427.7 359.3h0M427.5 356.8h0M427.7 342.4h0M427.3 341.3h0M427.5 364.6h0M427.8 341.8h0M428.2 343.1h0M428.0 359.4h0M428.2 365.7h0M428.3 349.6h0M428.6 344.6h0M428.6 347.5h0M429.1 334.8h0M429.1 339.1h0M428.9 344.7h0M428.8 353.0h0M428.8 338.8h0M428.8 335.4h0M428.8 331.2h0M429.2 327.4h0M428.9 348.7h0M428.9 355.0h0M429.1 365.3h0M429.5 353.2h0M429.7 340.6h0M429.3 359.2h0M429.6 343.3h0M429.7 361.8h0M429.3 342.4h0M429.4 353.4h0M429.4 355.6h0M430.0 342.0h0M430.2 341.2h0M430.5 351.9h0M430.4 354.7h0M431.0 333.0h0M431.1 359.7h0M430.8 358.9h0M430.9 327.3h0M431.0 355.0h0M431.0 327.7h0M431.1 364.6h0M431.4 327.9h0M431.6 329.3h0M432.2 354.1h0M431.9 353.2h0M432.2 342.1h0M432.2 330.6h0M432.0 339.5h0M432.4 346.8h0M432.6 350.6h0M432.7 360.5h0M432.4 344.3h0M432.6 342.4h0M432.4 357.4h0M432.6 352.9h0M432.6 324.5h0M432.9 350.7h0M433.2 344.6h0M433.1 336.6h0M433.1 336.3h0M432.8 336.9h0M433.2 343.3h0M433.2 345.2h0M433.3 346.1h0M433.7 341.1h0M433.6 338.5h0M433.6 329.0h0M433.6 358.7h0M433.4 343.4h0M433.4 342.4h0M434.1 348.5h0M434.1 363.1h0M433.8 360.8h0M433.9 352.7h0M433.9 340.7h0M434.1 343.5h0M434.2 333.8h0M434.1 336.6h0M433.9 369.2h0M434.7 354.2h0M434.6 356.7h0M434.5 337.2h0M434.5 358.6h0M434.5 363.4h0M434.3 358.6h0M434.7 353.5h0M434.5 359.6h0M434.3 366.0h0M435.1 339.2h0M435.1 350.9h0M434.9 331.3h0M435.1 358.5h0M435.2 357.6h0M434.8 334.0h0M435.1 343.0h0M435.1 350.7h0M435.2 358.7h0M435.5 357.3h0M435.6 362.3h0M435.4 333.5h0M435.6 361.2h0M435.3 344.0h0M435.4 333.5h0M435.5 351.3h0M435.4 351.1h0M435.7 332.4h0M435.9 354.6h0M436.0 349.6h0M435.9 342.2h0M435.8 347.0h0M436.1 349.7h0M436.1 342.2h0M436.0 335.8h0M436.1 322.3h0M435.9 364.4h0M436.2 368.8h0M436.1 365.2h0M436.3 362.4h0M436.7 341.9h0M436.4 357.0h0M436.6 337.9h0M436.5 339.4h0M437.2 339.3h0M436.8 326.9h0M437.1 332.3h0M437.0 344.8h0M437.2 334.1h0M437.2 362.6h0M437.0 353.5h0M437.2 341.5h0M437.0 331.7h0M437.2 345.3h0M437.5 333.6h0M437.5 326.8h0M437.5 327.6h0M437.6 347.4h0M438.1 358.5h0M437.8 329.0h0M438.0 331.3h0M438.1 348.8h0M438.0 360.6h0M438.3 354.1h0M438.5 336.3h0M438.5 362.9h0M438.3 350.3h0M439.2 338.1h0M438.8 344.8h0M438.8 335.3h0M438.8 333.0h0M438.9 347.0h0M439.1 352.8h0M438.9 358.6h0M439.1 335.0h0M438.9 357.7h0M439.0 350.0h0M438.8 318.7h0M439.4 356.5h0M439.5 335.1h0M439.7 363.2h0M439.8 333.3h0M440.0 356.6h0M440.0 339.6h0M440.2 351.0h0M439.8 343.8h0M440.0 347.5h0M440.1 339.7h0M440.2 333.5h0M440.0 346.8h0M440.1 330.8h0M439.8 347.2h0M440.2 341.1h0M440.4 336.9h0M440.4 332.0h0M440.4 344.9h0M440.5 346.5h0M441.1 343.8h0M441.2 344.4h0M441.0 359.0h0M440.9 334.0h0M441.0 354.2h0M441.2 361.0h0M440.8 348.5h0M440.8 361.2h0M441.0 372.1h0M441.4 330.6h0M441.7 329.3h0M441.4 350.2h0M441.6 329.6h0M441.7 337.1h0M441.7 324.7h0M441.5 364.0h0M442.1 360.7h0M442.0 334.1h0M442.1 350.9h0M441.9 326.1h0M441.9 357.5h0M442.2 346.7h0M441.9 333.0h0M442.1 337.9h0M442.1 331.2h0M442.2 324.2h0M442.6 344.2h0M442.4 330.3h0M442.3 342.6h0M442.4 337.4h0M442.7 320.2h0M442.8 340.8h0M443.2 348.4h0M443.0 351.5h0M442.9 351.1h0M443.1 348.7h0M442.9 330.6h0M443.2 360.6h0M443.2 337.9h0M443.2 339.8h0M443.1 328.9h0M443.2 345.6h0M443.0 363.6h0M443.1 373.0h0M443.6 341.7h0M443.6 347.5h0M443.4 326.0h0M443.6 329.5h0M443.3 344.4h0M443.7 354.2h0M443.7 354.4h0M443.7 354.3h0M443.8 355.9h0M443.9 338.1h0M444.0 354.6h0M443.9 350.6h0M443.8 339.4h0M444.0 341.1h0M443.8 344.0h0M443.9 330.1h0M444.0 347.1h0M444.2 337.9h0M444.5 348.9h0M444.6 342.9h0M444.7 347.0h0M444.5 332.6h0M444.6 320.9h0M444.8 330.5h0M445.1 328.1h0M444.9 326.1h0M444.9 360.2h0M445.6 353.4h0M445.5 336.5h0M445.6 334.2h0M445.7 347.8h0M445.6 358.7h0M445.7 342.0h0M445.4 362.1h0M445.3 364.2h0M445.9 348.9h0M446.1 329.2h0M446.2 323.6h0M446.0 327.7h0M445.9 353.8h0M446.4 350.2h0M446.7 349.2h0M446.4 354.6h0M446.5 357.6h0M446.3 335.0h0M446.3 329.2h0M447.0 338.9h0M446.8 338.4h0M447.2 352.1h0M446.8 333.9h0M447.2 332.6h0M447.1 332.4h0M446.8 338.8h0M446.9 321.0h0M447.4 339.0h0M447.7 352.5h0M447.3 333.2h0M447.6 323.9h0M447.3 357.6h0M447.4 330.7h0M447.5 356.8h0M447.3 350.1h0M447.3 346.9h0M447.9 328.2h0M448.1 332.1h0M448.2 362.3h0M448.7 351.6h0M448.3 354.5h0M448.5 344.7h0M448.7 330.0h0M449.0 333.1h0M449.0 346.8h0M448.9 355.7h0M449.2 345.1h0M449.0 331.2h0M449.5 355.0h0M449.6 336.0h0M449.5 325.3h0M449.4 321.5h0M449.8 355.7h0M450.2 353.2h0M450.2 339.6h0M450.0 340.0h0M449.9 339.3h0M449.8 349.4h0M450.1 363.5h0M450.4 344.8h0M450.7 328.1h0M450.5 338.5h0M450.5 337.3h0M450.7 329.6h0M451.1 337.6h0M451.2 333.4h0M451.2 355.9h0M450.8 330.3h0M451.1 328.3h0M451.3 329.1h0M451.7 346.3h0M451.5 352.8h0M451.5 324.8h0M451.3 334.6h0M451.8 334.5h0M452.1 346.2h0M451.8 346.3h0M451.8 356.3h0M451.8 326.7h0M452.2 324.9h0M452.1 351.4h0M452.5 333.2h0M452.3 329.6h0M452.4 328.6h0M452.5 357.2h0M453.0 340.4h0M452.8 331.3h0M453.1 348.3h0M452.8 353.4h0M453.1 352.1h0M452.8 353.7h0M452.8 346.6h0M453.5 328.5h0M453.3 352.1h0M453.6 345.7h0M453.5 355.3h0M453.7 337.1h0M453.4 352.7h0M453.5 355.1h0M453.8 345.6h0M454.0 347.0h0M453.8 344.2h0M454.2 351.7h0M454.2 325.2h0M453.8 344.7h0M453.8 329.3h0M454.0 363.5h0M454.4 323.4h0M454.6 335.6h0M454.6 334.4h0M454.6 354.1h0M454.5 338.1h0M454.8 350.0h0M455.0 331.3h0M455.0 342.5h0M455.2 330.6h0M455.1 352.1h0M454.8 350.7h0M454.9 327.4h0M454.8 326.6h0M454.8 352.7h0M454.8 359.5h0M455.7 332.3h0M455.4 326.8h0M456.2 333.5h0M455.9 336.2h0M456.2 351.2h0M456.6 345.3h0M456.6 338.8h0M456.3 332.3h0M456.3 334.1h0M456.4 323.0h0M456.8 343.6h0M457.6 326.9h0M457.4 330.6h0M457.5 346.8h0M458.1 337.2h0M457.9 330.5h0M457.8 323.4h0M458.2 316.0h0M458.1 355.6h0M458.6 345.3h0M458.6 321.8h0M458.7 350.2h0M458.7 339.6h0M458.5 347.3h0M458.7 328.3h0M458.3 339.8h0M458.6 333.0h0M458.7 328.5h0M458.6 352.0h0M459.0 321.6h0M458.8 327.2h0M459.2 323.4h0M459.1 351.3h0M459.4 347.8h0M459.4 347.1h0M459.5 343.0h0M459.5 325.3h0M459.6 321.2h0M459.7 338.0h0M459.3 354.7h0M459.9 321.3h0M459.8 325.1h0M460.1 333.5h0M460.0 343.6h0M459.9 342.8h0M460.3 323.1h0M460.5 326.5h0M460.6 325.9h0M461.0 326.5h0M461.0 333.2h0M460.9 336.1h0M461.1 338.4h0M461.0 330.1h0M461.1 347.6h0M461.3 339.7h0M461.7 327.4h0M461.9 337.2h0M461.9 324.1h0M461.9 323.1h0M462.1 336.6h0M461.9 327.0h0M461.9 337.6h0M461.9 318.9h0M462.7 321.2h0M462.3 332.8h0M462.6 326.3h0M462.3 325.3h0M463.0 332.2h0M463.1 334.9h0M463.6 326.2h0M463.7 336.7h0M463.7 327.6h0M463.5 319.2h0M463.3 330.1h0M463.5 330.6h0M464.0 342.2h0M464.1 325.2h0M464.1 330.1h0M463.8 325.6h0M464.7 322.6h0M464.3 328.0h0M464.3 321.3h0M465.0 344.0h0M465.2 344.4h0M464.9 346.0h0M465.5 333.9h0M465.4 328.7h0M465.6 336.1h0M465.6 314.2h0M465.9 343.7h0M465.8 339.7h0M465.9 326.6h0M465.8 348.3h0M466.7 343.4h0M466.8 323.7h0M467.5 330.6h0M467.7 318.4h0M467.6 325.9h0M467.7 328.1h0M467.6 316.5h0M468.2 338.5h0M468.2 337.5h0M467.9 339.0h0M468.6 327.1h0M468.3 324.9h0M468.7 326.1h0M468.6 340.0h0M468.5 323.9h0M468.6 330.3h0M469.1 317.0h0M469.1 328.3h0M468.9 328.1h0M468.9 322.0h0M469.0 341.5h0M469.7 335.0h0M469.4 324.8h0M469.8 316.6h0M470.3 326.8h0M470.4 326.3h0M470.5 323.5h0M470.7 323.9h0M470.9 324.1h0M471.0 317.9h0M470.8 339.0h0M470.9 315.3h0M471.6 327.5h0M471.5 318.9h0M471.9 327.3h0M471.8 338.2h0M472.1 331.1h0M472.5 327.6h0M472.7 316.1h0M473.2 314.1h0M473.7 323.3h0M474.0 323.7h0M473.9 321.4h0M474.4 317.2h0M474.4 336.9h0M474.6 316.4h0M474.3 319.5h0M474.3 329.8h0M474.5 339.3h0M474.9 314.9h0M474.8 334.4h0M475.7 328.1h0M475.3 326.5h0M476.2 329.7h0M475.8 316.8h0M476.2 319.0h0M476.0 329.6h0M475.9 329.0h0M476.9 331.1h0M477.5 337.9h0M477.9 332.5h0M477.9 332.1h0M478.2 328.5h0M478.3 323.2h0M478.9 328.0h0M479.5 317.0h0M479.8 323.0h0M480.0 327.3h0M479.9 316.9h0M480.7 316.9h0M481.0 321.6h0M481.0 318.2h0M480.8 325.9h0M480.9 335.0h0M480.8 322.1h0M481.6 327.4h0M482.1 321.5h0M481.9 328.1h0M482.1 322.3h0M482.7 326.0h0M483.1 328.2h0M482.8 328.2h0M483.2 338.1h0M482.8 323.6h0M483.5 317.4h0M483.4 322.8h0M483.5 320.0h0M484.0 330.1h0M483.8 335.4h0M484.5 323.4h0M485.0 331.2h0M484.8 330.1h0M484.9 334.8h0M485.6 326.6h0M485.6 324.3h0M485.5 321.1h0M485.5 324.6h0M486.1 337.6h0M486.6 323.3h0M486.9 323.6h0M487.0 323.8h0M487.3 325.5h0M487.7 325.8h0M488.1 335.8h0M487.9 318.6h0M487.8 332.2h0M488.1 317.1h0M488.7 328.4h0M489.0 321.3h0M489.0 316.6h0M489.0 315.6h0M489.3 334.8h0M489.7 334.2h0M489.8 326.8h0M490.0 327.6h0M490.7 331.6h0M490.6 322.4h0M490.7 318.8h0M490.8 326.8h0M491.6 331.9h0M491.7 336.3h0M492.0 317.9h0M492.8 315.7h0M493.2 316.8h0M493.0 316.2h0M493.5 331.1h0M493.7 320.9h0M493.6 336.1h0M494.0 332.3h0M494.4 326.7h0M494.4 327.0h0M495.1 326.5h0M494.9 327.8h0M494.8 317.7h0M495.2 315.1h0M495.7 335.3h0M495.9 318.6h0M496.2 338.6h0M495.9 322.9h0M496.5 318.5h0M496.4 316.5h0M496.5 320.5h0M496.5 327.2h0M496.7 323.1h0M496.7 328.8h0M497.0 317.9h0M497.2 328.4h0M497.6 326.3h0M497.5 334.6h0M498.2 336.1h0M498.7 330.1h0M498.4 322.5h0M498.7 319.1h0M498.3 332.1h0M499.2 322.2h0M499.0 324.9h0M499.1 337.4h0M498.8 324.0h0M499.0 315.5h0M499.5 338.9h0M500.1 327.2h0M499.8 323.8h0M500.2 314.7h0M500.4 335.4h0M500.5 328.0h0M501.0 319.2h0M501.2 314.5h0M501.6 324.5h0M501.6 337.5h0M501.5 322.3h0M501.5 328.0h0M501.6 326.3h0M501.3 334.1h0M501.9 335.2h0M502.5 319.3h0M502.4 327.3h0M502.7 335.7h0M503.0 321.0h0M503.6 319.9h0M503.4 314.3h0M503.8 314.5h0M504.2 332.9h0M504.5 324.0h0M504.5 317.1h0M504.9 320.2h0M505.5 315.5h0M506.0 327.3h0M506.0 325.9h0M505.8 324.8h0M506.0 317.8h0M506.1 315.0h0M506.9 316.1h0M507.1 327.5h0M507.6 322.9h0M507.5 313.9h0M507.5 316.7h0M507.4 327.4h0M507.5 337.4h0M508.0 313.4h0M508.2 327.3h0M507.9 335.3h0M507.8 312.9h0M508.4 328.5h0M508.6 322.0h0M508.6 323.1h0M509.2 321.2h0M508.9 326.7h0M509.5 318.7h0M509.3 324.7h0M510.0 322.8h0M510.1 324.5h0M510.5 316.6h0M510.4 320.6h0M510.9 332.6h0M511.0 314.3h0M511.6 314.6h0M511.6 310.8h0M512.0 328.4h0M513.0 315.9h0M513.1 318.8h0M512.8 333.2h0M513.7 323.8h0M513.3 316.3h0M513.8 328.7h0M514.1 326.0h0M514.4 319.4h0M514.5 315.6h0M515.5 326.2h0M516.2 324.0h0M516.6 317.5h0M516.5 323.0h0M516.7 324.8h0M517.3 326.9h0M517.9 317.3h0M518.0 318.4h0M518.3 319.9h0M518.9 320.1h0M518.8 319.2h0M518.8 321.0h0M519.2 315.1h0M519.0 323.4h0M520.0 316.1h0M521.2 318.3h0M521.6 318.8h0M66.5 420.5h0M69.5 421.0h0M72.0 420.0h0M146.7 419.5h0M156.5 417.0h0M186.0 417.0h0M217.0 418.0h0M233.4 416.5h0M300.0 403.0h0M302.0 402.5h0M312.0 401.0h0M380.0 386.0h0M445.0 373.5h0" stroke="#000" stroke-width="5.2" stroke-linecap="round" fill="none"/><line x1="67.5" y1="419.7" x2="523.5" y2="320.4" stroke="#f00" stroke-width="2.4"/><path d="M44.9 303.9V428.5H546.3" fill="none" stroke="#262626" stroke-width="1.1"/><path d="M46.0 428.5v2.0M56.4 428.5v2.0M65.7 428.5v3.5M126.8 428.5v2.0M162.5 428.5v2.0M187.9 428.5v2.0M207.5 428.5v2.0M223.6 428.5v2.0M237.2 428.5v2.0M248.9 428.5v2.0M259.3 428.5v2.0M268.6 428.5v3.5M329.7 428.5v2.0M365.4 428.5v2.0M390.8 428.5v2.0M410.4 428.5v2.0M426.5 428.5v2.0M440.1 428.5v2.0M451.8 428.5v2.0M462.2 428.5v2.0M471.5 428.5v3.5M532.6 428.5v2.0M44.9 425.9h-2.0M44.9 422.5h-2.0M44.9 419.8h-2.0M44.9 417.5h-2.0M44.9 415.5h-2.0M44.9 413.7h-2.0M44.9 412.1h-3.5M44.9 401.7h-2.0M44.9 395.6h-2.0M44.9 391.3h-2.0M44.9 387.9h-2.0M44.9 385.2h-2.0M44.9 382.9h-2.0M44.9 380.9h-2.0M44.9 379.1h-2.0M44.9 377.5h-3.5M44.9 367.1h-2.0M44.9 361.0h-2.0M44.9 356.7h-2.0M44.9 353.3h-2.0M44.9 350.6h-2.0M44.9 348.3h-2.0M44.9 346.3h-2.0M44.9 344.5h-2.0M44.9 342.9h-3.5M44.9 332.5h-2.0M44.9 326.4h-2.0M44.9 322.1h-2.0M44.9 318.7h-2.0M44.9 316.0h-2.0M44.9 313.7h-2.0M44.9 311.7h-2.0M44.9 309.9h-2.0M44.9 308.3h-3.5" stroke="#262626" stroke-width="0.8" fill="none"/><text x="65.9" y="444.4" text-anchor="middle" class="tk">10<tspan class="sup" dy="-3.1">1</tspan></text><text x="268.8" y="444.4" text-anchor="middle" class="tk">10<tspan class="sup" dy="-3.1">2</tspan></text><text x="471.7" y="444.4" text-anchor="middle" class="tk">10<tspan class="sup" dy="-3.1">3</tspan></text><text x="35.7" y="415.5" text-anchor="end" class="tk">10<tspan class="sup" dy="-3.1">2</tspan></text><text x="35.7" y="380.9" text-anchor="end" class="tk">10<tspan class="sup" dy="-3.1">3</tspan></text><text x="35.7" y="346.3" text-anchor="end" class="tk">10<tspan class="sup" dy="-3.1">4</tspan></text><text x="35.7" y="311.7" text-anchor="end" class="tk">10<tspan class="sup" dy="-3.1">5</tspan></text><text transform="translate(15.3 366.7) rotate(-90)" text-anchor="middle" class="yl">Shelterbelt Area (<tspan class="mi">m</tspan><tspan class="ysup" dx="0.3" dy="-4.1">2</tspan><tspan dy="4.1">)</tspan></text><text x="55.1" y="316.0" class="pl">c.</text><text x="75.8" y="317.1" class="eq">Log(y) = 1.131 + 1.277*Log(x)</text><text x="74.8" y="328.9" class="r2"><tspan font-style="italic">R</tspan><tspan class="rsup" dx="0.9" dy="-4.2">2</tspan><tspan dx="0.5" dy="4.2">=0.791</tspan></text><line x1="348.6" y1="416.3" x2="367.6" y2="416.3" stroke="#f00" stroke-width="2.3"/><text x="373.3" y="419.5" class="lg">Log-Log Fit</text><circle cx="447.6" cy="416.9" r="2.6" fill="#000"/><text x="463.3" y="419.6" class="lg">2016 Shelterbelts</text></g>
<text x="295.5" y="457.8" text-anchor="middle" class="xl">Approximated Shelterbelt Length (m)</text>
</svg>
</body></html>
